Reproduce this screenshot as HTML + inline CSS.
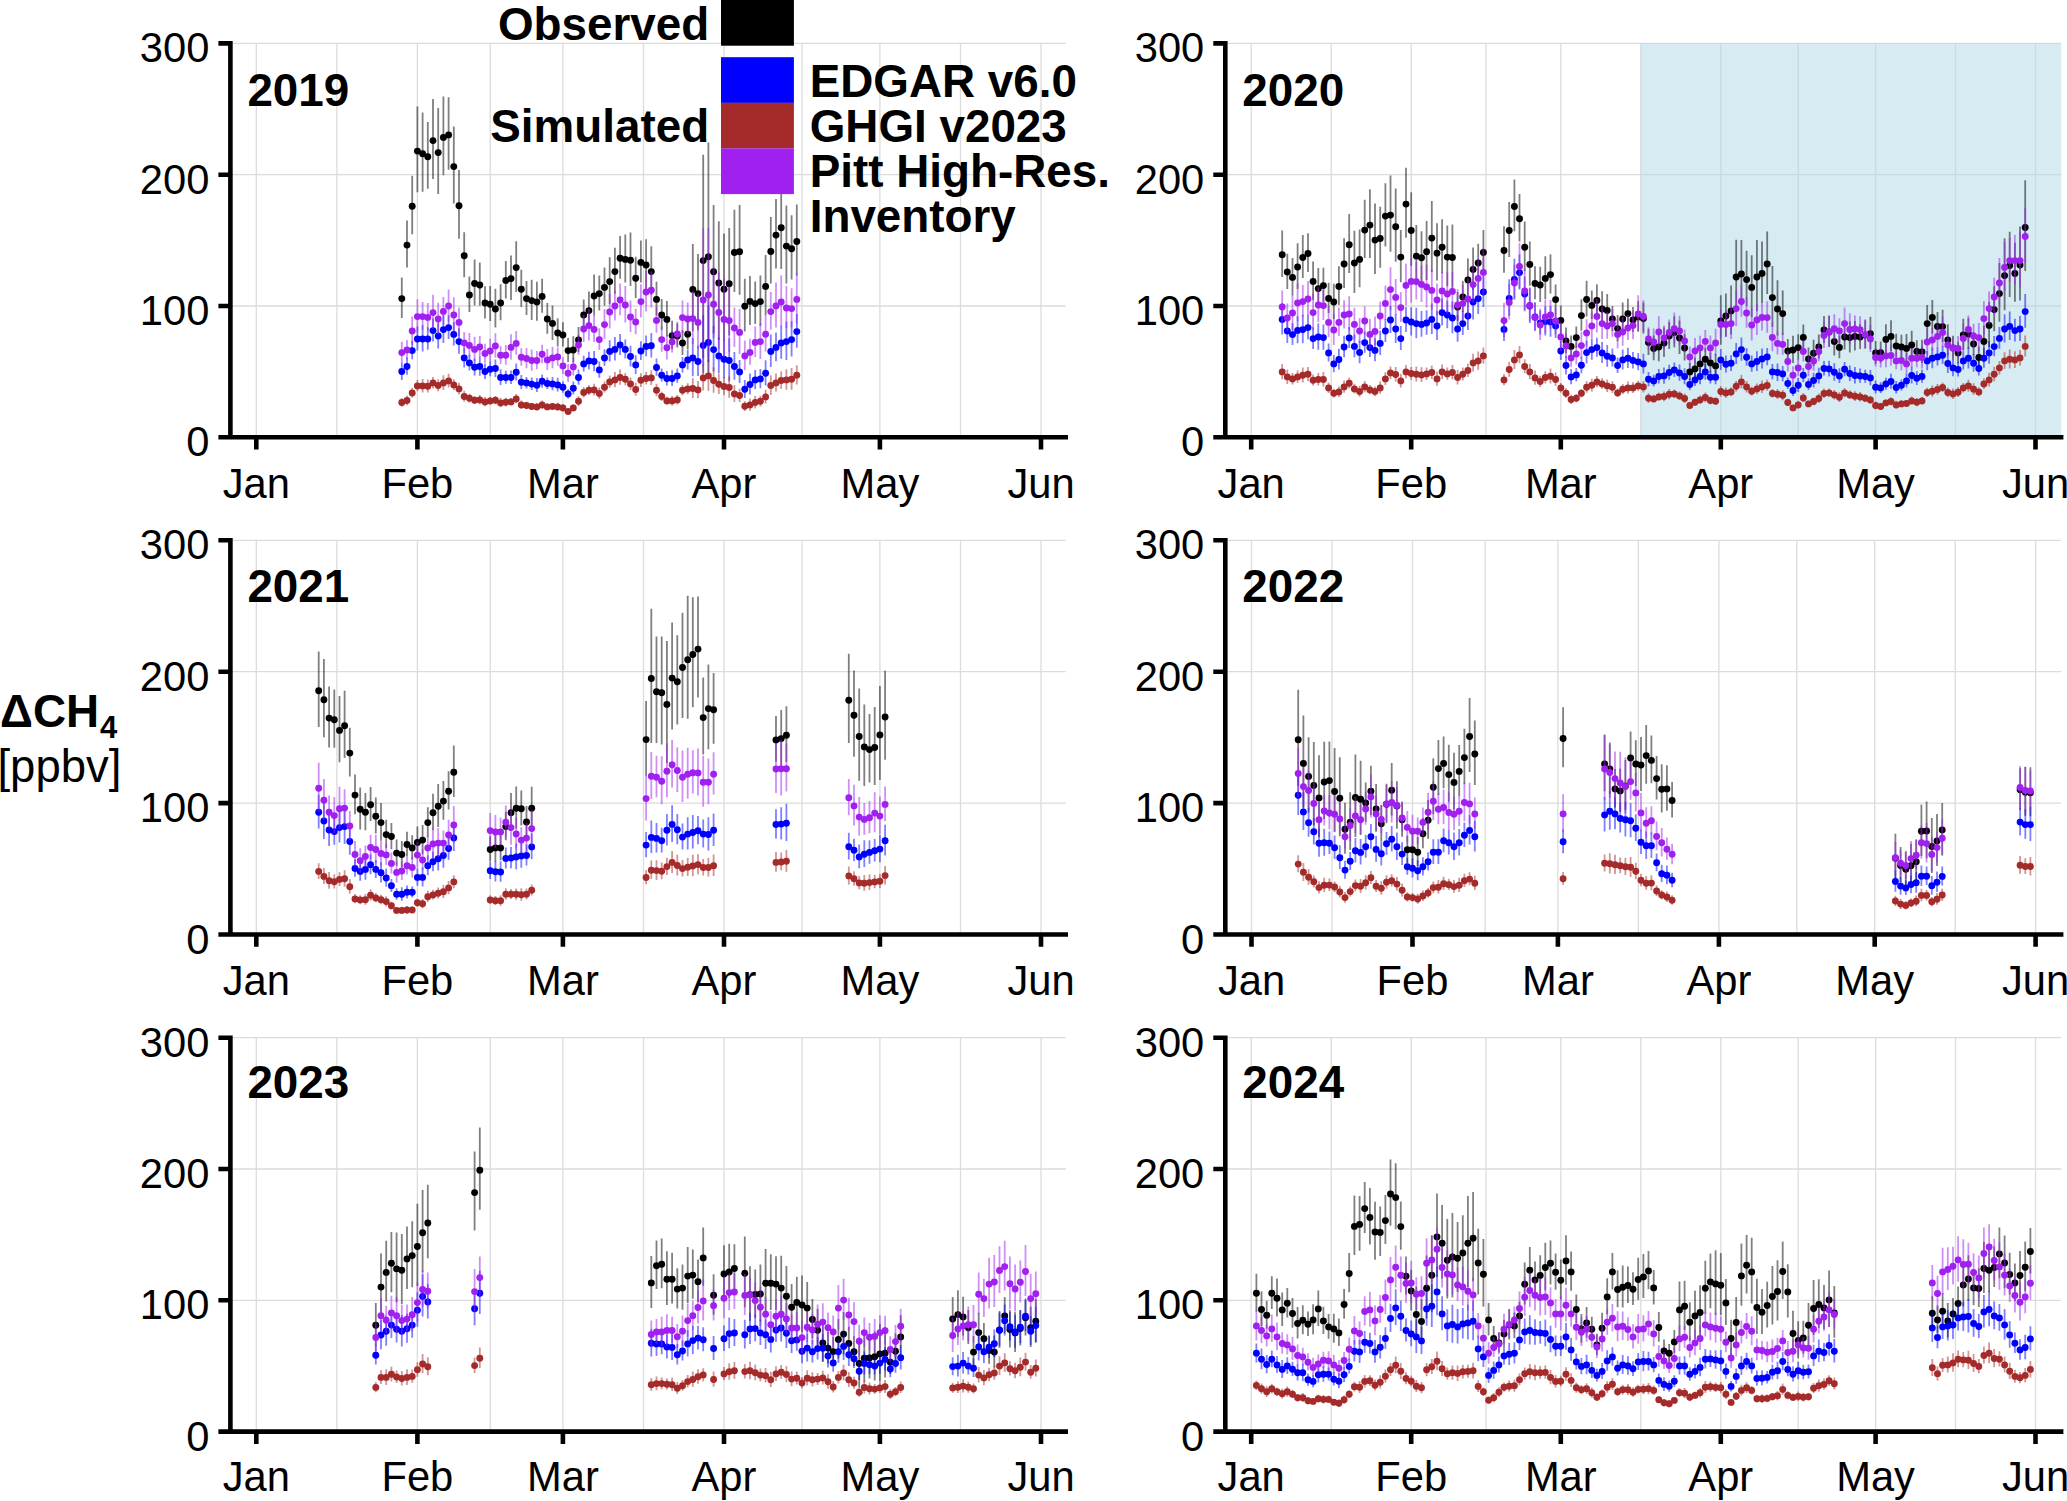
<!DOCTYPE html>
<html lang="en"><head><meta charset="utf-8"><title>Methane enhancement time series 2019-2024</title>
<style>
html,body{margin:0;padding:0;background:#fff}
body{width:2067px;height:1501px;overflow:hidden}
svg text{font-family:"Liberation Sans",Arial,Helvetica,sans-serif}
</style></head><body>
<svg width="2067" height="1501" viewBox="0 0 2067 1501" style="display:block">
<rect width="2067" height="1501" fill="#fff"/>
<g>
<path d="M256.3 43.4V437.3M417.4 43.4V437.3M562.9 43.4V437.3M724 43.4V437.3M879.9 43.4V437.3M1041 43.4V437.3M336.9 43.4V437.3M490.2 43.4V437.3M643.5 43.4V437.3M802 43.4V437.3M960.5 43.4V437.3M230.4 306H1065.8M230.4 174.7H1065.8M230.4 43.4H1065.8" stroke="#dcdcdc" stroke-width="1.3" fill="none"/>
<path d="M401.8 277.4V318.1M407 220.6V267.6M412.2 175.8V234.3M417.4 106.5V192.2M422.6 112.5V191.7M427.8 122V188.8M433 99.1V178.9M438.2 107.9V193.9M443.4 96.4V175.2M448.6 97.2V169.7M453.8 126.4V203.6M459 170.1V238.8M464.2 232.2V277.3M469.4 276.6V312M474.6 259.6V305.4M479.8 262.6V305.8M485 286.3V318.4M490.2 285.9V321.1M495.4 288.8V327.6M500.6 284.3V320.2M505.8 261V298.4M511 255.5V300M516.2 241.3V292M521.3 269.8V307.1M526.5 280.9V315M531.7 279.7V319.9M536.9 281.7V320.7M542.1 278.8V312.7M547.3 303V333.7M552.5 305.5V339.9M557.7 318.2V346.6M562.9 322.3V346.6M568.1 338.1V362M573.3 336.3V362.6M578.5 327V351.9M583.7 299.5V329.2M588.9 291.4V328.3M594.1 274.6V315.8M599.3 275.4V310.4M604.5 267.5V305.8M609.7 257.3V304.1M614.9 247.8V293.7M620.1 236.1V278.7M625.3 234.4V282.6M630.5 232.4V285.9M635.7 256.7V298.1M640.9 240.6V282.6M646.1 239.3V288.8M651.3 246.2V295.1M656.5 281.7V315.7M661.7 299V329.7M666.9 301.1V336.3M672.1 320.7V349.3M677.3 323.4V347.6M682.5 329.9V355M687.7 318V349.1M692.8 244.1V331.3M698 254V330.2M703.2 154.8V358.3M708.4 142.6V361.9M713.6 204.9V333.6M718.8 221.3V340M724 233.5V340.6M729.2 228V335.4M734.4 209.7V291.9M739.6 204.9V294.8M744.8 278.7V331.5M750 276V324.9M755.2 281.6V324M760.4 275.4V325.8M765.6 255V315.4M770.8 216.9V283.4M776 199V268.4M781.2 182.8V269.1M786.4 205.5V283.5M791.6 215.2V279.5M796.8 204.6V275.5" stroke="#000000" stroke-opacity="0.5" stroke-width="1.8" fill="none"/>
<g fill="#000000"><circle cx="401.8" cy="298.6" r="3.45"/><circle cx="407" cy="245.1" r="3.45"/><circle cx="412.2" cy="206.2" r="3.45"/><circle cx="417.4" cy="151.1" r="3.45"/><circle cx="422.6" cy="153.7" r="3.45"/><circle cx="427.8" cy="156.7" r="3.45"/><circle cx="433" cy="140.6" r="3.45"/><circle cx="438.2" cy="152.6" r="3.45"/><circle cx="443.4" cy="137.4" r="3.45"/><circle cx="448.6" cy="134.9" r="3.45"/><circle cx="453.8" cy="166.6" r="3.45"/><circle cx="459" cy="205.8" r="3.45"/><circle cx="464.2" cy="255.7" r="3.45"/><circle cx="469.4" cy="295" r="3.45"/><circle cx="474.6" cy="283.4" r="3.45"/><circle cx="479.8" cy="285" r="3.45"/><circle cx="485" cy="303" r="3.45"/><circle cx="490.2" cy="304.2" r="3.45"/><circle cx="495.4" cy="309" r="3.45"/><circle cx="500.6" cy="303" r="3.45"/><circle cx="505.8" cy="280.4" r="3.45"/><circle cx="511" cy="278.6" r="3.45"/><circle cx="516.2" cy="267.6" r="3.45"/><circle cx="521.3" cy="289.2" r="3.45"/><circle cx="526.5" cy="298.6" r="3.45"/><circle cx="531.7" cy="300.6" r="3.45"/><circle cx="536.9" cy="302" r="3.45"/><circle cx="542.1" cy="296.4" r="3.45"/><circle cx="547.3" cy="319" r="3.45"/><circle cx="552.5" cy="323.4" r="3.45"/><circle cx="557.7" cy="333" r="3.45"/><circle cx="562.9" cy="335" r="3.45"/><circle cx="568.1" cy="350.6" r="3.45"/><circle cx="573.3" cy="350" r="3.45"/><circle cx="578.5" cy="340" r="3.45"/><circle cx="583.7" cy="315" r="3.45"/><circle cx="588.9" cy="310.6" r="3.45"/><circle cx="594.1" cy="296" r="3.45"/><circle cx="599.3" cy="293.6" r="3.45"/><circle cx="604.5" cy="287.4" r="3.45"/><circle cx="609.7" cy="281.6" r="3.45"/><circle cx="614.9" cy="271.6" r="3.45"/><circle cx="620.1" cy="258.3" r="3.45"/><circle cx="625.3" cy="259.4" r="3.45"/><circle cx="630.5" cy="260.2" r="3.45"/><circle cx="635.7" cy="278.2" r="3.45"/><circle cx="640.9" cy="262.4" r="3.45"/><circle cx="646.1" cy="265" r="3.45"/><circle cx="651.3" cy="271.6" r="3.45"/><circle cx="656.5" cy="299.4" r="3.45"/><circle cx="661.7" cy="315" r="3.45"/><circle cx="666.9" cy="319.4" r="3.45"/><circle cx="672.1" cy="335.6" r="3.45"/><circle cx="677.3" cy="336" r="3.45"/><circle cx="682.5" cy="343" r="3.45"/><circle cx="687.7" cy="334.2" r="3.45"/><circle cx="692.8" cy="289.4" r="3.45"/><circle cx="698" cy="293.6" r="3.45"/><circle cx="703.2" cy="260.6" r="3.45"/><circle cx="708.4" cy="256.7" r="3.45"/><circle cx="713.6" cy="271.8" r="3.45"/><circle cx="718.8" cy="283" r="3.45"/><circle cx="724" cy="289.2" r="3.45"/><circle cx="729.2" cy="283.8" r="3.45"/><circle cx="734.4" cy="252.5" r="3.45"/><circle cx="739.6" cy="251.7" r="3.45"/><circle cx="744.8" cy="306.2" r="3.45"/><circle cx="750" cy="301.4" r="3.45"/><circle cx="755.2" cy="303.6" r="3.45"/><circle cx="760.4" cy="301.6" r="3.45"/><circle cx="765.6" cy="286.4" r="3.45"/><circle cx="770.8" cy="251.5" r="3.45"/><circle cx="776" cy="235.1" r="3.45"/><circle cx="781.2" cy="227.7" r="3.45"/><circle cx="786.4" cy="246.1" r="3.45"/><circle cx="791.6" cy="248.7" r="3.45"/><circle cx="796.8" cy="241.5" r="3.45"/></g>
<path d="M401.8 362.4V380M407 357.6V374.8M412.2 341V359.3M417.4 326.5V350.5M422.6 325.3V351.6M427.8 327.3V349.8M433 318.6V341.6M438.2 322.4V348.5M443.4 315V343M448.6 315.2V339M453.8 322.3V345.5M459 328.3V353.8M464.2 347.7V367.4M469.4 354.8V370.5M474.6 358.6V375.4M479.8 356.7V375.7M485 363.6V378.9M490.2 361.8V376.3M495.4 359.4V376.9M500.6 369.3V385.1M505.8 370.7V383.8M511 370.6V383.9M516.2 363.4V380.6M521.3 375.1V389M526.5 376.9V388.5M531.7 377.6V390.1M536.9 378V392M542.1 374.4V387.7M547.3 377.6V389M552.5 377V390.3M557.7 377.7V391.6M562.9 381.5V392.7M568.1 389V398.5M573.3 381.6V394.5M578.5 369.6V384.8M583.7 355.8V371.5M588.9 351.7V369.4M594.1 351V371.3M599.3 361.5V377.7M604.5 349.2V366M609.7 340.3V361.5M614.9 337.1V360.6M620.1 334.1V355M625.3 339.5V358.5M630.5 345.7V366.6M635.7 355.2V373.9M640.9 341.3V359.9M646.1 335.6V356.3M651.3 333V357.5M656.5 358.6V375.8M661.7 368.5V381.6M666.9 371.1V385.4M672.1 370.3V386.1M677.3 368.6V382.7M682.5 356.9V372.4M687.7 349.6V369.4M692.8 338.1V376.2M698 345.8V376.1M703.2 315V373.3M708.4 305.2V376.7M713.6 325.8V371.5M718.8 337.3V373.2M724 339.3V377.9M729.2 338.2V381.2M734.4 352.1V379.8M739.6 359.9V383M744.8 379.9V398M750 373.6V394.6M755.2 370V389.1M760.4 368.9V388.2M765.6 360.2V385.5M770.8 334.4V367M776 332.4V361.2M781.2 325.8V358.8M786.4 321.5V360.1M791.6 321.3V356.4M796.8 314.1V347.7" stroke="#0000FF" stroke-opacity="0.5" stroke-width="1.8" fill="none"/>
<g fill="#0000FF"><circle cx="401.8" cy="371.5" r="3.45"/><circle cx="407" cy="366.5" r="3.45"/><circle cx="412.2" cy="350.6" r="3.45"/><circle cx="417.4" cy="339" r="3.45"/><circle cx="422.6" cy="339" r="3.45"/><circle cx="427.8" cy="339" r="3.45"/><circle cx="433" cy="330.6" r="3.45"/><circle cx="438.2" cy="336" r="3.45"/><circle cx="443.4" cy="329.6" r="3.45"/><circle cx="448.6" cy="327.6" r="3.45"/><circle cx="453.8" cy="334.4" r="3.45"/><circle cx="459" cy="341.6" r="3.45"/><circle cx="464.2" cy="357.9" r="3.45"/><circle cx="469.4" cy="362.9" r="3.45"/><circle cx="474.6" cy="367.3" r="3.45"/><circle cx="479.8" cy="366.5" r="3.45"/><circle cx="485" cy="371.5" r="3.45"/><circle cx="490.2" cy="369.3" r="3.45"/><circle cx="495.4" cy="368.5" r="3.45"/><circle cx="500.6" cy="377.5" r="3.45"/><circle cx="505.8" cy="377.5" r="3.45"/><circle cx="511" cy="377.5" r="3.45"/><circle cx="516.2" cy="372.3" r="3.45"/><circle cx="521.3" cy="382.3" r="3.45"/><circle cx="526.5" cy="382.9" r="3.45"/><circle cx="531.7" cy="384.1" r="3.45"/><circle cx="536.9" cy="385.3" r="3.45"/><circle cx="542.1" cy="381.3" r="3.45"/><circle cx="547.3" cy="383.5" r="3.45"/><circle cx="552.5" cy="383.9" r="3.45"/><circle cx="557.7" cy="384.9" r="3.45"/><circle cx="562.9" cy="387.3" r="3.45"/><circle cx="568.1" cy="393.9" r="3.45"/><circle cx="573.3" cy="388.3" r="3.45"/><circle cx="578.5" cy="377.5" r="3.45"/><circle cx="583.7" cy="363.9" r="3.45"/><circle cx="588.9" cy="360.9" r="3.45"/><circle cx="594.1" cy="361.5" r="3.45"/><circle cx="599.3" cy="369.9" r="3.45"/><circle cx="604.5" cy="357.9" r="3.45"/><circle cx="609.7" cy="351.4" r="3.45"/><circle cx="614.9" cy="349.4" r="3.45"/><circle cx="620.1" cy="345" r="3.45"/><circle cx="625.3" cy="349.4" r="3.45"/><circle cx="630.5" cy="356.5" r="3.45"/><circle cx="635.7" cy="364.9" r="3.45"/><circle cx="640.9" cy="351" r="3.45"/><circle cx="646.1" cy="346.4" r="3.45"/><circle cx="651.3" cy="345.8" r="3.45"/><circle cx="656.5" cy="367.5" r="3.45"/><circle cx="661.7" cy="375.3" r="3.45"/><circle cx="666.9" cy="378.5" r="3.45"/><circle cx="672.1" cy="378.5" r="3.45"/><circle cx="677.3" cy="375.9" r="3.45"/><circle cx="682.5" cy="364.9" r="3.45"/><circle cx="687.7" cy="359.9" r="3.45"/><circle cx="692.8" cy="357.9" r="3.45"/><circle cx="698" cy="361.5" r="3.45"/><circle cx="703.2" cy="345.4" r="3.45"/><circle cx="708.4" cy="342.4" r="3.45"/><circle cx="713.6" cy="349.6" r="3.45"/><circle cx="718.8" cy="355.9" r="3.45"/><circle cx="724" cy="359.3" r="3.45"/><circle cx="729.2" cy="360.5" r="3.45"/><circle cx="734.4" cy="366.5" r="3.45"/><circle cx="739.6" cy="371.9" r="3.45"/><circle cx="744.8" cy="389.3" r="3.45"/><circle cx="750" cy="384.5" r="3.45"/><circle cx="755.2" cy="379.9" r="3.45"/><circle cx="760.4" cy="378.9" r="3.45"/><circle cx="765.6" cy="373.3" r="3.45"/><circle cx="770.8" cy="351.4" r="3.45"/><circle cx="776" cy="347.4" r="3.45"/><circle cx="781.2" cy="343" r="3.45"/><circle cx="786.4" cy="341.6" r="3.45"/><circle cx="791.6" cy="339.6" r="3.45"/><circle cx="796.8" cy="331.6" r="3.45"/></g>
<path d="M401.8 398V406.7M407 395.4V405.2M412.2 387.7V397.7M417.4 380.1V391.3M422.6 378.9V392.4M427.8 379.5V392.6M433 376.9V388.5M438.2 379.3V391.2M443.4 375.3V389.9M448.6 373.8V387.5M453.8 379.2V390.2M459 382.7V394.6M464.2 390.8V401.7M469.4 393.7V402.6M474.6 396.1V404.1M479.8 394.9V404.5M485 397.1V406.3M490.2 396.8V404.7M495.4 395.9V404.3M500.6 398.1V407.3M505.8 397.8V406.4M511 398V405.5M516.2 394.1V403.3M521.3 400.4V409.1M526.5 401.7V409M531.7 403.1V409.7M536.9 402.9V410.6M542.1 400.5V409M547.3 403.4V410.1M552.5 402.9V409.8M557.7 402.7V410.8M562.9 404.1V411.4M568.1 408.6V414.1M573.3 404.3V411.2M578.5 396.3V405.9M583.7 387V397.6M588.9 385.1V395.1M594.1 383.7V395.6M599.3 387.5V399.1M604.5 381.5V392.6M609.7 375.6V387.8M614.9 372.1V387.2M620.1 369.6V384.8M625.3 372.9V385.3M630.5 377.5V389.9M635.7 382.8V395.7M640.9 373.2V386.9M646.1 372.1V384.5M651.3 370.3V385M656.5 383.8V396.3M661.7 391.7V400.9M666.9 396.8V404.7M672.1 396V405.4M677.3 394.9V404.5M682.5 385V395.2M687.7 383.2V394.2M692.8 378.3V397.9M698 380.9V398.3M703.2 364.3V390.5M708.4 359.8V390.8M713.6 367.3V392.7M718.8 373.8V394.1M724 377.1V395.2M729.2 376.4V397.7M734.4 385.1V402.1M739.6 388.4V402.1M744.8 401.2V411M750 398.5V410.8M755.2 396.1V408.4M760.4 395.7V406.5M765.6 389.8V403.5M770.8 375.3V395M776 373.5V391.6M781.2 371.6V388.7M786.4 369.2V389.8M791.6 368.1V389.7M796.8 365.2V384.6" stroke="#A52A2A" stroke-opacity="0.5" stroke-width="1.8" fill="none"/>
<g fill="#A52A2A"><circle cx="401.8" cy="402.5" r="3.45"/><circle cx="407" cy="400.5" r="3.45"/><circle cx="412.2" cy="392.9" r="3.45"/><circle cx="417.4" cy="385.9" r="3.45"/><circle cx="422.6" cy="385.9" r="3.45"/><circle cx="427.8" cy="386.3" r="3.45"/><circle cx="433" cy="382.9" r="3.45"/><circle cx="438.2" cy="385.5" r="3.45"/><circle cx="443.4" cy="382.9" r="3.45"/><circle cx="448.6" cy="380.9" r="3.45"/><circle cx="453.8" cy="384.9" r="3.45"/><circle cx="459" cy="388.9" r="3.45"/><circle cx="464.2" cy="396.5" r="3.45"/><circle cx="469.4" cy="398.3" r="3.45"/><circle cx="474.6" cy="400.3" r="3.45"/><circle cx="479.8" cy="399.9" r="3.45"/><circle cx="485" cy="401.9" r="3.45"/><circle cx="490.2" cy="400.9" r="3.45"/><circle cx="495.4" cy="400.3" r="3.45"/><circle cx="500.6" cy="402.9" r="3.45"/><circle cx="505.8" cy="402.3" r="3.45"/><circle cx="511" cy="401.9" r="3.45"/><circle cx="516.2" cy="398.9" r="3.45"/><circle cx="521.3" cy="404.9" r="3.45"/><circle cx="526.5" cy="405.5" r="3.45"/><circle cx="531.7" cy="406.5" r="3.45"/><circle cx="536.9" cy="406.9" r="3.45"/><circle cx="542.1" cy="404.9" r="3.45"/><circle cx="547.3" cy="406.9" r="3.45"/><circle cx="552.5" cy="406.5" r="3.45"/><circle cx="557.7" cy="406.9" r="3.45"/><circle cx="562.9" cy="407.9" r="3.45"/><circle cx="568.1" cy="411.5" r="3.45"/><circle cx="573.3" cy="407.9" r="3.45"/><circle cx="578.5" cy="401.3" r="3.45"/><circle cx="583.7" cy="392.5" r="3.45"/><circle cx="588.9" cy="390.3" r="3.45"/><circle cx="594.1" cy="389.9" r="3.45"/><circle cx="599.3" cy="393.5" r="3.45"/><circle cx="604.5" cy="387.3" r="3.45"/><circle cx="609.7" cy="381.9" r="3.45"/><circle cx="614.9" cy="379.9" r="3.45"/><circle cx="620.1" cy="377.5" r="3.45"/><circle cx="625.3" cy="379.3" r="3.45"/><circle cx="630.5" cy="383.9" r="3.45"/><circle cx="635.7" cy="389.5" r="3.45"/><circle cx="640.9" cy="380.3" r="3.45"/><circle cx="646.1" cy="378.5" r="3.45"/><circle cx="651.3" cy="377.9" r="3.45"/><circle cx="656.5" cy="390.3" r="3.45"/><circle cx="661.7" cy="396.5" r="3.45"/><circle cx="666.9" cy="400.9" r="3.45"/><circle cx="672.1" cy="400.9" r="3.45"/><circle cx="677.3" cy="399.9" r="3.45"/><circle cx="682.5" cy="390.3" r="3.45"/><circle cx="687.7" cy="388.9" r="3.45"/><circle cx="692.8" cy="388.5" r="3.45"/><circle cx="698" cy="389.9" r="3.45"/><circle cx="703.2" cy="377.9" r="3.45"/><circle cx="708.4" cy="375.9" r="3.45"/><circle cx="713.6" cy="380.5" r="3.45"/><circle cx="718.8" cy="384.3" r="3.45"/><circle cx="724" cy="386.5" r="3.45"/><circle cx="729.2" cy="387.5" r="3.45"/><circle cx="734.4" cy="393.9" r="3.45"/><circle cx="739.6" cy="395.5" r="3.45"/><circle cx="744.8" cy="406.3" r="3.45"/><circle cx="750" cy="404.9" r="3.45"/><circle cx="755.2" cy="402.5" r="3.45"/><circle cx="760.4" cy="401.3" r="3.45"/><circle cx="765.6" cy="396.9" r="3.45"/><circle cx="770.8" cy="385.5" r="3.45"/><circle cx="776" cy="382.9" r="3.45"/><circle cx="781.2" cy="380.5" r="3.45"/><circle cx="786.4" cy="379.9" r="3.45"/><circle cx="791.6" cy="379.3" r="3.45"/><circle cx="796.8" cy="375.3" r="3.45"/></g>
<path d="M401.8 341.8V362.5M407 339.9V359.2M412.2 316.4V344.4M417.4 299.3V332.5M422.6 302.1V329.9M427.8 303V330.6M433 294.8V329M438.2 302.8V334M443.4 296.9V324.8M448.6 289.4V321.4M453.8 297.2V331.4M459 307.5V336.1M464.2 332.1V352.9M469.4 333V356.8M474.6 336.7V361.1M479.8 336V357.1M485 343.7V362.7M490.2 338.7V362.2M495.4 333.3V357.7M500.6 345.8V364.1M505.8 345.1V364.8M511 334.3V359.4M516.2 331V354.8M521.3 348.2V365.8M526.5 348.1V368.2M531.7 349.4V370.8M536.9 351V369.3M542.1 344.7V363.3M547.3 349.1V369.9M552.5 346.8V368.3M557.7 347.5V365.7M562.9 357.2V374M568.1 364.1V381.9M573.3 357.5V375.6M578.5 334.4V354.7M583.7 314.9V342M588.9 309.3V340.6M594.1 315.8V341.9M599.3 328.3V350M604.5 309.1V338.9M609.7 294.1V328.5M614.9 290.4V320.4M620.1 283.5V315.3M625.3 286V322.5M630.5 300.6V332.1M635.7 308.7V334.2M640.9 284.3V317.6M646.1 270.9V311.5M651.3 271.4V307.6M656.5 307V332.8M661.7 326.3V351.8M666.9 334.9V359.6M672.1 330.4V352.6M677.3 321.7V345.3M682.5 300.6V333.3M687.7 302.6V334.1M692.8 291.1V344M698 293.6V349M703.2 228.2V366.3M708.4 228.1V356.8M713.6 267.6V338M718.8 272.4V349.3M724 278.4V357.2M729.2 286.2V352.3M734.4 307.5V346.9M739.6 308.8V354.1M744.8 340.4V370.3M750 338.8V364.8M755.2 326.4V357.1M760.4 322.7V359M765.6 315.5V351.4M770.8 292V329.7M776 282.6V327.6M781.2 275.3V326.7M786.4 286V328.3M791.6 288.3V327.3M796.8 273.4V323.4" stroke="#A020F0" stroke-opacity="0.5" stroke-width="1.8" fill="none"/>
<g fill="#A020F0"><circle cx="401.8" cy="352.6" r="3.45"/><circle cx="407" cy="350" r="3.45"/><circle cx="412.2" cy="331" r="3.45"/><circle cx="417.4" cy="316.6" r="3.45"/><circle cx="422.6" cy="316.6" r="3.45"/><circle cx="427.8" cy="317.4" r="3.45"/><circle cx="433" cy="312.6" r="3.45"/><circle cx="438.2" cy="319" r="3.45"/><circle cx="443.4" cy="311.4" r="3.45"/><circle cx="448.6" cy="306" r="3.45"/><circle cx="453.8" cy="315" r="3.45"/><circle cx="459" cy="322.4" r="3.45"/><circle cx="464.2" cy="343" r="3.45"/><circle cx="469.4" cy="345.4" r="3.45"/><circle cx="474.6" cy="349.4" r="3.45"/><circle cx="479.8" cy="347" r="3.45"/><circle cx="485" cy="353.5" r="3.45"/><circle cx="490.2" cy="351" r="3.45"/><circle cx="495.4" cy="346" r="3.45"/><circle cx="500.6" cy="355.3" r="3.45"/><circle cx="505.8" cy="355.3" r="3.45"/><circle cx="511" cy="347.4" r="3.45"/><circle cx="516.2" cy="343.4" r="3.45"/><circle cx="521.3" cy="357.3" r="3.45"/><circle cx="526.5" cy="358.5" r="3.45"/><circle cx="531.7" cy="360.5" r="3.45"/><circle cx="536.9" cy="360.5" r="3.45"/><circle cx="542.1" cy="354.3" r="3.45"/><circle cx="547.3" cy="359.9" r="3.45"/><circle cx="552.5" cy="357.9" r="3.45"/><circle cx="557.7" cy="356.9" r="3.45"/><circle cx="562.9" cy="365.9" r="3.45"/><circle cx="568.1" cy="373.3" r="3.45"/><circle cx="573.3" cy="366.9" r="3.45"/><circle cx="578.5" cy="345" r="3.45"/><circle cx="583.7" cy="329" r="3.45"/><circle cx="588.9" cy="325.6" r="3.45"/><circle cx="594.1" cy="329.4" r="3.45"/><circle cx="599.3" cy="339.6" r="3.45"/><circle cx="604.5" cy="324.6" r="3.45"/><circle cx="609.7" cy="312" r="3.45"/><circle cx="614.9" cy="306" r="3.45"/><circle cx="620.1" cy="300" r="3.45"/><circle cx="625.3" cy="305" r="3.45"/><circle cx="630.5" cy="317" r="3.45"/><circle cx="635.7" cy="322" r="3.45"/><circle cx="640.9" cy="301.6" r="3.45"/><circle cx="646.1" cy="292" r="3.45"/><circle cx="651.3" cy="290.2" r="3.45"/><circle cx="656.5" cy="320.4" r="3.45"/><circle cx="661.7" cy="339.6" r="3.45"/><circle cx="666.9" cy="347.8" r="3.45"/><circle cx="672.1" cy="342" r="3.45"/><circle cx="677.3" cy="334" r="3.45"/><circle cx="682.5" cy="317.6" r="3.45"/><circle cx="687.7" cy="319" r="3.45"/><circle cx="692.8" cy="318.6" r="3.45"/><circle cx="698" cy="322.4" r="3.45"/><circle cx="703.2" cy="300" r="3.45"/><circle cx="708.4" cy="295" r="3.45"/><circle cx="713.6" cy="304.2" r="3.45"/><circle cx="718.8" cy="312.4" r="3.45"/><circle cx="724" cy="319.4" r="3.45"/><circle cx="729.2" cy="320.6" r="3.45"/><circle cx="734.4" cy="328" r="3.45"/><circle cx="739.6" cy="332.4" r="3.45"/><circle cx="744.8" cy="355.9" r="3.45"/><circle cx="750" cy="352.4" r="3.45"/><circle cx="755.2" cy="342.4" r="3.45"/><circle cx="760.4" cy="341.6" r="3.45"/><circle cx="765.6" cy="334.2" r="3.45"/><circle cx="770.8" cy="311.6" r="3.45"/><circle cx="776" cy="306" r="3.45"/><circle cx="781.2" cy="302" r="3.45"/><circle cx="786.4" cy="308" r="3.45"/><circle cx="791.6" cy="308.6" r="3.45"/><circle cx="796.8" cy="299.4" r="3.45"/></g>
<path d="M230.4 41.1V437.3M228.1 437.3H1068M218.4 437.3H230.4M218.4 306H230.4M218.4 174.7H230.4M218.4 43.4H230.4M256.3 437.3V449.6M417.4 437.3V449.6M562.9 437.3V449.6M724 437.3V449.6M879.9 437.3V449.6M1041 437.3V449.6" stroke="#000" stroke-width="4.6" fill="none"/>
<g font-size="41.7" fill="#000"><text x="209.4" y="456.3" text-anchor="end">0</text><text x="209.4" y="325" text-anchor="end">100</text><text x="209.4" y="193.7" text-anchor="end">200</text><text x="209.4" y="62.4" text-anchor="end">300</text><text x="256.3" y="497.6" text-anchor="middle">Jan</text><text x="417.4" y="497.6" text-anchor="middle">Feb</text><text x="562.9" y="497.6" text-anchor="middle">Mar</text><text x="724" y="497.6" text-anchor="middle">Apr</text><text x="879.9" y="497.6" text-anchor="middle">May</text><text x="1041" y="497.6" text-anchor="middle">Jun</text></g>
<text x="247.4" y="105.5" font-size="45.8" font-weight="bold">2019</text>
</g>
<g>
<path d="M1251.2 43.4V437.3M1411.2 43.4V437.3M1560.8 43.4V437.3M1720.8 43.4V437.3M1875.6 43.4V437.3M2035.5 43.4V437.3M1331.2 43.4V437.3M1486 43.4V437.3M1640.8 43.4V437.3M1798.2 43.4V437.3M1955.5 43.4V437.3M1225.3 306H2061.2M1225.3 174.7H2061.2M1225.3 43.4H2061.2" stroke="#dcdcdc" stroke-width="1.3" fill="none"/>
<rect x="1640.8" y="43.4" width="420.4" height="393.9" fill="#ADD8E6" fill-opacity="0.5"/>
<path d="M1282.2 230.5V276.9M1287.3 253.7V289M1292.5 258.1V295.3M1297.6 243.3V289M1302.8 235V278.1M1308 233.2V272.1M1313.1 261.4V300M1318.3 268V307.6M1323.4 267.8V302M1328.6 282.7V312.9M1333.8 283.7V318.9M1338.9 266.2V305.1M1344.1 238.2V287.9M1349.2 214.1V272.9M1354.4 230.7V292.9M1359.6 229.4V287.2M1364.7 199.7V258.1M1369.9 189.3V258.1M1375 203.4V273.9M1380.2 206.8V267.7M1385.4 183.2V246.5M1390.5 175.5V251.7M1395.7 188.6V261.8M1400.8 229.9V282.2M1406 167.7V237.7M1411.2 192.3V265.7M1416.3 224.9V284.8M1421.5 231.3V282M1426.6 220.9V280.1M1431.8 201V272.3M1437 223.2V280.6M1442.1 219.2V273.2M1447.3 225.4V286.3M1452.4 224.6V287.8M1457.6 292.1V320.8M1462.8 280.9V311.9M1467.9 258.4V300M1473.1 247.4V289.8M1478.2 243.8V280.8M1483.4 229.9V273.3M1504 226.2V272.8M1509.2 201.9V256.9M1514.4 179.6V231.3M1519.5 193.9V241.6M1524.7 221.4V271.1M1529.8 241.4V285.7M1535 266.3V299.2M1540.2 266.8V301.9M1545.3 256.3V298.9M1550.5 254.2V293.5M1555.6 284.5V313.6M1560.8 305.5V334.2M1566 327.6V353.3M1571.1 335.6V356.3M1576.3 326.4V347.9M1581.4 299.2V330.7M1586.6 280.8V316.6M1591.8 290.6V319.1M1596.9 284.3V315.3M1602.1 291.2V325.4M1607.2 294.1V325.4M1612.4 306V331M1617.6 314.9V341.2M1622.7 302.5V334.2M1627.9 298.7V327.3M1633 306.9V332M1638.2 301V331.7M1643.4 302.4V333.5M1648.5 329.1V355M1653.7 335.5V360.3M1658.8 331.4V361.3M1664 327.6V357.1M1669.2 322V348.9M1674.3 316.2V347.3M1679.5 320.6V354M1684.6 334.3V360.6M1689.8 362.9V380.3M1695 357.8V379.2M1700.1 351.3V375.6M1705.3 348.1V369.7M1710.4 352.3V372.7M1715.6 353.7V377.2M1720.8 295.3V344.7M1725.9 293.6V336.7M1731.1 285.5V334.5M1736.2 239.7V311.5M1741.4 240.1V305.4M1746.6 250.7V306.3M1751.7 255.3V317.1M1756.9 240V311.2M1762 241.4V303M1767.2 231.5V294.1M1772.4 266.1V326.7M1777.5 280.3V335.5M1782.7 290.5V334.9M1787.8 339V362M1793 335.8V363M1798.2 334.2V359.8M1803.3 324.6V349.2M1808.5 347.4V369.6M1813.6 339.7V365.9M1818.8 334.4V358.6M1824 316V342.9M1829.1 315.6V347.1M1834.3 326.4V355.6M1839.4 335.5V358.3M1844.6 323.3V349.6M1849.8 321.5V352.4M1854.9 321.1V350.4M1860.1 324.1V348.9M1865.2 320.2V348.6M1870.4 316.7V349.2M1875.6 341V364M1880.7 341.6V362.7M1885.9 324.3V353.2M1891 320.2V351.3M1896.2 333.7V357.3M1901.4 334.8V358.1M1906.5 334.1V361.5M1911.7 330.8V358M1916.8 340.3V361.6M1922 339.8V363.2M1927.2 305V340.7M1932.3 300.1V333.4M1937.5 312.1V339.5M1942.6 309.8V342M1947.8 324.3V354.5M1953 335.8V359.2M1958.1 341.8V363.3M1963.3 318.7V350M1968.4 317.9V348.8M1973.6 331.8V355.2M1978.8 346.4V367.8M1983.9 325.8V355.8M1989.1 301.9V347.1M1994.2 286.2V331.2M1999.4 263.1V321.8M2004.6 238.2V310.2M2009.7 231.7V296.9M2014.9 242.8V301.7M2020 226.5V300.6M2025.2 180.3V271.1" stroke="#000000" stroke-opacity="0.5" stroke-width="1.8" fill="none"/>
<g fill="#000000"><circle cx="1282.2" cy="254.7" r="3.45"/><circle cx="1287.3" cy="272" r="3.45"/><circle cx="1292.5" cy="277.4" r="3.45"/><circle cx="1297.6" cy="267" r="3.45"/><circle cx="1302.8" cy="257.5" r="3.45"/><circle cx="1308" cy="253.5" r="3.45"/><circle cx="1313.1" cy="281.4" r="3.45"/><circle cx="1318.3" cy="288.6" r="3.45"/><circle cx="1323.4" cy="285.6" r="3.45"/><circle cx="1328.6" cy="298.4" r="3.45"/><circle cx="1333.8" cy="302" r="3.45"/><circle cx="1338.9" cy="286.4" r="3.45"/><circle cx="1344.1" cy="264" r="3.45"/><circle cx="1349.2" cy="244.7" r="3.45"/><circle cx="1354.4" cy="263" r="3.45"/><circle cx="1359.6" cy="259.4" r="3.45"/><circle cx="1364.7" cy="230.1" r="3.45"/><circle cx="1369.9" cy="225.1" r="3.45"/><circle cx="1375" cy="240.1" r="3.45"/><circle cx="1380.2" cy="238.5" r="3.45"/><circle cx="1385.4" cy="216.1" r="3.45"/><circle cx="1390.5" cy="215.1" r="3.45"/><circle cx="1395.7" cy="226.7" r="3.45"/><circle cx="1400.8" cy="257.1" r="3.45"/><circle cx="1406" cy="204.1" r="3.45"/><circle cx="1411.2" cy="230.5" r="3.45"/><circle cx="1416.3" cy="256.1" r="3.45"/><circle cx="1421.5" cy="257.7" r="3.45"/><circle cx="1426.6" cy="251.7" r="3.45"/><circle cx="1431.8" cy="238.1" r="3.45"/><circle cx="1437" cy="253.1" r="3.45"/><circle cx="1442.1" cy="247.3" r="3.45"/><circle cx="1447.3" cy="257.1" r="3.45"/><circle cx="1452.4" cy="257.5" r="3.45"/><circle cx="1457.6" cy="307" r="3.45"/><circle cx="1462.8" cy="297" r="3.45"/><circle cx="1467.9" cy="280" r="3.45"/><circle cx="1473.1" cy="269.4" r="3.45"/><circle cx="1478.2" cy="263" r="3.45"/><circle cx="1483.4" cy="252.5" r="3.45"/><circle cx="1504" cy="250.5" r="3.45"/><circle cx="1509.2" cy="230.5" r="3.45"/><circle cx="1514.4" cy="206.5" r="3.45"/><circle cx="1519.5" cy="218.7" r="3.45"/><circle cx="1524.7" cy="247.3" r="3.45"/><circle cx="1529.8" cy="264.4" r="3.45"/><circle cx="1535" cy="283.4" r="3.45"/><circle cx="1540.2" cy="285" r="3.45"/><circle cx="1545.3" cy="278.4" r="3.45"/><circle cx="1550.5" cy="274.6" r="3.45"/><circle cx="1555.6" cy="299.6" r="3.45"/><circle cx="1560.8" cy="320.4" r="3.45"/><circle cx="1566" cy="341" r="3.45"/><circle cx="1571.1" cy="346.4" r="3.45"/><circle cx="1576.3" cy="337.6" r="3.45"/><circle cx="1581.4" cy="315.6" r="3.45"/><circle cx="1586.6" cy="299.4" r="3.45"/><circle cx="1591.8" cy="305.4" r="3.45"/><circle cx="1596.9" cy="300.4" r="3.45"/><circle cx="1602.1" cy="309" r="3.45"/><circle cx="1607.2" cy="310.4" r="3.45"/><circle cx="1612.4" cy="319" r="3.45"/><circle cx="1617.6" cy="328.6" r="3.45"/><circle cx="1622.7" cy="319" r="3.45"/><circle cx="1627.9" cy="313.6" r="3.45"/><circle cx="1633" cy="320" r="3.45"/><circle cx="1638.2" cy="317" r="3.45"/><circle cx="1643.4" cy="318.6" r="3.45"/><circle cx="1648.5" cy="342.6" r="3.45"/><circle cx="1653.7" cy="348.4" r="3.45"/><circle cx="1658.8" cy="347" r="3.45"/><circle cx="1664" cy="343" r="3.45"/><circle cx="1669.2" cy="336" r="3.45"/><circle cx="1674.3" cy="332.4" r="3.45"/><circle cx="1679.5" cy="338" r="3.45"/><circle cx="1684.6" cy="348" r="3.45"/><circle cx="1689.8" cy="371.9" r="3.45"/><circle cx="1695" cy="368.9" r="3.45"/><circle cx="1700.1" cy="363.9" r="3.45"/><circle cx="1705.3" cy="359.3" r="3.45"/><circle cx="1710.4" cy="362.9" r="3.45"/><circle cx="1715.6" cy="365.9" r="3.45"/><circle cx="1720.8" cy="321" r="3.45"/><circle cx="1725.9" cy="316" r="3.45"/><circle cx="1731.1" cy="311" r="3.45"/><circle cx="1736.2" cy="277" r="3.45"/><circle cx="1741.4" cy="274" r="3.45"/><circle cx="1746.6" cy="279.6" r="3.45"/><circle cx="1751.7" cy="287.4" r="3.45"/><circle cx="1756.9" cy="277" r="3.45"/><circle cx="1762" cy="273.4" r="3.45"/><circle cx="1767.2" cy="264" r="3.45"/><circle cx="1772.4" cy="297.6" r="3.45"/><circle cx="1777.5" cy="309" r="3.45"/><circle cx="1782.7" cy="313.6" r="3.45"/><circle cx="1787.8" cy="351" r="3.45"/><circle cx="1793" cy="350" r="3.45"/><circle cx="1798.2" cy="347.6" r="3.45"/><circle cx="1803.3" cy="337.4" r="3.45"/><circle cx="1808.5" cy="358.9" r="3.45"/><circle cx="1813.6" cy="353.3" r="3.45"/><circle cx="1818.8" cy="347" r="3.45"/><circle cx="1824" cy="330" r="3.45"/><circle cx="1829.1" cy="332" r="3.45"/><circle cx="1834.3" cy="341.6" r="3.45"/><circle cx="1839.4" cy="347.4" r="3.45"/><circle cx="1844.6" cy="337" r="3.45"/><circle cx="1849.8" cy="337.6" r="3.45"/><circle cx="1854.9" cy="336.4" r="3.45"/><circle cx="1860.1" cy="337" r="3.45"/><circle cx="1865.2" cy="335" r="3.45"/><circle cx="1870.4" cy="333.6" r="3.45"/><circle cx="1875.6" cy="352.9" r="3.45"/><circle cx="1880.7" cy="352.6" r="3.45"/><circle cx="1885.9" cy="339.4" r="3.45"/><circle cx="1891" cy="336.4" r="3.45"/><circle cx="1896.2" cy="346" r="3.45"/><circle cx="1901.4" cy="347" r="3.45"/><circle cx="1906.5" cy="348.4" r="3.45"/><circle cx="1911.7" cy="345" r="3.45"/><circle cx="1916.8" cy="351.4" r="3.45"/><circle cx="1922" cy="352" r="3.45"/><circle cx="1927.2" cy="323.6" r="3.45"/><circle cx="1932.3" cy="317.4" r="3.45"/><circle cx="1937.5" cy="326.4" r="3.45"/><circle cx="1942.6" cy="326.6" r="3.45"/><circle cx="1947.8" cy="340" r="3.45"/><circle cx="1953" cy="348" r="3.45"/><circle cx="1958.1" cy="352.9" r="3.45"/><circle cx="1963.3" cy="335" r="3.45"/><circle cx="1968.4" cy="334" r="3.45"/><circle cx="1973.6" cy="344" r="3.45"/><circle cx="1978.8" cy="357.5" r="3.45"/><circle cx="1983.9" cy="341.4" r="3.45"/><circle cx="1989.1" cy="325.4" r="3.45"/><circle cx="1994.2" cy="309.6" r="3.45"/><circle cx="1999.4" cy="293.6" r="3.45"/><circle cx="2004.6" cy="275.6" r="3.45"/><circle cx="2009.7" cy="265.6" r="3.45"/><circle cx="2014.9" cy="273.4" r="3.45"/><circle cx="2020" cy="265" r="3.45"/><circle cx="2025.2" cy="227.5" r="3.45"/></g>
<path d="M1282.2 302.9V334.6M1287.3 318V342.9M1292.5 323.2V345.1M1297.6 316.3V343.3M1302.8 314.8V343.2M1308 315V339.2M1313.1 327.2V349M1318.3 323.2V349.7M1323.4 324.4V349.7M1328.6 343.6V361.6M1333.8 355V372.2M1338.9 348.7V369.6M1344.1 335.7V357.3M1349.2 327V348.1M1354.4 334.6V357.2M1359.6 340.6V363.2M1364.7 331.5V352.8M1369.9 337.4V356.9M1375 338.6V361.2M1380.2 330.8V354.9M1385.4 319.1V341.9M1390.5 306V332.9M1395.7 313.9V342.9M1400.8 326.1V350.1M1406 307.1V331.9M1411.2 307.3V335.5M1416.3 307.8V338.2M1421.5 311V336.8M1426.6 310.2V334.8M1431.8 303.6V334M1437 310.9V339.9M1442.1 298.5V325.6M1447.3 300.6V328.2M1452.4 301.4V333.3M1457.6 315V341.8M1462.8 311.1V335.1M1467.9 300.8V330M1473.1 283.1V319.4M1478.2 281.8V314.1M1483.4 275.9V306.9M1504 316.9V340.9M1509.2 279.3V316.1M1514.4 258.8V298.5M1519.5 254.5V289.4M1524.7 276.4V310.2M1529.8 287.6V322.9M1535 302.2V330.7M1540.2 310.4V334.6M1545.3 306.5V335.5M1550.5 306.1V336.7M1555.6 313.1V337.9M1560.8 341.1V360M1566 355.7V374.6M1571.1 368.9V384.3M1576.3 368V381.3M1581.4 356.7V373.3M1586.6 340.7V363.5M1591.8 338.6V359.7M1596.9 337.7V356.7M1602.1 342.1V362.9M1607.2 345.1V366.7M1612.4 348.6V366.6M1617.6 357.5V373M1622.7 349.5V369.6M1627.9 347.7V368.1M1633 351.9V368.5M1638.2 353V370.2M1643.4 353.7V373.4M1648.5 371.9V386.2M1653.7 374.7V386.6M1658.8 368.9V383.6M1664 367.4V383.8M1669.2 364.8V379.7M1674.3 362.4V376.9M1679.5 364.4V380.8M1684.6 368.3V384.2M1689.8 378.5V390.1M1695 373.2V386.1M1700.1 368.1V384.3M1705.3 363.4V379.8M1710.4 370.7V383.4M1715.6 369.9V384.2M1720.8 349.1V369.9M1725.9 355.4V372.6M1731.1 355.2V370.9M1736.2 343V364M1741.4 337.5V360.7M1746.6 348.1V365.8M1751.7 355.5V371.7M1756.9 351.2V371.1M1762 348.6V368.5M1767.2 348V365.2M1772.4 364V379.3M1777.5 363.5V380.9M1782.7 366V381.2M1787.8 377.6V389M1793 384.5V396.1M1798.2 378.1V392M1803.3 368.1V382M1808.5 378.5V390M1813.6 372.8V387.6M1818.8 367.7V383.5M1824 360.9V375.6M1829.1 360.8V376.5M1834.3 363.3V380.7M1839.4 368.2V383.1M1844.6 361.9V376.2M1849.8 365.4V381M1854.9 366.9V383.5M1860.1 368.6V382.7M1865.2 369.7V382.8M1870.4 370V385.3M1875.6 380.5V393.6M1880.7 382.3V393.1M1885.9 377.7V389.7M1891 373.8V388.7M1896.2 381.1V393.4M1901.4 379.6V390.6M1906.5 373.9V387.4M1911.7 366.9V383.5M1916.8 371.2V384.9M1922 369.8V382.7M1927.2 350.9V370.2M1932.3 347.5V368.3M1937.5 347.7V365.4M1942.6 345.9V364.1M1947.8 353.4V372.9M1953 358.9V376.3M1958.1 362V376.4M1963.3 351.6V369.6M1968.4 347.3V368.5M1973.6 354.2V371.8M1978.8 361V375.5M1983.9 348.1V367.8M1989.1 341.3V363.7M1994.2 336V356.3M1999.4 327.1V348.8M2004.6 314.2V342.6M2009.7 311.6V340M2014.9 318.7V341.5M2020 316V341M2025.2 294.1V327.8" stroke="#0000FF" stroke-opacity="0.5" stroke-width="1.8" fill="none"/>
<g fill="#0000FF"><circle cx="1282.2" cy="319.4" r="3.45"/><circle cx="1287.3" cy="331" r="3.45"/><circle cx="1292.5" cy="334.6" r="3.45"/><circle cx="1297.6" cy="330.4" r="3.45"/><circle cx="1302.8" cy="329.6" r="3.45"/><circle cx="1308" cy="327.6" r="3.45"/><circle cx="1313.1" cy="338.6" r="3.45"/><circle cx="1318.3" cy="337" r="3.45"/><circle cx="1323.4" cy="337.6" r="3.45"/><circle cx="1328.6" cy="352.9" r="3.45"/><circle cx="1333.8" cy="363.9" r="3.45"/><circle cx="1338.9" cy="359.5" r="3.45"/><circle cx="1344.1" cy="347" r="3.45"/><circle cx="1349.2" cy="338" r="3.45"/><circle cx="1354.4" cy="346.4" r="3.45"/><circle cx="1359.6" cy="352.4" r="3.45"/><circle cx="1364.7" cy="342.6" r="3.45"/><circle cx="1369.9" cy="347.6" r="3.45"/><circle cx="1375" cy="350.4" r="3.45"/><circle cx="1380.2" cy="343.4" r="3.45"/><circle cx="1385.4" cy="331" r="3.45"/><circle cx="1390.5" cy="320" r="3.45"/><circle cx="1395.7" cy="329" r="3.45"/><circle cx="1400.8" cy="338.6" r="3.45"/><circle cx="1406" cy="320" r="3.45"/><circle cx="1411.2" cy="322" r="3.45"/><circle cx="1416.3" cy="323.6" r="3.45"/><circle cx="1421.5" cy="324.4" r="3.45"/><circle cx="1426.6" cy="323" r="3.45"/><circle cx="1431.8" cy="319.4" r="3.45"/><circle cx="1437" cy="326" r="3.45"/><circle cx="1442.1" cy="312.6" r="3.45"/><circle cx="1447.3" cy="315" r="3.45"/><circle cx="1452.4" cy="318" r="3.45"/><circle cx="1457.6" cy="329" r="3.45"/><circle cx="1462.8" cy="323.6" r="3.45"/><circle cx="1467.9" cy="316" r="3.45"/><circle cx="1473.1" cy="302" r="3.45"/><circle cx="1478.2" cy="298.6" r="3.45"/><circle cx="1483.4" cy="292" r="3.45"/><circle cx="1504" cy="329.4" r="3.45"/><circle cx="1509.2" cy="298.4" r="3.45"/><circle cx="1514.4" cy="279.4" r="3.45"/><circle cx="1519.5" cy="272.6" r="3.45"/><circle cx="1524.7" cy="294" r="3.45"/><circle cx="1529.8" cy="306" r="3.45"/><circle cx="1535" cy="317" r="3.45"/><circle cx="1540.2" cy="323" r="3.45"/><circle cx="1545.3" cy="321.6" r="3.45"/><circle cx="1550.5" cy="322" r="3.45"/><circle cx="1555.6" cy="326" r="3.45"/><circle cx="1560.8" cy="351" r="3.45"/><circle cx="1566" cy="365.5" r="3.45"/><circle cx="1571.1" cy="376.9" r="3.45"/><circle cx="1576.3" cy="374.9" r="3.45"/><circle cx="1581.4" cy="365.3" r="3.45"/><circle cx="1586.6" cy="352.6" r="3.45"/><circle cx="1591.8" cy="349.6" r="3.45"/><circle cx="1596.9" cy="347.6" r="3.45"/><circle cx="1602.1" cy="352.9" r="3.45"/><circle cx="1607.2" cy="356.3" r="3.45"/><circle cx="1612.4" cy="357.9" r="3.45"/><circle cx="1617.6" cy="365.5" r="3.45"/><circle cx="1622.7" cy="359.9" r="3.45"/><circle cx="1627.9" cy="358.3" r="3.45"/><circle cx="1633" cy="360.5" r="3.45"/><circle cx="1638.2" cy="361.9" r="3.45"/><circle cx="1643.4" cy="363.9" r="3.45"/><circle cx="1648.5" cy="379.3" r="3.45"/><circle cx="1653.7" cy="380.9" r="3.45"/><circle cx="1658.8" cy="376.5" r="3.45"/><circle cx="1664" cy="375.9" r="3.45"/><circle cx="1669.2" cy="372.5" r="3.45"/><circle cx="1674.3" cy="369.9" r="3.45"/><circle cx="1679.5" cy="372.9" r="3.45"/><circle cx="1684.6" cy="376.5" r="3.45"/><circle cx="1689.8" cy="384.5" r="3.45"/><circle cx="1695" cy="379.9" r="3.45"/><circle cx="1700.1" cy="376.5" r="3.45"/><circle cx="1705.3" cy="371.9" r="3.45"/><circle cx="1710.4" cy="377.3" r="3.45"/><circle cx="1715.6" cy="377.3" r="3.45"/><circle cx="1720.8" cy="359.9" r="3.45"/><circle cx="1725.9" cy="364.3" r="3.45"/><circle cx="1731.1" cy="363.3" r="3.45"/><circle cx="1736.2" cy="353.9" r="3.45"/><circle cx="1741.4" cy="349.6" r="3.45"/><circle cx="1746.6" cy="357.3" r="3.45"/><circle cx="1751.7" cy="363.9" r="3.45"/><circle cx="1756.9" cy="361.5" r="3.45"/><circle cx="1762" cy="358.9" r="3.45"/><circle cx="1767.2" cy="356.9" r="3.45"/><circle cx="1772.4" cy="371.9" r="3.45"/><circle cx="1777.5" cy="372.5" r="3.45"/><circle cx="1782.7" cy="373.9" r="3.45"/><circle cx="1787.8" cy="383.5" r="3.45"/><circle cx="1793" cy="390.5" r="3.45"/><circle cx="1798.2" cy="385.3" r="3.45"/><circle cx="1803.3" cy="375.3" r="3.45"/><circle cx="1808.5" cy="384.5" r="3.45"/><circle cx="1813.6" cy="380.5" r="3.45"/><circle cx="1818.8" cy="375.9" r="3.45"/><circle cx="1824" cy="368.5" r="3.45"/><circle cx="1829.1" cy="368.9" r="3.45"/><circle cx="1834.3" cy="372.3" r="3.45"/><circle cx="1839.4" cy="375.9" r="3.45"/><circle cx="1844.6" cy="369.3" r="3.45"/><circle cx="1849.8" cy="373.5" r="3.45"/><circle cx="1854.9" cy="375.5" r="3.45"/><circle cx="1860.1" cy="375.9" r="3.45"/><circle cx="1865.2" cy="376.5" r="3.45"/><circle cx="1870.4" cy="377.9" r="3.45"/><circle cx="1875.6" cy="387.3" r="3.45"/><circle cx="1880.7" cy="387.9" r="3.45"/><circle cx="1885.9" cy="383.9" r="3.45"/><circle cx="1891" cy="381.5" r="3.45"/><circle cx="1896.2" cy="387.5" r="3.45"/><circle cx="1901.4" cy="385.3" r="3.45"/><circle cx="1906.5" cy="380.9" r="3.45"/><circle cx="1911.7" cy="375.5" r="3.45"/><circle cx="1916.8" cy="378.3" r="3.45"/><circle cx="1922" cy="376.5" r="3.45"/><circle cx="1927.2" cy="360.9" r="3.45"/><circle cx="1932.3" cy="358.3" r="3.45"/><circle cx="1937.5" cy="356.9" r="3.45"/><circle cx="1942.6" cy="355.3" r="3.45"/><circle cx="1947.8" cy="363.5" r="3.45"/><circle cx="1953" cy="367.9" r="3.45"/><circle cx="1958.1" cy="369.5" r="3.45"/><circle cx="1963.3" cy="360.9" r="3.45"/><circle cx="1968.4" cy="358.3" r="3.45"/><circle cx="1973.6" cy="363.3" r="3.45"/><circle cx="1978.8" cy="368.5" r="3.45"/><circle cx="1983.9" cy="358.3" r="3.45"/><circle cx="1989.1" cy="352.9" r="3.45"/><circle cx="1994.2" cy="346.6" r="3.45"/><circle cx="1999.4" cy="338.4" r="3.45"/><circle cx="2004.6" cy="329" r="3.45"/><circle cx="2009.7" cy="326.4" r="3.45"/><circle cx="2014.9" cy="330.6" r="3.45"/><circle cx="2020" cy="329" r="3.45"/><circle cx="2025.2" cy="311.6" r="3.45"/></g>
<path d="M1282.2 363.9V379.3M1287.3 369.4V383.9M1292.5 372.9V384.5M1297.6 370.5V382.9M1302.8 367.5V382.6M1308 366.9V381.2M1313.1 374.6V385.6M1318.3 372.9V385.6M1323.4 372.1V386.4M1328.6 382.4V393M1333.8 388.8V397.4M1338.9 386.4V397M1344.1 380.6V392.8M1349.2 377.6V388.6M1354.4 383.8V393.6M1359.6 385.7V396.8M1364.7 380.9V392.5M1369.9 385.1V394.3M1375 386.4V396.2M1380.2 381.6V393.8M1385.4 372.3V385M1390.5 366.4V378.9M1395.7 367.1V381.4M1400.8 373.8V387.5M1406 365V378.4M1411.2 366.9V379.7M1416.3 366.5V381.6M1421.5 367.3V382M1426.6 367.5V379.9M1431.8 365.4V379.1M1437 371.5V385.8M1442.1 364.4V378.9M1447.3 367.5V379.8M1452.4 365V379.5M1457.6 369.9V384.6M1462.8 367.5V380.6M1467.9 363.7V376.9M1473.1 353.8V371.4M1478.2 351.5V369.7M1483.4 347.6V363.7M1504 374.1V385.3M1509.2 361.7V376.7M1514.4 350V369.1M1519.5 345.9V363.3M1524.7 359.3V373.2M1529.8 364V379.3M1535 370.5V384.8M1540.2 375.7V386.9M1545.3 371.2V383.4M1550.5 368.6V383.4M1555.6 372.6V385.9M1560.8 382.9V392.5M1566 388.3V397.9M1571.1 394.7V404M1576.3 393.9V402.3M1581.4 388.9V397.4M1586.6 381.3V392.8M1591.8 378.8V391.4M1596.9 376.1V387.3M1602.1 378.3V389.1M1607.2 379.5V391.9M1612.4 381.3V392.9M1617.6 388.4V397.1M1622.7 384V394.2M1627.9 381.6V393.7M1633 382.3V393.1M1638.2 380.7V390.7M1643.4 381V392.4M1648.5 393.3V402.9M1653.7 394.8V402.7M1658.8 392.7V400.8M1664 391.4V401.2M1669.2 389V399.2M1674.3 389.5V398M1679.5 391.4V400.1M1684.6 393.6V403.1M1689.8 401.8V408.9M1695 398.8V405.6M1700.1 395.6V403.9M1705.3 392.4V402.2M1710.4 396.5V404.2M1715.6 397.6V404.7M1720.8 385.9V396.7M1725.9 387.4V398M1731.1 387.2V396.3M1736.2 380.9V391.4M1741.4 374.9V388.4M1746.6 380.9V392.4M1751.7 386.7V395.6M1756.9 383.4V394M1762 380.5V392.9M1767.2 379.7V390.8M1772.4 389.1V397.6M1777.5 389.1V399.1M1782.7 390V400.2M1787.8 398.8V405.9M1793 404.8V410.8M1798.2 400.8V408.7M1803.3 393.2V402.3M1808.5 400.5V407M1813.6 397.5V405.2M1818.8 393.5V403.1M1824 388.5V398.1M1829.1 388.4V397M1834.3 389.9V399.6M1839.4 392.2V402M1844.6 388.2V397.3M1849.8 390.5V399M1854.9 391.2V401M1860.1 392V401.5M1865.2 394.3V402M1870.4 395.8V403.7M1875.6 401.4V409.2M1880.7 402.9V409.8M1885.9 399.4V406.1M1891 397.3V405.4M1896.2 400.8V408.7M1901.4 400.3V407.2M1906.5 400V406.7M1911.7 396.4V405M1916.8 398V406.3M1922 397.1V404.4M1927.2 387.7V397M1932.3 385.5V396.7M1937.5 383.9V394.7M1942.6 382.5V392.1M1947.8 387.4V397.3M1953 388.4V399M1958.1 387.3V396.9M1963.3 382.9V392.6M1968.4 379.7V391.7M1973.6 383.3V394.9M1978.8 387.2V396.3M1983.9 378.3V389.1M1989.1 372.7V386.6M1994.2 366.8V381.3M1999.4 360.9V374.4M2004.6 352.3V368.9M2009.7 349.4V368.6M2014.9 351.2V368M2020 349.9V365.4M2025.2 335.5V356.4" stroke="#A52A2A" stroke-opacity="0.5" stroke-width="1.8" fill="none"/>
<g fill="#A52A2A"><circle cx="1282.2" cy="371.9" r="3.45"/><circle cx="1287.3" cy="376.9" r="3.45"/><circle cx="1292.5" cy="378.9" r="3.45"/><circle cx="1297.6" cy="376.9" r="3.45"/><circle cx="1302.8" cy="375.3" r="3.45"/><circle cx="1308" cy="374.3" r="3.45"/><circle cx="1313.1" cy="380.3" r="3.45"/><circle cx="1318.3" cy="379.5" r="3.45"/><circle cx="1323.4" cy="379.5" r="3.45"/><circle cx="1328.6" cy="387.9" r="3.45"/><circle cx="1333.8" cy="393.3" r="3.45"/><circle cx="1338.9" cy="391.9" r="3.45"/><circle cx="1344.1" cy="386.9" r="3.45"/><circle cx="1349.2" cy="383.3" r="3.45"/><circle cx="1354.4" cy="388.9" r="3.45"/><circle cx="1359.6" cy="391.5" r="3.45"/><circle cx="1364.7" cy="386.9" r="3.45"/><circle cx="1369.9" cy="389.9" r="3.45"/><circle cx="1375" cy="391.5" r="3.45"/><circle cx="1380.2" cy="387.9" r="3.45"/><circle cx="1385.4" cy="378.9" r="3.45"/><circle cx="1390.5" cy="372.9" r="3.45"/><circle cx="1395.7" cy="374.5" r="3.45"/><circle cx="1400.8" cy="380.9" r="3.45"/><circle cx="1406" cy="371.9" r="3.45"/><circle cx="1411.2" cy="373.5" r="3.45"/><circle cx="1416.3" cy="374.3" r="3.45"/><circle cx="1421.5" cy="374.9" r="3.45"/><circle cx="1426.6" cy="373.9" r="3.45"/><circle cx="1431.8" cy="372.5" r="3.45"/><circle cx="1437" cy="378.9" r="3.45"/><circle cx="1442.1" cy="371.9" r="3.45"/><circle cx="1447.3" cy="373.9" r="3.45"/><circle cx="1452.4" cy="372.5" r="3.45"/><circle cx="1457.6" cy="377.5" r="3.45"/><circle cx="1462.8" cy="374.3" r="3.45"/><circle cx="1467.9" cy="370.5" r="3.45"/><circle cx="1473.1" cy="362.9" r="3.45"/><circle cx="1478.2" cy="360.9" r="3.45"/><circle cx="1483.4" cy="355.9" r="3.45"/><circle cx="1504" cy="379.9" r="3.45"/><circle cx="1509.2" cy="369.5" r="3.45"/><circle cx="1514.4" cy="359.9" r="3.45"/><circle cx="1519.5" cy="354.9" r="3.45"/><circle cx="1524.7" cy="366.5" r="3.45"/><circle cx="1529.8" cy="371.9" r="3.45"/><circle cx="1535" cy="377.9" r="3.45"/><circle cx="1540.2" cy="381.5" r="3.45"/><circle cx="1545.3" cy="377.5" r="3.45"/><circle cx="1550.5" cy="376.3" r="3.45"/><circle cx="1555.6" cy="379.5" r="3.45"/><circle cx="1560.8" cy="387.9" r="3.45"/><circle cx="1566" cy="393.3" r="3.45"/><circle cx="1571.1" cy="399.5" r="3.45"/><circle cx="1576.3" cy="398.3" r="3.45"/><circle cx="1581.4" cy="393.3" r="3.45"/><circle cx="1586.6" cy="387.3" r="3.45"/><circle cx="1591.8" cy="385.3" r="3.45"/><circle cx="1596.9" cy="381.9" r="3.45"/><circle cx="1602.1" cy="383.9" r="3.45"/><circle cx="1607.2" cy="385.9" r="3.45"/><circle cx="1612.4" cy="387.3" r="3.45"/><circle cx="1617.6" cy="392.9" r="3.45"/><circle cx="1622.7" cy="389.3" r="3.45"/><circle cx="1627.9" cy="387.9" r="3.45"/><circle cx="1633" cy="387.9" r="3.45"/><circle cx="1638.2" cy="385.9" r="3.45"/><circle cx="1643.4" cy="386.9" r="3.45"/><circle cx="1648.5" cy="398.3" r="3.45"/><circle cx="1653.7" cy="398.9" r="3.45"/><circle cx="1658.8" cy="396.9" r="3.45"/><circle cx="1664" cy="396.5" r="3.45"/><circle cx="1669.2" cy="394.3" r="3.45"/><circle cx="1674.3" cy="393.9" r="3.45"/><circle cx="1679.5" cy="395.9" r="3.45"/><circle cx="1684.6" cy="398.5" r="3.45"/><circle cx="1689.8" cy="405.5" r="3.45"/><circle cx="1695" cy="402.3" r="3.45"/><circle cx="1700.1" cy="399.9" r="3.45"/><circle cx="1705.3" cy="397.5" r="3.45"/><circle cx="1710.4" cy="400.5" r="3.45"/><circle cx="1715.6" cy="401.3" r="3.45"/><circle cx="1720.8" cy="391.5" r="3.45"/><circle cx="1725.9" cy="392.9" r="3.45"/><circle cx="1731.1" cy="391.9" r="3.45"/><circle cx="1736.2" cy="386.3" r="3.45"/><circle cx="1741.4" cy="381.9" r="3.45"/><circle cx="1746.6" cy="386.9" r="3.45"/><circle cx="1751.7" cy="391.3" r="3.45"/><circle cx="1756.9" cy="388.9" r="3.45"/><circle cx="1762" cy="386.9" r="3.45"/><circle cx="1767.2" cy="385.5" r="3.45"/><circle cx="1772.4" cy="393.5" r="3.45"/><circle cx="1777.5" cy="394.3" r="3.45"/><circle cx="1782.7" cy="395.3" r="3.45"/><circle cx="1787.8" cy="402.5" r="3.45"/><circle cx="1793" cy="407.9" r="3.45"/><circle cx="1798.2" cy="404.9" r="3.45"/><circle cx="1803.3" cy="397.9" r="3.45"/><circle cx="1808.5" cy="403.9" r="3.45"/><circle cx="1813.6" cy="401.5" r="3.45"/><circle cx="1818.8" cy="398.5" r="3.45"/><circle cx="1824" cy="393.5" r="3.45"/><circle cx="1829.1" cy="392.9" r="3.45"/><circle cx="1834.3" cy="394.9" r="3.45"/><circle cx="1839.4" cy="397.3" r="3.45"/><circle cx="1844.6" cy="392.9" r="3.45"/><circle cx="1849.8" cy="394.9" r="3.45"/><circle cx="1854.9" cy="396.3" r="3.45"/><circle cx="1860.1" cy="396.9" r="3.45"/><circle cx="1865.2" cy="398.3" r="3.45"/><circle cx="1870.4" cy="399.9" r="3.45"/><circle cx="1875.6" cy="405.5" r="3.45"/><circle cx="1880.7" cy="406.5" r="3.45"/><circle cx="1885.9" cy="402.9" r="3.45"/><circle cx="1891" cy="401.5" r="3.45"/><circle cx="1896.2" cy="404.9" r="3.45"/><circle cx="1901.4" cy="403.9" r="3.45"/><circle cx="1906.5" cy="403.5" r="3.45"/><circle cx="1911.7" cy="400.9" r="3.45"/><circle cx="1916.8" cy="402.3" r="3.45"/><circle cx="1922" cy="400.9" r="3.45"/><circle cx="1927.2" cy="392.5" r="3.45"/><circle cx="1932.3" cy="391.3" r="3.45"/><circle cx="1937.5" cy="389.5" r="3.45"/><circle cx="1942.6" cy="387.5" r="3.45"/><circle cx="1947.8" cy="392.5" r="3.45"/><circle cx="1953" cy="393.9" r="3.45"/><circle cx="1958.1" cy="392.3" r="3.45"/><circle cx="1963.3" cy="387.9" r="3.45"/><circle cx="1968.4" cy="385.9" r="3.45"/><circle cx="1973.6" cy="389.3" r="3.45"/><circle cx="1978.8" cy="391.9" r="3.45"/><circle cx="1983.9" cy="383.9" r="3.45"/><circle cx="1989.1" cy="379.9" r="3.45"/><circle cx="1994.2" cy="374.3" r="3.45"/><circle cx="1999.4" cy="367.9" r="3.45"/><circle cx="2004.6" cy="360.9" r="3.45"/><circle cx="2009.7" cy="359.3" r="3.45"/><circle cx="2014.9" cy="359.9" r="3.45"/><circle cx="2020" cy="357.9" r="3.45"/><circle cx="2025.2" cy="346.4" r="3.45"/></g>
<path d="M1282.2 290.4V322.3M1287.3 303.4V331.4M1292.5 294.8V329.8M1297.6 283.5V321M1302.8 285.1V316.8M1308 281.3V315.4M1313.1 293.8V329.9M1318.3 286.7V321.9M1323.4 289.9V320.1M1328.6 306.7V336.9M1333.8 313.8V344.9M1338.9 307.5V336.1M1344.1 300.2V328.6M1349.2 296.2V330.4M1354.4 307.7V339.7M1359.6 317.9V343M1364.7 306.3V334.5M1369.9 319V348.6M1375 316.5V345.1M1380.2 301.5V329.3M1385.4 285.4V320M1390.5 267.3V310.3M1395.7 278.9V314.5M1400.8 292.1V321.9M1406 263.8V305.4M1411.2 258.2V302.8M1416.3 262.2V299.5M1421.5 265.4V302M1426.6 264.7V307.6M1431.8 269.5V309.8M1437 283.5V315.2M1442.1 271.7V308.8M1447.3 272.3V314M1452.4 271.8V309.5M1457.6 289.2V319.6M1462.8 284.9V320.9M1467.9 278.3V318.1M1473.1 265.3V302.5M1478.2 258.9V296.4M1483.4 248.2V294.8M1504 303V336.9M1509.2 283.9V319.5M1514.4 264.7V300M1519.5 242.9V288.2M1524.7 269V311.4M1529.8 288.4V321.1M1535 302.8V330.8M1540.2 308.7V340M1545.3 299.4V333.3M1550.5 300V328.8M1555.6 306.2V334.6M1560.8 321.9V350.9M1566 333.2V357.7M1571.1 348.5V366.7M1576.3 342.7V364.4M1581.4 331.7V358.4M1586.6 319.3V345.6M1591.8 312.6V338.3M1596.9 299.1V332.4M1602.1 306.7V339.1M1607.2 312.2V338.7M1612.4 309.3V336.7M1617.6 319V348.5M1622.7 317.1V345.7M1627.9 314.9V340M1633 310.7V339.3M1638.2 295.3V331.2M1643.4 300.3V331.3M1648.5 327.2V349.8M1653.7 328.5V354.4M1658.8 316.2V346.5M1664 325.5V349.5M1669.2 319.4V344.3M1674.3 312.5V343.4M1679.5 315.7V345.1M1684.6 329.4V351.7M1689.8 346.5V366.6M1695 337.9V363M1700.1 335.8V359.2M1705.3 329.9V351.9M1710.4 335.6V359.4M1715.6 328.8V356.1M1720.8 310V337.7M1725.9 310.6V337.1M1731.1 307V338.9M1736.2 289.8V325.9M1741.4 284.9V316.7M1746.6 297.1V327.7M1751.7 308.1V340.6M1756.9 303.8V335M1762 303.1V330.6M1767.2 301.3V332.7M1772.4 322.3V351.3M1777.5 331.2V354.6M1782.7 333.1V354.7M1787.8 350.6V371.6M1793 366.2V383.8M1798.2 359.4V375.8M1803.3 340.5V361.4M1808.5 355.9V376.3M1813.6 350.2V370.8M1818.8 341.3V361M1824 321.7V348M1829.1 316V346.7M1834.3 314.2V341.9M1839.4 318.2V342.7M1844.6 307.4V338.5M1849.8 313.3V344.2M1854.9 315.5V341.5M1860.1 316.2V341.9M1865.2 319.3V348.6M1870.4 324.9V351.9M1875.6 348V366.4M1880.7 347.5V367.6M1885.9 343.6V367.3M1891 344.5V365.7M1896.2 351.8V369.3M1901.4 349.8V370.4M1906.5 352.9V374.1M1911.7 348.3V367.6M1916.8 348.7V367.3M1922 345.8V368.4M1927.2 328.2V354.7M1932.3 328.2V350.8M1937.5 323.3V348.4M1942.6 316.5V347M1947.8 332.3V356.6M1953 337.3V357.8M1958.1 336.1V359.6M1963.3 323.4V352.1M1968.4 315.5V342.2M1973.6 323.7V347.3M1978.8 323.1V350.9M1983.9 301.2V334.7M1989.1 291.6V324.3M1994.2 277.8V314.7M1999.4 258.1V306.1M2004.6 241.9V291M2009.7 238V281.6M2014.9 235V284.4M2020 231.9V287.2M2025.2 208.1V262.7" stroke="#A020F0" stroke-opacity="0.5" stroke-width="1.8" fill="none"/>
<g fill="#A020F0"><circle cx="1282.2" cy="307" r="3.45"/><circle cx="1287.3" cy="318" r="3.45"/><circle cx="1292.5" cy="313" r="3.45"/><circle cx="1297.6" cy="303" r="3.45"/><circle cx="1302.8" cy="301.6" r="3.45"/><circle cx="1308" cy="299" r="3.45"/><circle cx="1313.1" cy="312.6" r="3.45"/><circle cx="1318.3" cy="305" r="3.45"/><circle cx="1323.4" cy="305.6" r="3.45"/><circle cx="1328.6" cy="322.4" r="3.45"/><circle cx="1333.8" cy="330" r="3.45"/><circle cx="1338.9" cy="322.4" r="3.45"/><circle cx="1344.1" cy="315" r="3.45"/><circle cx="1349.2" cy="314" r="3.45"/><circle cx="1354.4" cy="324.4" r="3.45"/><circle cx="1359.6" cy="331" r="3.45"/><circle cx="1364.7" cy="321" r="3.45"/><circle cx="1369.9" cy="334.4" r="3.45"/><circle cx="1375" cy="331.4" r="3.45"/><circle cx="1380.2" cy="316" r="3.45"/><circle cx="1385.4" cy="303.4" r="3.45"/><circle cx="1390.5" cy="289.6" r="3.45"/><circle cx="1395.7" cy="297.4" r="3.45"/><circle cx="1400.8" cy="307.6" r="3.45"/><circle cx="1406" cy="285.4" r="3.45"/><circle cx="1411.2" cy="281.4" r="3.45"/><circle cx="1416.3" cy="281.6" r="3.45"/><circle cx="1421.5" cy="284.4" r="3.45"/><circle cx="1426.6" cy="287" r="3.45"/><circle cx="1431.8" cy="290.4" r="3.45"/><circle cx="1437" cy="300" r="3.45"/><circle cx="1442.1" cy="291" r="3.45"/><circle cx="1447.3" cy="294" r="3.45"/><circle cx="1452.4" cy="291.4" r="3.45"/><circle cx="1457.6" cy="305" r="3.45"/><circle cx="1462.8" cy="303.6" r="3.45"/><circle cx="1467.9" cy="299" r="3.45"/><circle cx="1473.1" cy="284.6" r="3.45"/><circle cx="1478.2" cy="278.4" r="3.45"/><circle cx="1483.4" cy="272.4" r="3.45"/><circle cx="1504" cy="320.6" r="3.45"/><circle cx="1509.2" cy="302.4" r="3.45"/><circle cx="1514.4" cy="283" r="3.45"/><circle cx="1519.5" cy="266.4" r="3.45"/><circle cx="1524.7" cy="291" r="3.45"/><circle cx="1529.8" cy="305.4" r="3.45"/><circle cx="1535" cy="317.4" r="3.45"/><circle cx="1540.2" cy="325" r="3.45"/><circle cx="1545.3" cy="317" r="3.45"/><circle cx="1550.5" cy="315" r="3.45"/><circle cx="1555.6" cy="321" r="3.45"/><circle cx="1560.8" cy="337" r="3.45"/><circle cx="1566" cy="346" r="3.45"/><circle cx="1571.1" cy="357.9" r="3.45"/><circle cx="1576.3" cy="353.9" r="3.45"/><circle cx="1581.4" cy="345.6" r="3.45"/><circle cx="1586.6" cy="333" r="3.45"/><circle cx="1591.8" cy="326" r="3.45"/><circle cx="1596.9" cy="316.4" r="3.45"/><circle cx="1602.1" cy="323.6" r="3.45"/><circle cx="1607.2" cy="326" r="3.45"/><circle cx="1612.4" cy="323.6" r="3.45"/><circle cx="1617.6" cy="334.4" r="3.45"/><circle cx="1622.7" cy="332" r="3.45"/><circle cx="1627.9" cy="328" r="3.45"/><circle cx="1633" cy="325.6" r="3.45"/><circle cx="1638.2" cy="314" r="3.45"/><circle cx="1643.4" cy="316.4" r="3.45"/><circle cx="1648.5" cy="339" r="3.45"/><circle cx="1653.7" cy="342" r="3.45"/><circle cx="1658.8" cy="332" r="3.45"/><circle cx="1664" cy="338" r="3.45"/><circle cx="1669.2" cy="332.4" r="3.45"/><circle cx="1674.3" cy="328.6" r="3.45"/><circle cx="1679.5" cy="331" r="3.45"/><circle cx="1684.6" cy="341" r="3.45"/><circle cx="1689.8" cy="356.9" r="3.45"/><circle cx="1695" cy="351" r="3.45"/><circle cx="1700.1" cy="348" r="3.45"/><circle cx="1705.3" cy="341.4" r="3.45"/><circle cx="1710.4" cy="348" r="3.45"/><circle cx="1715.6" cy="343" r="3.45"/><circle cx="1720.8" cy="324.4" r="3.45"/><circle cx="1725.9" cy="324.4" r="3.45"/><circle cx="1731.1" cy="323.6" r="3.45"/><circle cx="1736.2" cy="308.6" r="3.45"/><circle cx="1741.4" cy="301.4" r="3.45"/><circle cx="1746.6" cy="313" r="3.45"/><circle cx="1751.7" cy="325" r="3.45"/><circle cx="1756.9" cy="320" r="3.45"/><circle cx="1762" cy="317.4" r="3.45"/><circle cx="1767.2" cy="317.6" r="3.45"/><circle cx="1772.4" cy="337.4" r="3.45"/><circle cx="1777.5" cy="343.4" r="3.45"/><circle cx="1782.7" cy="344.4" r="3.45"/><circle cx="1787.8" cy="361.5" r="3.45"/><circle cx="1793" cy="375.3" r="3.45"/><circle cx="1798.2" cy="367.9" r="3.45"/><circle cx="1803.3" cy="351.4" r="3.45"/><circle cx="1808.5" cy="366.5" r="3.45"/><circle cx="1813.6" cy="360.9" r="3.45"/><circle cx="1818.8" cy="351.6" r="3.45"/><circle cx="1824" cy="335.4" r="3.45"/><circle cx="1829.1" cy="332" r="3.45"/><circle cx="1834.3" cy="328.6" r="3.45"/><circle cx="1839.4" cy="331" r="3.45"/><circle cx="1844.6" cy="323.6" r="3.45"/><circle cx="1849.8" cy="329.4" r="3.45"/><circle cx="1854.9" cy="329" r="3.45"/><circle cx="1860.1" cy="329.6" r="3.45"/><circle cx="1865.2" cy="334.6" r="3.45"/><circle cx="1870.4" cy="339" r="3.45"/><circle cx="1875.6" cy="357.5" r="3.45"/><circle cx="1880.7" cy="357.9" r="3.45"/><circle cx="1885.9" cy="355.9" r="3.45"/><circle cx="1891" cy="355.5" r="3.45"/><circle cx="1896.2" cy="360.9" r="3.45"/><circle cx="1901.4" cy="360.5" r="3.45"/><circle cx="1906.5" cy="363.9" r="3.45"/><circle cx="1911.7" cy="358.3" r="3.45"/><circle cx="1916.8" cy="358.3" r="3.45"/><circle cx="1922" cy="357.5" r="3.45"/><circle cx="1927.2" cy="342" r="3.45"/><circle cx="1932.3" cy="340" r="3.45"/><circle cx="1937.5" cy="336.4" r="3.45"/><circle cx="1942.6" cy="332.4" r="3.45"/><circle cx="1947.8" cy="345" r="3.45"/><circle cx="1953" cy="348" r="3.45"/><circle cx="1958.1" cy="348.4" r="3.45"/><circle cx="1963.3" cy="338.4" r="3.45"/><circle cx="1968.4" cy="329.4" r="3.45"/><circle cx="1973.6" cy="336" r="3.45"/><circle cx="1978.8" cy="337.6" r="3.45"/><circle cx="1983.9" cy="318.6" r="3.45"/><circle cx="1989.1" cy="308.6" r="3.45"/><circle cx="1994.2" cy="297" r="3.45"/><circle cx="1999.4" cy="283" r="3.45"/><circle cx="2004.6" cy="267.4" r="3.45"/><circle cx="2009.7" cy="260.6" r="3.45"/><circle cx="2014.9" cy="260.6" r="3.45"/><circle cx="2020" cy="260.6" r="3.45"/><circle cx="2025.2" cy="236.5" r="3.45"/></g>
<path d="M1225.3 41.1V437.3M1223 437.3H2063.4M1213.3 437.3H1225.3M1213.3 306H1225.3M1213.3 174.7H1225.3M1213.3 43.4H1225.3M1251.2 437.3V449.6M1411.2 437.3V449.6M1560.8 437.3V449.6M1720.8 437.3V449.6M1875.6 437.3V449.6M2035.5 437.3V449.6" stroke="#000" stroke-width="4.6" fill="none"/>
<g font-size="41.7" fill="#000"><text x="1204.3" y="456.3" text-anchor="end">0</text><text x="1204.3" y="325" text-anchor="end">100</text><text x="1204.3" y="193.7" text-anchor="end">200</text><text x="1204.3" y="62.4" text-anchor="end">300</text><text x="1251.2" y="497.6" text-anchor="middle">Jan</text><text x="1411.2" y="497.6" text-anchor="middle">Feb</text><text x="1560.8" y="497.6" text-anchor="middle">Mar</text><text x="1720.8" y="497.6" text-anchor="middle">Apr</text><text x="1875.6" y="497.6" text-anchor="middle">May</text><text x="2035.5" y="497.6" text-anchor="middle">Jun</text></g>
<text x="1242.3" y="105.5" font-size="45.8" font-weight="bold">2020</text>
</g>
<g>
<path d="M256.3 540.3V934.5M417.4 540.3V934.5M562.9 540.3V934.5M724 540.3V934.5M879.9 540.3V934.5M1041 540.3V934.5M336.9 540.3V934.5M490.2 540.3V934.5M643.5 540.3V934.5M802 540.3V934.5M960.5 540.3V934.5M230.4 803.1H1065.8M230.4 671.7H1065.8M230.4 540.3H1065.8" stroke="#dcdcdc" stroke-width="1.3" fill="none"/>
<path d="M318.7 651.6V727M323.9 659.1V737.3M329.1 686.4V747.4M334.3 689.4V747.7M339.5 695.9V762.3M344.6 690.7V757.9M349.8 727.8V776.5M355 774.4V814.3M360.2 787.5V829.4M365.4 792.9V830.2M370.6 786.9V821.1M375.8 797.5V833.5M381 803.1V840.6M386.2 819.7V848.3M391.4 822.9V849.2M396.6 839.5V865.6M401.8 840.9V867M407 831.8V856.3M412.2 835.2V859.6M417.4 826.6V857.2M422.6 824.9V854.2M427.8 807.2V836.8M433 793.7V830.1M438.2 783.9V827M443.4 780.9V819.8M448.6 771.3V809.5M453.8 745.5V796.9M490.2 836.5V861.5M495.4 832.8V861.9M500.6 834.5V860.3M505.8 811.7V840.3M511 792.9V830.9M516.2 786.5V828.4M521.3 790.4V825.6M526.5 806V836.8M531.7 786.8V828.1M646.1 700.9V775.4M651.3 608.7V743M656.5 636.5V742.9M661.7 636.6V744.5M666.9 640.9V763M672.1 622.5V729.5M677.3 635.2V724.6M682.5 612.7V718.1M687.7 595.7V718.8M692.8 597.3V707.3M698 596.6V697.6M703.2 677.4V754.6M708.4 664.6V749.3M713.6 672.9V743.7M776 716.1V761.8M781.2 709.9V765.1M786.4 706.2V761.9M848.8 653.8V743.1M854 670.5V756.7M859.2 688.5V780.7M864.3 704.4V786M869.5 714V782.5M874.7 706.9V785M879.9 686.1V780M885.1 670.7V759.8" stroke="#000000" stroke-opacity="0.5" stroke-width="1.8" fill="none"/>
<g fill="#000000"><circle cx="318.7" cy="690.8" r="3.45"/><circle cx="323.9" cy="699.8" r="3.45"/><circle cx="329.1" cy="718.1" r="3.45"/><circle cx="334.3" cy="719.7" r="3.45"/><circle cx="339.5" cy="730.4" r="3.45"/><circle cx="344.6" cy="725.7" r="3.45"/><circle cx="349.8" cy="753.1" r="3.45"/><circle cx="355" cy="795.1" r="3.45"/><circle cx="360.2" cy="809.3" r="3.45"/><circle cx="365.4" cy="812.3" r="3.45"/><circle cx="370.6" cy="804.7" r="3.45"/><circle cx="375.8" cy="816.2" r="3.45"/><circle cx="381" cy="822.6" r="3.45"/><circle cx="386.2" cy="834.6" r="3.45"/><circle cx="391.4" cy="836.5" r="3.45"/><circle cx="396.6" cy="853.1" r="3.45"/><circle cx="401.8" cy="854.5" r="3.45"/><circle cx="407" cy="844.5" r="3.45"/><circle cx="412.2" cy="847.9" r="3.45"/><circle cx="417.4" cy="842.5" r="3.45"/><circle cx="422.6" cy="840.1" r="3.45"/><circle cx="427.8" cy="822.6" r="3.45"/><circle cx="433" cy="812.7" r="3.45"/><circle cx="438.2" cy="806.3" r="3.45"/><circle cx="443.4" cy="801.1" r="3.45"/><circle cx="448.6" cy="791.2" r="3.45"/><circle cx="453.8" cy="772.2" r="3.45"/><circle cx="490.2" cy="849.5" r="3.45"/><circle cx="495.4" cy="847.9" r="3.45"/><circle cx="500.6" cy="847.9" r="3.45"/><circle cx="505.8" cy="826.6" r="3.45"/><circle cx="511" cy="812.7" r="3.45"/><circle cx="516.2" cy="808.3" r="3.45"/><circle cx="521.3" cy="808.7" r="3.45"/><circle cx="526.5" cy="822" r="3.45"/><circle cx="531.7" cy="808.3" r="3.45"/><circle cx="646.1" cy="739.6" r="3.45"/><circle cx="651.3" cy="678.5" r="3.45"/><circle cx="656.5" cy="691.8" r="3.45"/><circle cx="661.7" cy="692.7" r="3.45"/><circle cx="666.9" cy="704.4" r="3.45"/><circle cx="672.1" cy="678.1" r="3.45"/><circle cx="677.3" cy="681.7" r="3.45"/><circle cx="682.5" cy="667.5" r="3.45"/><circle cx="687.7" cy="659.7" r="3.45"/><circle cx="692.8" cy="654.5" r="3.45"/><circle cx="698" cy="649.1" r="3.45"/><circle cx="703.2" cy="717.6" r="3.45"/><circle cx="708.4" cy="708.6" r="3.45"/><circle cx="713.6" cy="709.7" r="3.45"/><circle cx="776" cy="739.9" r="3.45"/><circle cx="781.2" cy="738.6" r="3.45"/><circle cx="786.4" cy="735.2" r="3.45"/><circle cx="848.8" cy="700.2" r="3.45"/><circle cx="854" cy="715.3" r="3.45"/><circle cx="859.2" cy="736.5" r="3.45"/><circle cx="864.3" cy="746.9" r="3.45"/><circle cx="869.5" cy="749.6" r="3.45"/><circle cx="874.7" cy="747.5" r="3.45"/><circle cx="879.9" cy="734.9" r="3.45"/><circle cx="885.1" cy="717" r="3.45"/></g>
<path d="M318.7 794.7V828.4M323.9 801.6V839M329.1 812.8V845.9M334.3 817.3V844.7M339.5 811.3V842.6M344.6 807.7V844M349.8 827.1V854.8M355 859.3V876.8M360.2 861.2V880.8M365.4 858.1V879.8M370.6 854.6V874.2M375.8 860.2V877.9M381 862.3V882.4M386.2 868.5V886.7M391.4 878.9V892M396.6 888.3V899.8M401.8 887.3V900.8M407 885.6V898.4M412.2 886.5V897.6M417.4 868.3V885.7M422.6 867.4V886.5M427.8 855.6V875.2M433 851.7V871.2M438.2 846.2V870.5M443.4 842.1V867.8M448.6 836.4V859.7M453.8 823.8V851M490.2 862V878.9M495.4 861.4V881.4M500.6 861.3V881.8M505.8 847.6V868.5M511 847V868.2M516.2 843.5V869.2M521.3 843V867.7M526.5 844.6V865.5M531.7 833.5V859.3M646.1 831.9V857.3M651.3 820.5V853M656.5 823.1V852.6M661.7 827.8V852.6M666.9 814V845.5M672.1 805.2V842.1M677.3 814V844.2M682.5 823.6V849.6M687.7 817.3V849.5M692.8 815.1V848.5M698 816V844.3M703.2 819.4V847.5M708.4 817.2V850.4M713.6 813.4V845.9M776 809.3V838.6M781.2 807.3V839.6M786.4 803.7V841.1M848.8 832.8V859.5M854 838.7V860.9M859.2 844.6V868.3M864.3 840.3V867.1M869.5 840.2V863.7M874.7 838.9V861.5M879.9 834.8V862.3M885.1 824.8V855.4" stroke="#0000FF" stroke-opacity="0.5" stroke-width="1.8" fill="none"/>
<g fill="#0000FF"><circle cx="318.7" cy="812.3" r="3.45"/><circle cx="323.9" cy="821" r="3.45"/><circle cx="329.1" cy="830" r="3.45"/><circle cx="334.3" cy="831.6" r="3.45"/><circle cx="339.5" cy="827.6" r="3.45"/><circle cx="344.6" cy="826.6" r="3.45"/><circle cx="349.8" cy="841.5" r="3.45"/><circle cx="355" cy="868.4" r="3.45"/><circle cx="360.2" cy="871.4" r="3.45"/><circle cx="365.4" cy="869.4" r="3.45"/><circle cx="370.6" cy="864.8" r="3.45"/><circle cx="375.8" cy="869.4" r="3.45"/><circle cx="381" cy="872.8" r="3.45"/><circle cx="386.2" cy="878" r="3.45"/><circle cx="391.4" cy="885.7" r="3.45"/><circle cx="396.6" cy="894.3" r="3.45"/><circle cx="401.8" cy="894.3" r="3.45"/><circle cx="407" cy="892.3" r="3.45"/><circle cx="412.2" cy="892.3" r="3.45"/><circle cx="417.4" cy="877.4" r="3.45"/><circle cx="422.6" cy="877.4" r="3.45"/><circle cx="427.8" cy="865.8" r="3.45"/><circle cx="433" cy="861.8" r="3.45"/><circle cx="438.2" cy="858.8" r="3.45"/><circle cx="443.4" cy="855.5" r="3.45"/><circle cx="448.6" cy="848.5" r="3.45"/><circle cx="453.8" cy="837.9" r="3.45"/><circle cx="490.2" cy="870.8" r="3.45"/><circle cx="495.4" cy="871.8" r="3.45"/><circle cx="500.6" cy="872" r="3.45"/><circle cx="505.8" cy="858.4" r="3.45"/><circle cx="511" cy="858" r="3.45"/><circle cx="516.2" cy="856.9" r="3.45"/><circle cx="521.3" cy="855.9" r="3.45"/><circle cx="526.5" cy="855.5" r="3.45"/><circle cx="531.7" cy="846.9" r="3.45"/><circle cx="646.1" cy="845.1" r="3.45"/><circle cx="651.3" cy="837.4" r="3.45"/><circle cx="656.5" cy="838.4" r="3.45"/><circle cx="661.7" cy="840.7" r="3.45"/><circle cx="666.9" cy="830.3" r="3.45"/><circle cx="672.1" cy="824.4" r="3.45"/><circle cx="677.3" cy="829.7" r="3.45"/><circle cx="682.5" cy="837.1" r="3.45"/><circle cx="687.7" cy="834.1" r="3.45"/><circle cx="692.8" cy="832.5" r="3.45"/><circle cx="698" cy="830.7" r="3.45"/><circle cx="703.2" cy="834.1" r="3.45"/><circle cx="708.4" cy="834.5" r="3.45"/><circle cx="713.6" cy="830.3" r="3.45"/><circle cx="776" cy="824.5" r="3.45"/><circle cx="781.2" cy="824.1" r="3.45"/><circle cx="786.4" cy="823.2" r="3.45"/><circle cx="848.8" cy="846.7" r="3.45"/><circle cx="854" cy="850.3" r="3.45"/><circle cx="859.2" cy="856.9" r="3.45"/><circle cx="864.3" cy="854.3" r="3.45"/><circle cx="869.5" cy="852.4" r="3.45"/><circle cx="874.7" cy="850.7" r="3.45"/><circle cx="879.9" cy="849.1" r="3.45"/><circle cx="885.1" cy="840.7" r="3.45"/></g>
<path d="M318.7 863.3V878.9M323.9 867.9V884.1M329.1 872V888.8M334.3 874.3V888.6M339.5 872.2V885.9M344.6 870.2V886.7M349.8 879.1V893.8M355 894.1V903.3M360.2 895.2V904.2M365.4 894.1V904.8M370.6 889.3V900.8M375.8 893.1V902.2M381 894.7V904.2M386.2 896.3V906.6M391.4 901.7V909.6M396.6 907.3V913.3M401.8 906.8V913.8M407 906.1V913.7M412.2 906.7V913.1M417.4 898.7V906.7M422.6 899V908.3M427.8 890.8V902.1M433 889.7V899.6M438.2 887.5V898.6M443.4 884.7V898.1M448.6 881.1V894.2M453.8 875.2V888.2M490.2 895.3V904.1M495.4 896V905M500.6 895.2V905.7M505.8 888.3V899.8M511 889.1V899M516.2 888.4V899.7M521.3 888.2V900.7M526.5 888.6V899.5M531.7 884.6V895.6M646.1 870.2V884.3M651.3 860.6V879.1M656.5 860.3V880.1M661.7 862.6V879.3M666.9 857.7V874.9M672.1 851V872.9M677.3 854.8V875.5M682.5 860V876.5M687.7 858V875.9M692.8 854.8V876.2M698 854.3V874.2M703.2 859V875.5M708.4 857.7V876.6M713.6 854.5V876M776 852.1V871.8M781.2 852.6V870.6M786.4 850.1V871.7M848.8 866.5V884.6M854 871.3V885.8M859.2 876.1V889.2M864.3 875.1V890.7M869.5 874.5V890M874.7 875V888.2M879.9 873.8V888.1M885.1 866.1V884.5" stroke="#A52A2A" stroke-opacity="0.5" stroke-width="1.8" fill="none"/>
<g fill="#A52A2A"><circle cx="318.7" cy="871.4" r="3.45"/><circle cx="323.9" cy="876.4" r="3.45"/><circle cx="329.1" cy="880.7" r="3.45"/><circle cx="334.3" cy="881.7" r="3.45"/><circle cx="339.5" cy="879.4" r="3.45"/><circle cx="344.6" cy="878.8" r="3.45"/><circle cx="349.8" cy="886.7" r="3.45"/><circle cx="355" cy="898.9" r="3.45"/><circle cx="360.2" cy="899.9" r="3.45"/><circle cx="365.4" cy="899.7" r="3.45"/><circle cx="370.6" cy="895.3" r="3.45"/><circle cx="375.8" cy="897.9" r="3.45"/><circle cx="381" cy="899.7" r="3.45"/><circle cx="386.2" cy="901.6" r="3.45"/><circle cx="391.4" cy="905.8" r="3.45"/><circle cx="396.6" cy="910.4" r="3.45"/><circle cx="401.8" cy="910.4" r="3.45"/><circle cx="407" cy="910" r="3.45"/><circle cx="412.2" cy="910" r="3.45"/><circle cx="417.4" cy="902.8" r="3.45"/><circle cx="422.6" cy="903.8" r="3.45"/><circle cx="427.8" cy="896.7" r="3.45"/><circle cx="433" cy="894.9" r="3.45"/><circle cx="438.2" cy="893.3" r="3.45"/><circle cx="443.4" cy="891.7" r="3.45"/><circle cx="448.6" cy="887.9" r="3.45"/><circle cx="453.8" cy="881.9" r="3.45"/><circle cx="490.2" cy="899.9" r="3.45"/><circle cx="495.4" cy="900.7" r="3.45"/><circle cx="500.6" cy="900.7" r="3.45"/><circle cx="505.8" cy="894.3" r="3.45"/><circle cx="511" cy="894.3" r="3.45"/><circle cx="516.2" cy="894.3" r="3.45"/><circle cx="521.3" cy="894.7" r="3.45"/><circle cx="526.5" cy="894.3" r="3.45"/><circle cx="531.7" cy="890.3" r="3.45"/><circle cx="646.1" cy="877.5" r="3.45"/><circle cx="651.3" cy="870.2" r="3.45"/><circle cx="656.5" cy="870.6" r="3.45"/><circle cx="661.7" cy="871.3" r="3.45"/><circle cx="666.9" cy="866.6" r="3.45"/><circle cx="672.1" cy="862.4" r="3.45"/><circle cx="677.3" cy="865.5" r="3.45"/><circle cx="682.5" cy="868.6" r="3.45"/><circle cx="687.7" cy="867.3" r="3.45"/><circle cx="692.8" cy="865.9" r="3.45"/><circle cx="698" cy="864.6" r="3.45"/><circle cx="703.2" cy="867.5" r="3.45"/><circle cx="708.4" cy="867.5" r="3.45"/><circle cx="713.6" cy="865.7" r="3.45"/><circle cx="776" cy="862.4" r="3.45"/><circle cx="781.2" cy="862" r="3.45"/><circle cx="786.4" cy="861.3" r="3.45"/><circle cx="848.8" cy="875.9" r="3.45"/><circle cx="854" cy="878.8" r="3.45"/><circle cx="859.2" cy="882.9" r="3.45"/><circle cx="864.3" cy="883.2" r="3.45"/><circle cx="869.5" cy="882.6" r="3.45"/><circle cx="874.7" cy="881.9" r="3.45"/><circle cx="879.9" cy="881.2" r="3.45"/><circle cx="885.1" cy="875.6" r="3.45"/></g>
<path d="M318.7 762.7V811.7M323.9 778.9V820M329.1 795.5V827.8M334.3 796.9V832.9M339.5 786.7V828.9M344.6 789.2V825.5M349.8 810.9V839.9M355 841.1V866.8M360.2 848.3V872.4M365.4 845.4V866.7M370.6 834.8V859.2M375.8 834.8V863.1M381 840.3V865.6M386.2 843.9V865M391.4 852.4V873.6M396.6 861.5V882.4M401.8 861.3V879.9M407 856.3V874.6M412.2 856.4V877.6M417.4 841.4V867.6M422.6 849.3V869.9M427.8 835.5V859.4M433 828.4V858.2M438.2 828.1V857M443.4 830.5V854.8M448.6 819.8V848.9M453.8 805.9V842.7M490.2 812.9V846.9M495.4 814.9V847.8M500.6 817.7V845.2M505.8 805.4V837.7M511 809V844.8M516.2 818.1V848.6M521.3 827.2V852.1M526.5 822.8V852.3M531.7 810.2V845.6M646.1 774.8V820.5M651.3 751.9V798.7M656.5 755.7V797.3M661.7 756.2V804.2M666.9 743.2V797.3M672.1 740.1V787.4M677.3 747.2V792.1M682.5 750.5V802.1M687.7 747.7V798.8M692.8 750.2V793.4M698 748.6V795.4M703.2 755.7V806.8M708.4 758.4V804.3M713.6 752.3V794.6M776 742.9V793M781.2 739.8V795.4M786.4 743.8V791.6M848.8 778.9V815.2M854 784.8V825.4M859.2 796.9V835.7M864.3 802.9V834.7M869.5 801.1V833.3M874.7 792.3V832.3M879.9 796.6V834.1M885.1 786.4V821.1" stroke="#A020F0" stroke-opacity="0.5" stroke-width="1.8" fill="none"/>
<g fill="#A020F0"><circle cx="318.7" cy="788.2" r="3.45"/><circle cx="323.9" cy="800.3" r="3.45"/><circle cx="329.1" cy="812.3" r="3.45"/><circle cx="334.3" cy="815.6" r="3.45"/><circle cx="339.5" cy="808.7" r="3.45"/><circle cx="344.6" cy="808.1" r="3.45"/><circle cx="349.8" cy="826" r="3.45"/><circle cx="355" cy="854.5" r="3.45"/><circle cx="360.2" cy="860.8" r="3.45"/><circle cx="365.4" cy="856.5" r="3.45"/><circle cx="370.6" cy="847.5" r="3.45"/><circle cx="375.8" cy="849.5" r="3.45"/><circle cx="381" cy="853.5" r="3.45"/><circle cx="386.2" cy="854.9" r="3.45"/><circle cx="391.4" cy="863.4" r="3.45"/><circle cx="396.6" cy="872.4" r="3.45"/><circle cx="401.8" cy="871" r="3.45"/><circle cx="407" cy="865.8" r="3.45"/><circle cx="412.2" cy="867.4" r="3.45"/><circle cx="417.4" cy="855.1" r="3.45"/><circle cx="422.6" cy="860" r="3.45"/><circle cx="427.8" cy="847.9" r="3.45"/><circle cx="433" cy="843.9" r="3.45"/><circle cx="438.2" cy="843.1" r="3.45"/><circle cx="443.4" cy="843.1" r="3.45"/><circle cx="448.6" cy="835" r="3.45"/><circle cx="453.8" cy="825" r="3.45"/><circle cx="490.2" cy="830.6" r="3.45"/><circle cx="495.4" cy="832" r="3.45"/><circle cx="500.6" cy="832" r="3.45"/><circle cx="505.8" cy="822.2" r="3.45"/><circle cx="511" cy="827.6" r="3.45"/><circle cx="516.2" cy="834" r="3.45"/><circle cx="521.3" cy="840.1" r="3.45"/><circle cx="526.5" cy="838.1" r="3.45"/><circle cx="531.7" cy="828.6" r="3.45"/><circle cx="646.1" cy="798.6" r="3.45"/><circle cx="651.3" cy="776.3" r="3.45"/><circle cx="656.5" cy="777.3" r="3.45"/><circle cx="661.7" cy="781.2" r="3.45"/><circle cx="666.9" cy="771.3" r="3.45"/><circle cx="672.1" cy="764.7" r="3.45"/><circle cx="677.3" cy="770.5" r="3.45"/><circle cx="682.5" cy="777.3" r="3.45"/><circle cx="687.7" cy="774.3" r="3.45"/><circle cx="692.8" cy="772.7" r="3.45"/><circle cx="698" cy="772.9" r="3.45"/><circle cx="703.2" cy="782.2" r="3.45"/><circle cx="708.4" cy="782.2" r="3.45"/><circle cx="713.6" cy="774.3" r="3.45"/><circle cx="776" cy="769" r="3.45"/><circle cx="781.2" cy="768.7" r="3.45"/><circle cx="786.4" cy="768.7" r="3.45"/><circle cx="848.8" cy="797.8" r="3.45"/><circle cx="854" cy="805.9" r="3.45"/><circle cx="859.2" cy="817.1" r="3.45"/><circle cx="864.3" cy="819.4" r="3.45"/><circle cx="869.5" cy="817.8" r="3.45"/><circle cx="874.7" cy="813.1" r="3.45"/><circle cx="879.9" cy="816.1" r="3.45"/><circle cx="885.1" cy="804.4" r="3.45"/></g>
<path d="M230.4 538V934.5M228.1 934.5H1068M218.4 934.5H230.4M218.4 803.1H230.4M218.4 671.7H230.4M218.4 540.3H230.4M256.3 934.5V946.8M417.4 934.5V946.8M562.9 934.5V946.8M724 934.5V946.8M879.9 934.5V946.8M1041 934.5V946.8" stroke="#000" stroke-width="4.6" fill="none"/>
<g font-size="41.7" fill="#000"><text x="209.4" y="953.5" text-anchor="end">0</text><text x="209.4" y="822.1" text-anchor="end">100</text><text x="209.4" y="690.7" text-anchor="end">200</text><text x="209.4" y="559.3" text-anchor="end">300</text><text x="256.3" y="994.5" text-anchor="middle">Jan</text><text x="417.4" y="994.5" text-anchor="middle">Feb</text><text x="562.9" y="994.5" text-anchor="middle">Mar</text><text x="724" y="994.5" text-anchor="middle">Apr</text><text x="879.9" y="994.5" text-anchor="middle">May</text><text x="1041" y="994.5" text-anchor="middle">Jun</text></g>
<text x="247.4" y="601.5" font-size="45.8" font-weight="bold">2021</text>
</g>
<g>
<path d="M1251.5 540.3V934.5M1412.5 540.3V934.5M1557.9 540.3V934.5M1718.9 540.3V934.5M1874.7 540.3V934.5M2035.6 540.3V934.5M1332 540.3V934.5M1485.2 540.3V934.5M1638.4 540.3V934.5M1796.8 540.3V934.5M1955.2 540.3V934.5M1225.3 803.1H2061.2M1225.3 671.7H2061.2M1225.3 540.3H2061.2" stroke="#dcdcdc" stroke-width="1.3" fill="none"/>
<path d="M1298.2 689.8V785.7M1303.4 715.4V807.7M1308.6 737.3V812.5M1313.8 742.1V825.2M1319 755.3V837.2M1324.2 741.7V819.1M1329.4 741.5V816.7M1334.6 748V831.7M1339.8 757.3V836.2M1345 802.7V853.7M1350.2 792.2V850M1355.4 754.6V837.1M1360.6 760.7V834.9M1365.7 782.4V821.8M1370.9 765.7V815M1376.1 784.1V831.8M1381.3 805.1V841.1M1386.5 783.7V823.3M1391.7 763V815.5M1396.9 781.2V828.7M1402.1 801.5V836.8M1407.3 835.7V862.7M1412.5 833.1V865.1M1417.7 837.1V866.1M1422.9 818.1V848.3M1428.1 800.1V838.8M1433.3 758.2V814.2M1438.4 740.1V794.9M1443.6 736.6V788.2M1448.8 744.7V802.1M1454 752.8V809.6M1459.2 744.9V795.9M1464.4 728.8V784.3M1469.6 698V772.1M1474.8 720.5V785M1563.1 707.2V767.3M1604.6 734.4V791.3M1609.8 742.5V793.5M1615 768.9V807.4M1620.2 768.4V811.7M1625.4 760V809.9M1630.6 731.5V782.6M1635.8 740.3V785.9M1641 736.9V791M1646.2 725.1V783.8M1651.4 735.6V783.3M1656.6 756V799.4M1661.7 764.3V812.4M1666.9 765.2V810.8M1672.1 782V817.6M1895.4 833.8V880.8M1900.6 847.1V882.6M1905.8 851.8V885.4M1911 843.8V886.1M1916.2 839.6V882.4M1921.4 804.6V855.9M1926.6 801.6V858.2M1931.8 817.9V873M1937 813.9V865.9M1942.2 803.1V854.7M2020.1 768.2V809.8M2025.3 766.7V815.7M2030.4 767.2V816.3" stroke="#000000" stroke-opacity="0.5" stroke-width="1.8" fill="none"/>
<g fill="#000000"><circle cx="1298.2" cy="739.7" r="3.45"/><circle cx="1303.4" cy="763.4" r="3.45"/><circle cx="1308.6" cy="776.4" r="3.45"/><circle cx="1313.8" cy="785.4" r="3.45"/><circle cx="1319" cy="797.9" r="3.45"/><circle cx="1324.2" cy="782" r="3.45"/><circle cx="1329.4" cy="780.6" r="3.45"/><circle cx="1334.6" cy="791.5" r="3.45"/><circle cx="1339.8" cy="798.3" r="3.45"/><circle cx="1345" cy="829.2" r="3.45"/><circle cx="1350.2" cy="822.2" r="3.45"/><circle cx="1355.4" cy="797.5" r="3.45"/><circle cx="1360.6" cy="799.3" r="3.45"/><circle cx="1365.7" cy="802.9" r="3.45"/><circle cx="1370.9" cy="791.3" r="3.45"/><circle cx="1376.1" cy="808.9" r="3.45"/><circle cx="1381.3" cy="823.8" r="3.45"/><circle cx="1386.5" cy="804.3" r="3.45"/><circle cx="1391.7" cy="790.3" r="3.45"/><circle cx="1396.9" cy="805.9" r="3.45"/><circle cx="1402.1" cy="819.8" r="3.45"/><circle cx="1407.3" cy="849.8" r="3.45"/><circle cx="1412.5" cy="849.8" r="3.45"/><circle cx="1417.7" cy="852.2" r="3.45"/><circle cx="1422.9" cy="833.8" r="3.45"/><circle cx="1428.1" cy="820.2" r="3.45"/><circle cx="1433.3" cy="787.3" r="3.45"/><circle cx="1438.4" cy="768.6" r="3.45"/><circle cx="1443.6" cy="763.4" r="3.45"/><circle cx="1448.8" cy="774.6" r="3.45"/><circle cx="1454" cy="782.4" r="3.45"/><circle cx="1459.2" cy="771.4" r="3.45"/><circle cx="1464.4" cy="757.6" r="3.45"/><circle cx="1469.6" cy="736.5" r="3.45"/><circle cx="1474.8" cy="754" r="3.45"/><circle cx="1563.1" cy="738.5" r="3.45"/><circle cx="1604.6" cy="764" r="3.45"/><circle cx="1609.8" cy="769" r="3.45"/><circle cx="1615" cy="788.9" r="3.45"/><circle cx="1620.2" cy="790.9" r="3.45"/><circle cx="1625.4" cy="786" r="3.45"/><circle cx="1630.6" cy="758" r="3.45"/><circle cx="1635.8" cy="764" r="3.45"/><circle cx="1641" cy="765" r="3.45"/><circle cx="1646.2" cy="755.6" r="3.45"/><circle cx="1651.4" cy="760.4" r="3.45"/><circle cx="1656.6" cy="778.6" r="3.45"/><circle cx="1661.7" cy="789.3" r="3.45"/><circle cx="1666.9" cy="788.9" r="3.45"/><circle cx="1672.1" cy="800.5" r="3.45"/><circle cx="1895.4" cy="858.2" r="3.45"/><circle cx="1900.6" cy="865.5" r="3.45"/><circle cx="1905.8" cy="869.3" r="3.45"/><circle cx="1911" cy="865.8" r="3.45"/><circle cx="1916.2" cy="861.8" r="3.45"/><circle cx="1921.4" cy="831.3" r="3.45"/><circle cx="1926.6" cy="831" r="3.45"/><circle cx="1931.8" cy="846.5" r="3.45"/><circle cx="1937" cy="841" r="3.45"/><circle cx="1942.2" cy="829.9" r="3.45"/><circle cx="2020.1" cy="789.8" r="3.45"/><circle cx="2025.3" cy="792.2" r="3.45"/><circle cx="2030.4" cy="792.7" r="3.45"/></g>
<path d="M1298.2 774V815M1303.4 792.2V830M1308.6 807.9V836.7M1313.8 818.1V844.5M1319 828.6V856.7M1324.2 828.7V855.8M1329.4 831.4V854.1M1334.6 835.5V859.1M1339.8 845.2V869.3M1345 860.8V878.7M1350.2 851.9V870M1355.4 838.1V862.4M1360.6 839.1V864.6M1365.7 834.8V857.8M1370.9 823.9V848.7M1376.1 835.9V861.8M1381.3 841.2V865.4M1386.5 832V854.7M1391.7 825.9V851.5M1396.9 832.5V859.9M1402.1 842.3V865.1M1407.3 858V874.7M1412.5 858.5V877.4M1417.7 860.3V880.3M1422.9 857.3V875.4M1428.1 852.2V870.5M1433.3 839.3V864M1438.4 839.2V864.1M1443.6 828.4V852.2M1448.8 830.2V854.4M1454 832.6V859.9M1459.2 829V855.5M1464.4 822.5V847M1469.6 815.3V844.4M1474.8 820.9V851.5M1563.1 829.5V853.2M1604.6 797V831.4M1609.8 791.3V829.7M1615 797.3V829.2M1620.2 803.2V832.5M1625.4 801.8V836.5M1630.6 803V837.3M1635.8 814.3V841.1M1641 829.4V853.9M1646.2 831.4V859.1M1651.4 832.6V858M1656.6 853.5V871.2M1661.7 864.8V881.9M1666.9 865.6V884.2M1672.1 872.7V887.3M1895.4 870.5V891.7M1900.6 876.8V894.8M1905.8 880.2V895M1911 875.2V893.2M1916.2 872V892.8M1921.4 865.6V886M1926.6 866.5V885.1M1931.8 876.1V894.7M1937 871.4V892.1M1942.2 866.5V885.6M2020.1 807.5V835.6M2025.3 809.2V838.8M2030.4 806.7V841.1" stroke="#0000FF" stroke-opacity="0.5" stroke-width="1.8" fill="none"/>
<g fill="#0000FF"><circle cx="1298.2" cy="795.3" r="3.45"/><circle cx="1303.4" cy="811.9" r="3.45"/><circle cx="1308.6" cy="822.8" r="3.45"/><circle cx="1313.8" cy="831.8" r="3.45"/><circle cx="1319" cy="843.2" r="3.45"/><circle cx="1324.2" cy="842.8" r="3.45"/><circle cx="1329.4" cy="843.2" r="3.45"/><circle cx="1334.6" cy="847.8" r="3.45"/><circle cx="1339.8" cy="857.7" r="3.45"/><circle cx="1345" cy="870.1" r="3.45"/><circle cx="1350.2" cy="861.3" r="3.45"/><circle cx="1355.4" cy="850.8" r="3.45"/><circle cx="1360.6" cy="852.4" r="3.45"/><circle cx="1365.7" cy="846.8" r="3.45"/><circle cx="1370.9" cy="836.8" r="3.45"/><circle cx="1376.1" cy="849.4" r="3.45"/><circle cx="1381.3" cy="853.7" r="3.45"/><circle cx="1386.5" cy="843.8" r="3.45"/><circle cx="1391.7" cy="839.2" r="3.45"/><circle cx="1396.9" cy="846.8" r="3.45"/><circle cx="1402.1" cy="854.1" r="3.45"/><circle cx="1407.3" cy="866.7" r="3.45"/><circle cx="1412.5" cy="868.3" r="3.45"/><circle cx="1417.7" cy="870.7" r="3.45"/><circle cx="1422.9" cy="866.7" r="3.45"/><circle cx="1428.1" cy="861.7" r="3.45"/><circle cx="1433.3" cy="852.2" r="3.45"/><circle cx="1438.4" cy="852.2" r="3.45"/><circle cx="1443.6" cy="840.8" r="3.45"/><circle cx="1448.8" cy="842.8" r="3.45"/><circle cx="1454" cy="846.8" r="3.45"/><circle cx="1459.2" cy="842.8" r="3.45"/><circle cx="1464.4" cy="835.2" r="3.45"/><circle cx="1469.6" cy="830.4" r="3.45"/><circle cx="1474.8" cy="836.8" r="3.45"/><circle cx="1563.1" cy="841.8" r="3.45"/><circle cx="1604.6" cy="814.9" r="3.45"/><circle cx="1609.8" cy="811.3" r="3.45"/><circle cx="1615" cy="813.9" r="3.45"/><circle cx="1620.2" cy="818.5" r="3.45"/><circle cx="1625.4" cy="819.8" r="3.45"/><circle cx="1630.6" cy="820.8" r="3.45"/><circle cx="1635.8" cy="828.2" r="3.45"/><circle cx="1641" cy="842.2" r="3.45"/><circle cx="1646.2" cy="845.8" r="3.45"/><circle cx="1651.4" cy="845.8" r="3.45"/><circle cx="1656.6" cy="862.7" r="3.45"/><circle cx="1661.7" cy="873.7" r="3.45"/><circle cx="1666.9" cy="875.3" r="3.45"/><circle cx="1672.1" cy="880.3" r="3.45"/><circle cx="1895.4" cy="881.5" r="3.45"/><circle cx="1900.6" cy="886.1" r="3.45"/><circle cx="1905.8" cy="887.9" r="3.45"/><circle cx="1911" cy="884.5" r="3.45"/><circle cx="1916.2" cy="882.8" r="3.45"/><circle cx="1921.4" cy="876.2" r="3.45"/><circle cx="1926.6" cy="876.2" r="3.45"/><circle cx="1931.8" cy="885.7" r="3.45"/><circle cx="1937" cy="882.2" r="3.45"/><circle cx="1942.2" cy="876.4" r="3.45"/><circle cx="2020.1" cy="822.1" r="3.45"/><circle cx="2025.3" cy="824.6" r="3.45"/><circle cx="2030.4" cy="824.6" r="3.45"/></g>
<path d="M1298.2 855.2V872.3M1303.4 863V880.9M1308.6 869.3V884.7M1313.8 875.4V887.5M1319 881.3V893.5M1324.2 877.8V892.1M1329.4 878.5V891.1M1334.6 881.4V892.3M1339.8 886V897.6M1345 892.1V902.7M1350.2 886.3V896.5M1355.4 879.6V891.3M1360.6 879.1V892.9M1365.7 875.3V889.5M1370.9 870.9V884M1376.1 879.9V892.1M1381.3 881.2V894.7M1386.5 875.3V888.7M1391.7 874.2V886.6M1396.9 877V890.6M1402.1 883.6V896.4M1407.3 892.3V901.4M1412.5 893.1V901.8M1417.7 893.8V903.8M1422.9 890.5V901.1M1428.1 888V897.6M1433.3 881.6V893.3M1438.4 880.1V893.8M1443.6 876.7V890.1M1448.8 878.7V890.1M1454 880V892.7M1459.2 877.8V892.1M1464.4 873.8V887M1469.6 872.3V885.3M1474.8 875.8V890.1M1563.1 872V884.8M1604.6 854.5V871.5M1609.8 853.2V873.4M1615 854.7V873.9M1620.2 857.4V873.3M1625.4 857.8V874.9M1630.6 857.1V876.7M1635.8 862.7V879.2M1641 873.8V886.2M1646.2 876.1V889.8M1651.4 875.3V890.2M1656.6 885.5V896.1M1661.7 890.2V899.5M1666.9 891.5V902.1M1672.1 895.2V904.8M1895.4 895.7V905.9M1900.6 898.8V909M1905.8 901.1V909.4M1911 898.6V907.1M1916.2 895.6V906.3M1921.4 888.8V901.5M1926.6 889.9V900.5M1931.8 897V906.3M1937 893V904.8M1942.2 888.7V900.9M2020.1 856.1V873.8M2025.3 858.3V874M2030.4 856.9V875.4" stroke="#A52A2A" stroke-opacity="0.5" stroke-width="1.8" fill="none"/>
<g fill="#A52A2A"><circle cx="1298.2" cy="864.1" r="3.45"/><circle cx="1303.4" cy="872.3" r="3.45"/><circle cx="1308.6" cy="877.3" r="3.45"/><circle cx="1313.8" cy="881.7" r="3.45"/><circle cx="1319" cy="887.6" r="3.45"/><circle cx="1324.2" cy="885.2" r="3.45"/><circle cx="1329.4" cy="885.1" r="3.45"/><circle cx="1334.6" cy="887" r="3.45"/><circle cx="1339.8" cy="892" r="3.45"/><circle cx="1345" cy="897.6" r="3.45"/><circle cx="1350.2" cy="891.6" r="3.45"/><circle cx="1355.4" cy="885.6" r="3.45"/><circle cx="1360.6" cy="886.2" r="3.45"/><circle cx="1365.7" cy="882.7" r="3.45"/><circle cx="1370.9" cy="877.7" r="3.45"/><circle cx="1376.1" cy="886.2" r="3.45"/><circle cx="1381.3" cy="888.2" r="3.45"/><circle cx="1386.5" cy="882.3" r="3.45"/><circle cx="1391.7" cy="880.7" r="3.45"/><circle cx="1396.9" cy="884.1" r="3.45"/><circle cx="1402.1" cy="890.2" r="3.45"/><circle cx="1407.3" cy="897" r="3.45"/><circle cx="1412.5" cy="897.6" r="3.45"/><circle cx="1417.7" cy="899" r="3.45"/><circle cx="1422.9" cy="896" r="3.45"/><circle cx="1428.1" cy="893" r="3.45"/><circle cx="1433.3" cy="887.6" r="3.45"/><circle cx="1438.4" cy="887.2" r="3.45"/><circle cx="1443.6" cy="883.7" r="3.45"/><circle cx="1448.8" cy="884.7" r="3.45"/><circle cx="1454" cy="886.6" r="3.45"/><circle cx="1459.2" cy="885.2" r="3.45"/><circle cx="1464.4" cy="880.7" r="3.45"/><circle cx="1469.6" cy="879.1" r="3.45"/><circle cx="1474.8" cy="883.3" r="3.45"/><circle cx="1563.1" cy="878.7" r="3.45"/><circle cx="1604.6" cy="863.3" r="3.45"/><circle cx="1609.8" cy="863.7" r="3.45"/><circle cx="1615" cy="864.7" r="3.45"/><circle cx="1620.2" cy="865.7" r="3.45"/><circle cx="1625.4" cy="866.7" r="3.45"/><circle cx="1630.6" cy="867.3" r="3.45"/><circle cx="1635.8" cy="871.3" r="3.45"/><circle cx="1641" cy="880.3" r="3.45"/><circle cx="1646.2" cy="883.3" r="3.45"/><circle cx="1651.4" cy="883.1" r="3.45"/><circle cx="1656.6" cy="891" r="3.45"/><circle cx="1661.7" cy="895" r="3.45"/><circle cx="1666.9" cy="897" r="3.45"/><circle cx="1672.1" cy="900.2" r="3.45"/><circle cx="1895.4" cy="901" r="3.45"/><circle cx="1900.6" cy="904.1" r="3.45"/><circle cx="1905.8" cy="905.4" r="3.45"/><circle cx="1911" cy="903" r="3.45"/><circle cx="1916.2" cy="901.2" r="3.45"/><circle cx="1921.4" cy="895.4" r="3.45"/><circle cx="1926.6" cy="895.4" r="3.45"/><circle cx="1931.8" cy="901.8" r="3.45"/><circle cx="1937" cy="899.2" r="3.45"/><circle cx="1942.2" cy="895" r="3.45"/><circle cx="2020.1" cy="865.3" r="3.45"/><circle cx="2025.3" cy="866.5" r="3.45"/><circle cx="2030.4" cy="866.5" r="3.45"/></g>
<path d="M1298.2 748.1V796.7M1303.4 767.2V804.4M1308.6 770.6V808.9M1313.8 782.2V823.1M1319 802.8V835.6M1324.2 795V825.5M1329.4 795V829.4M1334.6 794.7V832.3M1339.8 802.7V833.8M1345 824.1V848.5M1350.2 808.5V841.1M1355.4 797V833.2M1360.6 804.7V833.9M1365.7 791.8V824.7M1370.9 774.7V817.4M1376.1 795.6V830.7M1381.3 804.7V833.1M1386.5 785V821.3M1391.7 781V822.4M1396.9 787.1V822.4M1402.1 802.8V831.7M1407.3 811V842.6M1412.5 814.7V846.5M1417.7 817.4V844M1422.9 807.4V836.3M1428.1 792.7V830.3M1433.3 780.9V820.2M1438.4 793.1V824.2M1443.6 789.5V824.1M1448.8 792.6V830.8M1454 796.9V830.3M1459.2 795.5V825.9M1464.4 782.6V820.9M1469.6 782.8V823.4M1474.8 797.4V829M1563.1 794.3V831.9M1604.6 735.1V800.3M1609.8 744.6V798M1615 751.5V803.5M1620.2 751.7V811.9M1625.4 757.3V813.2M1630.6 761.9V799.7M1635.8 772.7V811.6M1641 793V831.2M1646.2 807.3V838M1651.4 806.2V834.3M1656.6 821.5V850.2M1661.7 828V856.4M1666.9 837.6V859.8M1672.1 843.7V864.2M1895.4 842V872.5M1900.6 850.1V875.2M1905.8 850.7V879.2M1911 841.1V874.8M1916.2 839.7V869.5M1921.4 825.4V858.7M1926.6 823.1V862.6M1931.8 836.7V871M1937 831.4V862.5M1942.2 819.2V856M2020.1 766V807.2M2025.3 767V812.1M2030.4 770.6V809.6" stroke="#A020F0" stroke-opacity="0.5" stroke-width="1.8" fill="none"/>
<g fill="#A020F0"><circle cx="1298.2" cy="773.4" r="3.45"/><circle cx="1303.4" cy="786.6" r="3.45"/><circle cx="1308.6" cy="790.5" r="3.45"/><circle cx="1313.8" cy="803.5" r="3.45"/><circle cx="1319" cy="819.8" r="3.45"/><circle cx="1324.2" cy="810.9" r="3.45"/><circle cx="1329.4" cy="812.9" r="3.45"/><circle cx="1334.6" cy="814.3" r="3.45"/><circle cx="1339.8" cy="818.9" r="3.45"/><circle cx="1345" cy="836.8" r="3.45"/><circle cx="1350.2" cy="825.4" r="3.45"/><circle cx="1355.4" cy="815.9" r="3.45"/><circle cx="1360.6" cy="819.8" r="3.45"/><circle cx="1365.7" cy="808.9" r="3.45"/><circle cx="1370.9" cy="796.9" r="3.45"/><circle cx="1376.1" cy="813.9" r="3.45"/><circle cx="1381.3" cy="819.5" r="3.45"/><circle cx="1386.5" cy="803.9" r="3.45"/><circle cx="1391.7" cy="802.5" r="3.45"/><circle cx="1396.9" cy="805.5" r="3.45"/><circle cx="1402.1" cy="817.9" r="3.45"/><circle cx="1407.3" cy="827.4" r="3.45"/><circle cx="1412.5" cy="831.2" r="3.45"/><circle cx="1417.7" cy="831.2" r="3.45"/><circle cx="1422.9" cy="822.4" r="3.45"/><circle cx="1428.1" cy="812.3" r="3.45"/><circle cx="1433.3" cy="801.3" r="3.45"/><circle cx="1438.4" cy="809.3" r="3.45"/><circle cx="1443.6" cy="807.5" r="3.45"/><circle cx="1448.8" cy="812.5" r="3.45"/><circle cx="1454" cy="814.3" r="3.45"/><circle cx="1459.2" cy="811.3" r="3.45"/><circle cx="1464.4" cy="802.5" r="3.45"/><circle cx="1469.6" cy="803.9" r="3.45"/><circle cx="1474.8" cy="813.9" r="3.45"/><circle cx="1563.1" cy="813.9" r="3.45"/><circle cx="1604.6" cy="769" r="3.45"/><circle cx="1609.8" cy="772.4" r="3.45"/><circle cx="1615" cy="778.6" r="3.45"/><circle cx="1620.2" cy="783" r="3.45"/><circle cx="1625.4" cy="786.4" r="3.45"/><circle cx="1630.6" cy="781.6" r="3.45"/><circle cx="1635.8" cy="792.9" r="3.45"/><circle cx="1641" cy="812.9" r="3.45"/><circle cx="1646.2" cy="823.2" r="3.45"/><circle cx="1651.4" cy="820.8" r="3.45"/><circle cx="1656.6" cy="836.4" r="3.45"/><circle cx="1661.7" cy="842.8" r="3.45"/><circle cx="1666.9" cy="849.2" r="3.45"/><circle cx="1672.1" cy="854.3" r="3.45"/><circle cx="1895.4" cy="857.8" r="3.45"/><circle cx="1900.6" cy="863.2" r="3.45"/><circle cx="1905.8" cy="865.5" r="3.45"/><circle cx="1911" cy="858.6" r="3.45"/><circle cx="1916.2" cy="855.2" r="3.45"/><circle cx="1921.4" cy="842.7" r="3.45"/><circle cx="1926.6" cy="843.6" r="3.45"/><circle cx="1931.8" cy="854.5" r="3.45"/><circle cx="1937" cy="847.6" r="3.45"/><circle cx="1942.2" cy="838.3" r="3.45"/><circle cx="2020.1" cy="787.4" r="3.45"/><circle cx="2025.3" cy="790.5" r="3.45"/><circle cx="2030.4" cy="790.9" r="3.45"/></g>
<path d="M1225.3 538V934.5M1223 934.5H2063.4M1213.3 934.5H1225.3M1213.3 803.1H1225.3M1213.3 671.7H1225.3M1213.3 540.3H1225.3M1251.5 934.5V946.8M1412.5 934.5V946.8M1557.9 934.5V946.8M1718.9 934.5V946.8M1874.7 934.5V946.8M2035.6 934.5V946.8" stroke="#000" stroke-width="4.6" fill="none"/>
<g font-size="41.7" fill="#000"><text x="1204.3" y="953.5" text-anchor="end">0</text><text x="1204.3" y="822.1" text-anchor="end">100</text><text x="1204.3" y="690.7" text-anchor="end">200</text><text x="1204.3" y="559.3" text-anchor="end">300</text><text x="1251.5" y="994.5" text-anchor="middle">Jan</text><text x="1412.5" y="994.5" text-anchor="middle">Feb</text><text x="1557.9" y="994.5" text-anchor="middle">Mar</text><text x="1718.9" y="994.5" text-anchor="middle">Apr</text><text x="1874.7" y="994.5" text-anchor="middle">May</text><text x="2035.6" y="994.5" text-anchor="middle">Jun</text></g>
<text x="1242.3" y="601.5" font-size="45.8" font-weight="bold">2022</text>
</g>
<g>
<path d="M256.3 1037.7V1431.6M417.4 1037.7V1431.6M562.9 1037.7V1431.6M724 1037.7V1431.6M879.9 1037.7V1431.6M1041 1037.7V1431.6M336.9 1037.7V1431.6M490.2 1037.7V1431.6M643.5 1037.7V1431.6M802 1037.7V1431.6M960.5 1037.7V1431.6M230.4 1300.3H1065.8M230.4 1169H1065.8M230.4 1037.7H1065.8" stroke="#dcdcdc" stroke-width="1.3" fill="none"/>
<path d="M375.8 1302.9V1346M381 1253.5V1318M386.2 1240.7V1301.6M391.4 1232V1292.2M396.6 1232.6V1302.3M401.8 1233.9V1304M407 1226.4V1289M412.2 1221.3V1287.3M417.4 1203.8V1286M422.6 1189.9V1272.2M427.8 1184.7V1258.3M474.6 1151.5V1230.5M479.8 1127.4V1209.8M651.3 1255.9V1307.9M656.5 1240.6V1289M661.7 1238.5V1288.2M666.9 1251.2V1305.1M672.1 1252.7V1303.6M677.3 1268.2V1308.5M682.5 1264.5V1309.8M687.7 1247.1V1302.9M692.8 1249.5V1298.7M698 1259.6V1302.1M703.2 1227.6V1285.8M713.6 1274.3V1314.7M724 1245.3V1300.6M729.2 1243.8V1298M734.4 1244.3V1290.7M744.8 1236.4V1307.3M750 1266.2V1321M755.2 1269.4V1317.7M760.4 1264.5V1321.2M765.6 1248.9V1314.9M770.8 1254.2V1310M776 1256.3V1309.7M781.2 1255.7V1317.9M786.4 1266V1324.2M791.6 1284.1V1328.7M796.8 1276.8V1326M802 1275.6V1332.1M807.2 1282V1332.3M812.4 1299V1338.4M817.6 1309V1350M822.8 1322.5V1362M828 1331.5V1363.4M833.2 1336.7V1365.3M838.4 1319.1V1358.5M843.6 1312.1V1354.5M848.8 1326.7V1358.8M854 1336.2V1366.1M859.2 1337.5V1387.4M864.3 1332.1V1382.3M869.5 1335.5V1378.5M874.7 1331.3V1380.4M879.9 1324V1381.4M885.1 1327.1V1377.5M890.3 1349.4V1374M895.5 1333.6V1367.5M900.7 1315.3V1356.9M952.7 1297.1V1339.2M957.9 1290.3V1337M963.1 1296.8V1335.4M968.3 1310V1344M973.5 1335.9V1367.1M978.7 1312.8V1350.8M983.9 1323.1V1353M989.1 1335.8V1363.8M994.3 1335.5V1367.5M999.5 1311.1V1348M1004.7 1297V1333.6M1009.9 1309.9V1347.4M1015.1 1312.3V1351.9M1020.3 1310.2V1345.5M1025.5 1298.6V1335.4M1030.7 1306.7V1347M1035.8 1298.9V1341.9" stroke="#000000" stroke-opacity="0.5" stroke-width="1.8" fill="none"/>
<g fill="#000000"><circle cx="375.8" cy="1325.3" r="3.45"/><circle cx="381" cy="1287.1" r="3.45"/><circle cx="386.2" cy="1272.4" r="3.45"/><circle cx="391.4" cy="1263.3" r="3.45"/><circle cx="396.6" cy="1268.9" r="3.45"/><circle cx="401.8" cy="1270.3" r="3.45"/><circle cx="407" cy="1258.9" r="3.45"/><circle cx="412.2" cy="1255.6" r="3.45"/><circle cx="417.4" cy="1246.5" r="3.45"/><circle cx="422.6" cy="1232.7" r="3.45"/><circle cx="427.8" cy="1223" r="3.45"/><circle cx="474.6" cy="1192.6" r="3.45"/><circle cx="479.8" cy="1170.2" r="3.45"/><circle cx="651.3" cy="1282.9" r="3.45"/><circle cx="656.5" cy="1265.8" r="3.45"/><circle cx="661.7" cy="1264.3" r="3.45"/><circle cx="666.9" cy="1279.2" r="3.45"/><circle cx="672.1" cy="1279.2" r="3.45"/><circle cx="677.3" cy="1289.1" r="3.45"/><circle cx="682.5" cy="1288.1" r="3.45"/><circle cx="687.7" cy="1276.1" r="3.45"/><circle cx="692.8" cy="1275.1" r="3.45"/><circle cx="698" cy="1281.7" r="3.45"/><circle cx="703.2" cy="1257.9" r="3.45"/><circle cx="713.6" cy="1295.3" r="3.45"/><circle cx="724" cy="1274" r="3.45"/><circle cx="729.2" cy="1272" r="3.45"/><circle cx="734.4" cy="1268.5" r="3.45"/><circle cx="744.8" cy="1273.3" r="3.45"/><circle cx="750" cy="1294.7" r="3.45"/><circle cx="755.2" cy="1294.5" r="3.45"/><circle cx="760.4" cy="1294" r="3.45"/><circle cx="765.6" cy="1283.2" r="3.45"/><circle cx="770.8" cy="1283.2" r="3.45"/><circle cx="776" cy="1284.1" r="3.45"/><circle cx="781.2" cy="1288.1" r="3.45"/><circle cx="786.4" cy="1296.3" r="3.45"/><circle cx="791.6" cy="1307.3" r="3.45"/><circle cx="796.8" cy="1302.4" r="3.45"/><circle cx="802" cy="1305" r="3.45"/><circle cx="807.2" cy="1308.1" r="3.45"/><circle cx="812.4" cy="1319.5" r="3.45"/><circle cx="817.6" cy="1330.3" r="3.45"/><circle cx="822.8" cy="1343" r="3.45"/><circle cx="828" cy="1348.1" r="3.45"/><circle cx="833.2" cy="1351.6" r="3.45"/><circle cx="838.4" cy="1339.5" r="3.45"/><circle cx="843.6" cy="1334.1" r="3.45"/><circle cx="848.8" cy="1343.4" r="3.45"/><circle cx="854" cy="1351.8" r="3.45"/><circle cx="859.2" cy="1363.4" r="3.45"/><circle cx="864.3" cy="1358.2" r="3.45"/><circle cx="869.5" cy="1357.9" r="3.45"/><circle cx="874.7" cy="1356.8" r="3.45"/><circle cx="879.9" cy="1353.9" r="3.45"/><circle cx="885.1" cy="1353.3" r="3.45"/><circle cx="890.3" cy="1362.2" r="3.45"/><circle cx="895.5" cy="1351.2" r="3.45"/><circle cx="900.7" cy="1336.9" r="3.45"/><circle cx="952.7" cy="1319" r="3.45"/><circle cx="957.9" cy="1314.6" r="3.45"/><circle cx="963.1" cy="1316.9" r="3.45"/><circle cx="968.3" cy="1327.7" r="3.45"/><circle cx="973.5" cy="1352.1" r="3.45"/><circle cx="978.7" cy="1332.6" r="3.45"/><circle cx="983.9" cy="1338.7" r="3.45"/><circle cx="989.1" cy="1350.4" r="3.45"/><circle cx="994.3" cy="1352.1" r="3.45"/><circle cx="999.5" cy="1330.3" r="3.45"/><circle cx="1004.7" cy="1316" r="3.45"/><circle cx="1009.9" cy="1329.4" r="3.45"/><circle cx="1015.1" cy="1332.9" r="3.45"/><circle cx="1020.3" cy="1328.6" r="3.45"/><circle cx="1025.5" cy="1317.7" r="3.45"/><circle cx="1030.7" cy="1327.7" r="3.45"/><circle cx="1035.8" cy="1321.2" r="3.45"/></g>
<path d="M375.8 1345.2V1364.6M381 1319.7V1349.2M386.2 1315.7V1345.7M391.4 1311.2V1337.9M396.6 1315V1342.4M401.8 1315V1346.4M407 1313.7V1342.8M412.2 1311.5V1337.7M417.4 1292.2V1326.8M422.6 1274.4V1316.6M427.8 1284V1318.5M474.6 1290.9V1325.3M479.8 1270.7V1314.1M651.3 1329V1356.5M656.5 1330.9V1356M661.7 1332.7V1354.3M666.9 1334.6V1358.5M672.1 1333.7V1360.1M677.3 1343.9V1364.6M682.5 1340.5V1360.6M687.7 1330.3V1356.5M692.8 1326.2V1354M698 1325.8V1349.6M703.2 1327.3V1351.3M713.6 1335.9V1360.1M724 1325.4V1351.1M729.2 1317.6V1348.3M734.4 1318.9V1345.9M744.8 1319.8V1348.4M750 1312.4V1344.1M755.2 1314.7V1341.3M760.4 1319.7V1345.1M765.6 1319.2V1349M770.8 1325.2V1352.5M776 1316.8V1342.1M781.2 1313.4V1341.6M786.4 1317.2V1348.1M791.6 1327.6V1352.9M796.8 1328.1V1350.8M802 1338.3V1363.2M807.2 1333.6V1361.4M812.4 1340.1V1362.5M817.6 1336.9V1359.4M822.8 1334.1V1361.3M828 1343.3V1367.6M833.2 1353.3V1371.8M838.4 1339.9V1362.7M843.6 1331.5V1360.1M848.8 1342.6V1366M854 1348.7V1368M859.2 1361.7V1380.1M864.3 1351.6V1374.4M869.5 1354.7V1373.9M874.7 1356.9V1374.5M879.9 1351.6V1373.7M885.1 1347.2V1370.7M890.3 1360.2V1377.2M895.5 1353.5V1372.7M900.7 1344.9V1369.5M952.7 1357.2V1375.2M957.9 1354.8V1376.5M963.1 1351.9V1373.4M968.3 1357V1374.4M973.5 1358.4V1377.1M978.7 1332.1V1360.5M983.9 1339.4V1363.1M989.1 1335.6V1358M994.3 1329.5V1356.9M999.5 1312.4V1346.1M1004.7 1304.6V1335.6M1009.9 1311.9V1340.6M1015.1 1315.1V1347.7M1020.3 1310V1343.3M1025.5 1300.3V1331.1M1030.7 1316.1V1345.1M1035.8 1307.1V1342.7" stroke="#0000FF" stroke-opacity="0.5" stroke-width="1.8" fill="none"/>
<g fill="#0000FF"><circle cx="375.8" cy="1355.3" r="3.45"/><circle cx="381" cy="1335" r="3.45"/><circle cx="386.2" cy="1331.3" r="3.45"/><circle cx="391.4" cy="1325.1" r="3.45"/><circle cx="396.6" cy="1329.2" r="3.45"/><circle cx="401.8" cy="1331.3" r="3.45"/><circle cx="407" cy="1328.8" r="3.45"/><circle cx="412.2" cy="1325.1" r="3.45"/><circle cx="417.4" cy="1310.2" r="3.45"/><circle cx="422.6" cy="1296.4" r="3.45"/><circle cx="427.8" cy="1302" r="3.45"/><circle cx="474.6" cy="1308.8" r="3.45"/><circle cx="479.8" cy="1293.3" r="3.45"/><circle cx="651.3" cy="1343.3" r="3.45"/><circle cx="656.5" cy="1343.9" r="3.45"/><circle cx="661.7" cy="1343.9" r="3.45"/><circle cx="666.9" cy="1347" r="3.45"/><circle cx="672.1" cy="1347.4" r="3.45"/><circle cx="677.3" cy="1354.7" r="3.45"/><circle cx="682.5" cy="1351" r="3.45"/><circle cx="687.7" cy="1343.9" r="3.45"/><circle cx="692.8" cy="1340.6" r="3.45"/><circle cx="698" cy="1338.1" r="3.45"/><circle cx="703.2" cy="1339.8" r="3.45"/><circle cx="713.6" cy="1348.5" r="3.45"/><circle cx="724" cy="1338.8" r="3.45"/><circle cx="729.2" cy="1333.6" r="3.45"/><circle cx="734.4" cy="1333" r="3.45"/><circle cx="744.8" cy="1334.7" r="3.45"/><circle cx="750" cy="1328.9" r="3.45"/><circle cx="755.2" cy="1328.6" r="3.45"/><circle cx="760.4" cy="1332.9" r="3.45"/><circle cx="765.6" cy="1334.7" r="3.45"/><circle cx="770.8" cy="1339.4" r="3.45"/><circle cx="776" cy="1330" r="3.45"/><circle cx="781.2" cy="1328" r="3.45"/><circle cx="786.4" cy="1333.3" r="3.45"/><circle cx="791.6" cy="1340.8" r="3.45"/><circle cx="796.8" cy="1339.9" r="3.45"/><circle cx="802" cy="1351.2" r="3.45"/><circle cx="807.2" cy="1348.1" r="3.45"/><circle cx="812.4" cy="1351.8" r="3.45"/><circle cx="817.6" cy="1348.6" r="3.45"/><circle cx="822.8" cy="1348.3" r="3.45"/><circle cx="828" cy="1355.9" r="3.45"/><circle cx="833.2" cy="1362.9" r="3.45"/><circle cx="838.4" cy="1351.8" r="3.45"/><circle cx="843.6" cy="1346.4" r="3.45"/><circle cx="848.8" cy="1354.7" r="3.45"/><circle cx="854" cy="1358.7" r="3.45"/><circle cx="859.2" cy="1371.3" r="3.45"/><circle cx="864.3" cy="1363.4" r="3.45"/><circle cx="869.5" cy="1364.7" r="3.45"/><circle cx="874.7" cy="1366.1" r="3.45"/><circle cx="879.9" cy="1363.1" r="3.45"/><circle cx="885.1" cy="1359.4" r="3.45"/><circle cx="890.3" cy="1369" r="3.45"/><circle cx="895.5" cy="1363.4" r="3.45"/><circle cx="900.7" cy="1357.7" r="3.45"/><circle cx="952.7" cy="1366.6" r="3.45"/><circle cx="957.9" cy="1366.1" r="3.45"/><circle cx="963.1" cy="1363.1" r="3.45"/><circle cx="968.3" cy="1366.1" r="3.45"/><circle cx="973.5" cy="1368.2" r="3.45"/><circle cx="978.7" cy="1346.9" r="3.45"/><circle cx="983.9" cy="1351.8" r="3.45"/><circle cx="989.1" cy="1347.2" r="3.45"/><circle cx="994.3" cy="1343.7" r="3.45"/><circle cx="999.5" cy="1330" r="3.45"/><circle cx="1004.7" cy="1320.7" r="3.45"/><circle cx="1009.9" cy="1326.8" r="3.45"/><circle cx="1015.1" cy="1332" r="3.45"/><circle cx="1020.3" cy="1327.3" r="3.45"/><circle cx="1025.5" cy="1316.3" r="3.45"/><circle cx="1030.7" cy="1331.2" r="3.45"/><circle cx="1035.8" cy="1325.6" r="3.45"/></g>
<path d="M375.8 1382.1V1392.2M381 1370.3V1384M386.2 1369.2V1385M391.4 1366.7V1381.4M396.6 1370.5V1383M401.8 1371V1385.4M407 1369.3V1384.9M412.2 1369.4V1382.8M417.4 1362.2V1376.8M422.6 1354V1373.2M427.8 1357.3V1375.3M474.6 1357.6V1373M479.8 1347.5V1368.1M651.3 1378.1V1390.7M656.5 1376.4V1390.3M661.7 1377.5V1389.3M666.9 1378.5V1389.6M672.1 1377.8V1391M677.3 1381.9V1394M682.5 1380.1V1390.8M687.7 1375.1V1387.5M692.8 1371.6V1386.7M698 1369.3V1383.8M703.2 1368.2V1381.2M713.6 1371.6V1386.8M724 1366.9V1380.3M729.2 1363.2V1379.8M734.4 1361.9V1379.1M744.8 1364.1V1378.6M750 1361.7V1379.2M755.2 1364.4V1380.3M760.4 1368.4V1381.3M765.6 1368.1V1382.6M770.8 1371.8V1386.9M776 1366.3V1380.9M781.2 1365V1378.7M786.4 1366.3V1382M791.6 1371.4V1386.3M796.8 1371.6V1384.4M802 1376.9V1388.6M807.2 1370.3V1385.6M812.4 1372.3V1386.5M817.6 1372.9V1384.9M822.8 1370.8V1384.5M828 1374.2V1388.7M833.2 1381V1392.5M838.4 1370.9V1383.4M843.6 1364.8V1380.6M848.8 1371.9V1386.9M854 1376.8V1388.7M859.2 1387.4V1396.7M864.3 1381V1393.5M869.5 1382.6V1394.5M874.7 1384V1393.8M879.9 1382.2V1393.1M885.1 1379.9V1392.9M890.3 1389.2V1399M895.5 1387V1396.1M900.7 1381.4V1393.1M952.7 1382.7V1392.7M957.9 1381.3V1392.9M963.1 1379.2V1392.5M968.3 1381.6V1392.7M973.5 1383.6V1393.5M978.7 1367V1382.6M983.9 1370V1385.3M989.1 1367.8V1381.3M994.3 1365.7V1379.8M999.5 1356.3V1375.1M1004.7 1353.2V1371.9M1009.9 1361.2V1375.6M1015.1 1362.7V1378.2M1020.3 1357.5V1376.3M1025.5 1352.8V1370.6M1030.7 1365.1V1378.7M1035.8 1359.4V1376.6" stroke="#A52A2A" stroke-opacity="0.5" stroke-width="1.8" fill="none"/>
<g fill="#A52A2A"><circle cx="375.8" cy="1387.4" r="3.45"/><circle cx="381" cy="1377.4" r="3.45"/><circle cx="386.2" cy="1377.4" r="3.45"/><circle cx="391.4" cy="1374.3" r="3.45"/><circle cx="396.6" cy="1377" r="3.45"/><circle cx="401.8" cy="1378.5" r="3.45"/><circle cx="407" cy="1377.4" r="3.45"/><circle cx="412.2" cy="1376.4" r="3.45"/><circle cx="417.4" cy="1369.8" r="3.45"/><circle cx="422.6" cy="1364" r="3.45"/><circle cx="427.8" cy="1366.7" r="3.45"/><circle cx="474.6" cy="1365.6" r="3.45"/><circle cx="479.8" cy="1358.2" r="3.45"/><circle cx="651.3" cy="1384.7" r="3.45"/><circle cx="656.5" cy="1383.6" r="3.45"/><circle cx="661.7" cy="1383.6" r="3.45"/><circle cx="666.9" cy="1384.2" r="3.45"/><circle cx="672.1" cy="1384.7" r="3.45"/><circle cx="677.3" cy="1388.2" r="3.45"/><circle cx="682.5" cy="1385.7" r="3.45"/><circle cx="687.7" cy="1381.6" r="3.45"/><circle cx="692.8" cy="1379.5" r="3.45"/><circle cx="698" cy="1376.8" r="3.45"/><circle cx="703.2" cy="1374.9" r="3.45"/><circle cx="713.6" cy="1379.5" r="3.45"/><circle cx="724" cy="1373.9" r="3.45"/><circle cx="729.2" cy="1371.8" r="3.45"/><circle cx="734.4" cy="1370.8" r="3.45"/><circle cx="744.8" cy="1371.6" r="3.45"/><circle cx="750" cy="1370.8" r="3.45"/><circle cx="755.2" cy="1372.7" r="3.45"/><circle cx="760.4" cy="1375.1" r="3.45"/><circle cx="765.6" cy="1375.7" r="3.45"/><circle cx="770.8" cy="1379.7" r="3.45"/><circle cx="776" cy="1373.9" r="3.45"/><circle cx="781.2" cy="1372.2" r="3.45"/><circle cx="786.4" cy="1374.4" r="3.45"/><circle cx="791.6" cy="1379.1" r="3.45"/><circle cx="796.8" cy="1378.3" r="3.45"/><circle cx="802" cy="1383" r="3.45"/><circle cx="807.2" cy="1378.3" r="3.45"/><circle cx="812.4" cy="1379.7" r="3.45"/><circle cx="817.6" cy="1379.1" r="3.45"/><circle cx="822.8" cy="1377.9" r="3.45"/><circle cx="828" cy="1381.8" r="3.45"/><circle cx="833.2" cy="1387" r="3.45"/><circle cx="838.4" cy="1377.4" r="3.45"/><circle cx="843.6" cy="1373" r="3.45"/><circle cx="848.8" cy="1379.7" r="3.45"/><circle cx="854" cy="1383" r="3.45"/><circle cx="859.2" cy="1392.2" r="3.45"/><circle cx="864.3" cy="1387.5" r="3.45"/><circle cx="869.5" cy="1388.7" r="3.45"/><circle cx="874.7" cy="1389.1" r="3.45"/><circle cx="879.9" cy="1387.9" r="3.45"/><circle cx="885.1" cy="1386.6" r="3.45"/><circle cx="890.3" cy="1394.3" r="3.45"/><circle cx="895.5" cy="1391.7" r="3.45"/><circle cx="900.7" cy="1387.5" r="3.45"/><circle cx="952.7" cy="1387.9" r="3.45"/><circle cx="957.9" cy="1387.3" r="3.45"/><circle cx="963.1" cy="1386.1" r="3.45"/><circle cx="968.3" cy="1387.3" r="3.45"/><circle cx="973.5" cy="1388.7" r="3.45"/><circle cx="978.7" cy="1375.1" r="3.45"/><circle cx="983.9" cy="1377.9" r="3.45"/><circle cx="989.1" cy="1374.8" r="3.45"/><circle cx="994.3" cy="1373" r="3.45"/><circle cx="999.5" cy="1366.1" r="3.45"/><circle cx="1004.7" cy="1362.9" r="3.45"/><circle cx="1009.9" cy="1368.7" r="3.45"/><circle cx="1015.1" cy="1370.8" r="3.45"/><circle cx="1020.3" cy="1367.3" r="3.45"/><circle cx="1025.5" cy="1362.1" r="3.45"/><circle cx="1030.7" cy="1372.2" r="3.45"/><circle cx="1035.8" cy="1368.3" r="3.45"/></g>
<path d="M375.8 1322.3V1351.5M381 1298.3V1332M386.2 1305.8V1333.4M391.4 1295.8V1328.7M396.6 1296.9V1333.2M401.8 1304.8V1335.1M407 1304.6V1332.5M412.2 1296.9V1331.3M417.4 1281.9V1321.7M422.6 1270.5V1307.1M427.8 1272.4V1308.6M474.6 1269V1312.5M479.8 1256.6V1296.9M651.3 1320.5V1347.3M656.5 1319.1V1343.8M661.7 1316.8V1345.9M666.9 1314.2V1345.5M672.1 1316.8V1343.1M677.3 1324.1V1348.3M682.5 1315.4V1346M687.7 1303.4V1336.4M692.8 1300.8V1329.7M698 1290.1V1323.6M703.2 1279.6V1320.6M713.6 1289.5V1320.6M724 1276.6V1318.2M729.2 1273.5V1310.3M734.4 1273.7V1308.9M744.8 1274V1315.1M750 1277.2V1311.6M755.2 1282.6V1317.3M760.4 1287.1V1325.9M765.6 1296.8V1330.4M770.8 1311V1337.4M776 1299.4V1332M781.2 1295.2V1331.9M786.4 1303.2V1333.5M791.6 1314.6V1340.5M796.8 1312V1342.9M802 1320.6V1353.4M807.2 1311.5V1341.9M812.4 1314.2V1344.5M817.6 1304.4V1342.5M822.8 1303.2V1339.6M828 1312.4V1341.8M833.2 1315.6V1347.2M838.4 1285.1V1329.4M843.6 1278.7V1319.9M848.8 1297.8V1330.8M854 1302.3V1339.3M859.2 1324.7V1356.6M864.3 1317.4V1346.6M869.5 1322.9V1350.6M874.7 1319V1352.5M879.9 1315.2V1348.6M885.1 1315.7V1344.4M890.3 1336.2V1361.8M895.5 1324.9V1357.1M900.7 1308.8V1342.4M952.7 1317.7V1352M957.9 1311.6V1344.9M963.1 1310.5V1340.2M968.3 1306.6V1341.4M973.5 1304.9V1343M978.7 1272.4V1314.3M983.9 1278.7V1316.9M989.1 1257.7V1308.4M994.3 1255V1306.9M999.5 1246.2V1292.9M1004.7 1240.8V1290.4M1009.9 1256.4V1309M1015.1 1264.5V1311.6M1020.3 1260.4V1302.5M1025.5 1244.9V1296.1M1030.7 1273.8V1321.4M1035.8 1271.4V1314.2" stroke="#A020F0" stroke-opacity="0.5" stroke-width="1.8" fill="none"/>
<g fill="#A020F0"><circle cx="375.8" cy="1337.5" r="3.45"/><circle cx="381" cy="1315.8" r="3.45"/><circle cx="386.2" cy="1320.2" r="3.45"/><circle cx="391.4" cy="1312.9" r="3.45"/><circle cx="396.6" cy="1315.8" r="3.45"/><circle cx="401.8" cy="1320.6" r="3.45"/><circle cx="407" cy="1319.1" r="3.45"/><circle cx="412.2" cy="1314.8" r="3.45"/><circle cx="417.4" cy="1302.6" r="3.45"/><circle cx="422.6" cy="1289.5" r="3.45"/><circle cx="427.8" cy="1291.2" r="3.45"/><circle cx="474.6" cy="1291.6" r="3.45"/><circle cx="479.8" cy="1277.6" r="3.45"/><circle cx="651.3" cy="1334.4" r="3.45"/><circle cx="656.5" cy="1331.9" r="3.45"/><circle cx="661.7" cy="1331.9" r="3.45"/><circle cx="666.9" cy="1330.5" r="3.45"/><circle cx="672.1" cy="1330.5" r="3.45"/><circle cx="677.3" cy="1336.7" r="3.45"/><circle cx="682.5" cy="1331.3" r="3.45"/><circle cx="687.7" cy="1320.6" r="3.45"/><circle cx="692.8" cy="1315.8" r="3.45"/><circle cx="698" cy="1307.5" r="3.45"/><circle cx="703.2" cy="1300.9" r="3.45"/><circle cx="713.6" cy="1305.7" r="3.45"/><circle cx="724" cy="1298.2" r="3.45"/><circle cx="729.2" cy="1292.6" r="3.45"/><circle cx="734.4" cy="1292" r="3.45"/><circle cx="744.8" cy="1295.4" r="3.45"/><circle cx="750" cy="1295.1" r="3.45"/><circle cx="755.2" cy="1300.6" r="3.45"/><circle cx="760.4" cy="1307.3" r="3.45"/><circle cx="765.6" cy="1314.3" r="3.45"/><circle cx="770.8" cy="1324.7" r="3.45"/><circle cx="776" cy="1316.3" r="3.45"/><circle cx="781.2" cy="1314.3" r="3.45"/><circle cx="786.4" cy="1319" r="3.45"/><circle cx="791.6" cy="1328" r="3.45"/><circle cx="796.8" cy="1328" r="3.45"/><circle cx="802" cy="1337.6" r="3.45"/><circle cx="807.2" cy="1327.3" r="3.45"/><circle cx="812.4" cy="1330" r="3.45"/><circle cx="817.6" cy="1324.2" r="3.45"/><circle cx="822.8" cy="1322.1" r="3.45"/><circle cx="828" cy="1327.7" r="3.45"/><circle cx="833.2" cy="1332" r="3.45"/><circle cx="838.4" cy="1308.1" r="3.45"/><circle cx="843.6" cy="1300.1" r="3.45"/><circle cx="848.8" cy="1315" r="3.45"/><circle cx="854" cy="1321.6" r="3.45"/><circle cx="859.2" cy="1341.3" r="3.45"/><circle cx="864.3" cy="1332.6" r="3.45"/><circle cx="869.5" cy="1337.3" r="3.45"/><circle cx="874.7" cy="1336.4" r="3.45"/><circle cx="879.9" cy="1332.6" r="3.45"/><circle cx="885.1" cy="1330.7" r="3.45"/><circle cx="890.3" cy="1349.5" r="3.45"/><circle cx="895.5" cy="1341.6" r="3.45"/><circle cx="900.7" cy="1326.3" r="3.45"/><circle cx="952.7" cy="1335.5" r="3.45"/><circle cx="957.9" cy="1328.9" r="3.45"/><circle cx="963.1" cy="1325.9" r="3.45"/><circle cx="968.3" cy="1324.7" r="3.45"/><circle cx="973.5" cy="1324.7" r="3.45"/><circle cx="978.7" cy="1294.2" r="3.45"/><circle cx="983.9" cy="1298.6" r="3.45"/><circle cx="989.1" cy="1284.1" r="3.45"/><circle cx="994.3" cy="1282" r="3.45"/><circle cx="999.5" cy="1270.5" r="3.45"/><circle cx="1004.7" cy="1266.6" r="3.45"/><circle cx="1009.9" cy="1283.7" r="3.45"/><circle cx="1015.1" cy="1289" r="3.45"/><circle cx="1020.3" cy="1282.3" r="3.45"/><circle cx="1025.5" cy="1271.5" r="3.45"/><circle cx="1030.7" cy="1298.6" r="3.45"/><circle cx="1035.8" cy="1293.7" r="3.45"/></g>
<path d="M230.4 1035.4V1431.6M228.1 1431.6H1068M218.4 1431.6H230.4M218.4 1300.3H230.4M218.4 1169H230.4M218.4 1037.7H230.4M256.3 1431.6V1443.9M417.4 1431.6V1443.9M562.9 1431.6V1443.9M724 1431.6V1443.9M879.9 1431.6V1443.9M1041 1431.6V1443.9" stroke="#000" stroke-width="4.6" fill="none"/>
<g font-size="41.7" fill="#000"><text x="209.4" y="1450.6" text-anchor="end">0</text><text x="209.4" y="1319.3" text-anchor="end">100</text><text x="209.4" y="1188" text-anchor="end">200</text><text x="209.4" y="1056.7" text-anchor="end">300</text><text x="256.3" y="1491.2" text-anchor="middle">Jan</text><text x="417.4" y="1491.2" text-anchor="middle">Feb</text><text x="562.9" y="1491.2" text-anchor="middle">Mar</text><text x="724" y="1491.2" text-anchor="middle">Apr</text><text x="879.9" y="1491.2" text-anchor="middle">May</text><text x="1041" y="1491.2" text-anchor="middle">Jun</text></g>
<text x="247.4" y="1098.4" font-size="45.8" font-weight="bold">2023</text>
</g>
<g>
<path d="M1251.2 1037.7V1431.6M1411.2 1037.7V1431.6M1560.8 1037.7V1431.6M1720.8 1037.7V1431.6M1875.6 1037.7V1431.6M2035.5 1037.7V1431.6M1331.2 1037.7V1431.6M1486 1037.7V1431.6M1640.8 1037.7V1431.6M1798.2 1037.7V1431.6M1955.5 1037.7V1431.6M1225.3 1300.3H2061.2M1225.3 1169H2061.2M1225.3 1037.7H2061.2" stroke="#dcdcdc" stroke-width="1.3" fill="none"/>
<path d="M1256.4 1273.7V1311.4M1261.5 1291.3V1326.3M1266.7 1300.7V1328.7M1271.8 1276.2V1309.1M1277 1278.5V1316.5M1282.2 1292.5V1326M1287.3 1287.9V1317.5M1292.5 1298V1327.8M1297.6 1307.1V1338.6M1302.8 1305.3V1334.2M1308 1311.5V1336.1M1313.1 1304.3V1334.3M1318.3 1290.5V1325.9M1323.4 1306.8V1333.9M1328.6 1314.1V1338.7M1333.8 1313.8V1342.8M1338.9 1318.5V1346.1M1344.1 1289.1V1318.7M1349.2 1253.1V1292.3M1354.4 1195.4V1254.9M1359.6 1195.9V1250.7M1364.7 1182V1233.1M1369.9 1188V1244.5M1375 1201.8V1259.8M1380.2 1206.6V1256.1M1385.4 1195V1244.1M1390.5 1159.6V1225.7M1395.7 1163.2V1229.3M1400.8 1201.4V1249.8M1406 1256.6V1294.5M1411.2 1269.8V1310.4M1416.3 1286.8V1340.1M1421.5 1299.3V1342M1426.6 1255.6V1318.5M1431.8 1235.3V1312.3M1437 1193.6V1277M1442.1 1205.1V1278.6M1447.3 1219V1298.5M1452.4 1213V1297.4M1457.6 1221.9V1292M1462.8 1215.2V1287.8M1467.9 1195.9V1287.1M1473.1 1191.9V1281.2M1478.2 1228.7V1294.5M1483.4 1239.1V1306.8M1488.6 1303V1335.5M1493.7 1326V1350M1498.9 1332.3V1352.6M1504 1320.1V1346.6M1509.2 1308.9V1339.6M1514.4 1312.5V1338.2M1519.5 1301.7V1329M1524.7 1262.6V1304.4M1529.8 1247.1V1291.8M1535 1261.6V1296.8M1540.2 1255.2V1294.2M1545.3 1242.7V1290.4M1550.5 1240.4V1284.5M1555.6 1253.4V1289.8M1560.8 1259.4V1299.6M1566 1235.2V1284.7M1571.1 1251.4V1290.8M1576.3 1294.6V1323.2M1581.4 1313.9V1342.7M1586.6 1307V1337.5M1591.8 1316.8V1340.8M1596.9 1333.8V1355.1M1602.1 1312.7V1342.6M1607.2 1278.2V1314.2M1612.4 1252.9V1289.5M1617.6 1270.2V1307.3M1622.7 1265.5V1307.4M1627.9 1266.4V1303.1M1633 1272.2V1305.1M1638.2 1257.7V1299.7M1643.4 1254.1V1298M1648.5 1251.1V1289.2M1653.7 1269.9V1304.6M1658.8 1311.9V1341.8M1664 1339.5V1361.4M1669.2 1343.9V1361.9M1674.3 1329.9V1352.9M1679.5 1281.5V1336.1M1684.6 1280.7V1329.9M1689.8 1302.2V1340.8M1695 1290.7V1339.2M1700.1 1285.2V1337.7M1705.3 1260.7V1313.8M1710.4 1253.4V1308.2M1715.6 1250.3V1315M1720.8 1253.1V1315.1M1725.9 1279.1V1324.9M1731.1 1319.7V1355.8M1736.2 1297.1V1345.9M1741.4 1243.5V1305.8M1746.6 1234.9V1293.4M1751.7 1237.7V1303.5M1756.9 1278.8V1334M1762 1288.9V1333.9M1767.2 1281.8V1327.4M1772.4 1266.1V1324.6M1777.5 1260.2V1320.4M1782.7 1241.6V1299.1M1787.8 1264.2V1317.4M1793 1310.7V1354.5M1798.2 1321.2V1358.3M1803.3 1320.7V1353.7M1808.5 1302.9V1345.9M1813.6 1279.9V1334.9M1818.8 1279.2V1327.9M1824 1284.9V1329.1M1829.1 1270.6V1327M1834.3 1286V1337.7M1932.3 1296.2V1329.1M1937.5 1305.5V1333.1M1942.6 1293.1V1328.1M1947.8 1303V1337.4M1953 1297.9V1328.7M1958.1 1286.5V1319.1M1963.3 1261.6V1306.4M1968.4 1255.2V1300.8M1973.6 1269.2V1305.2M1978.8 1268.5V1307M1983.9 1242V1293M1989.1 1246.6V1292.2M1994.2 1246.5V1286.9M1999.4 1227.5V1278.3M2004.6 1235.6V1288.2M2009.7 1252.8V1294.6M2014.9 1263.5V1300.9M2020 1251.1V1298.1M2025.2 1241.4V1291.2M2030.4 1227.9V1273.4" stroke="#000000" stroke-opacity="0.5" stroke-width="1.8" fill="none"/>
<g fill="#000000"><circle cx="1256.4" cy="1293.3" r="3.45"/><circle cx="1261.5" cy="1309.5" r="3.45"/><circle cx="1266.7" cy="1315.3" r="3.45"/><circle cx="1271.8" cy="1293.3" r="3.45"/><circle cx="1277" cy="1298.3" r="3.45"/><circle cx="1282.2" cy="1309.9" r="3.45"/><circle cx="1287.3" cy="1303.3" r="3.45"/><circle cx="1292.5" cy="1313.5" r="3.45"/><circle cx="1297.6" cy="1323.5" r="3.45"/><circle cx="1302.8" cy="1320.3" r="3.45"/><circle cx="1308" cy="1324.3" r="3.45"/><circle cx="1313.1" cy="1319.9" r="3.45"/><circle cx="1318.3" cy="1308.9" r="3.45"/><circle cx="1323.4" cy="1320.9" r="3.45"/><circle cx="1328.6" cy="1326.9" r="3.45"/><circle cx="1333.8" cy="1328.9" r="3.45"/><circle cx="1338.9" cy="1332.9" r="3.45"/><circle cx="1344.1" cy="1304.5" r="3.45"/><circle cx="1349.2" cy="1273.5" r="3.45"/><circle cx="1354.4" cy="1226.4" r="3.45"/><circle cx="1359.6" cy="1224.4" r="3.45"/><circle cx="1364.7" cy="1208.6" r="3.45"/><circle cx="1369.9" cy="1217.4" r="3.45"/><circle cx="1375" cy="1232" r="3.45"/><circle cx="1380.2" cy="1232.4" r="3.45"/><circle cx="1385.4" cy="1220.6" r="3.45"/><circle cx="1390.5" cy="1194" r="3.45"/><circle cx="1395.7" cy="1197.6" r="3.45"/><circle cx="1400.8" cy="1226.6" r="3.45"/><circle cx="1406" cy="1276.3" r="3.45"/><circle cx="1411.2" cy="1290.9" r="3.45"/><circle cx="1416.3" cy="1314.5" r="3.45"/><circle cx="1421.5" cy="1321.5" r="3.45"/><circle cx="1426.6" cy="1288.3" r="3.45"/><circle cx="1431.8" cy="1275.3" r="3.45"/><circle cx="1437" cy="1236.9" r="3.45"/><circle cx="1442.1" cy="1243.3" r="3.45"/><circle cx="1447.3" cy="1260.3" r="3.45"/><circle cx="1452.4" cy="1256.9" r="3.45"/><circle cx="1457.6" cy="1258.3" r="3.45"/><circle cx="1462.8" cy="1252.9" r="3.45"/><circle cx="1467.9" cy="1243.3" r="3.45"/><circle cx="1473.1" cy="1238.3" r="3.45"/><circle cx="1478.2" cy="1262.9" r="3.45"/><circle cx="1483.4" cy="1274.3" r="3.45"/><circle cx="1488.6" cy="1319.9" r="3.45"/><circle cx="1493.7" cy="1338.5" r="3.45"/><circle cx="1498.9" cy="1342.9" r="3.45"/><circle cx="1504" cy="1333.9" r="3.45"/><circle cx="1509.2" cy="1324.9" r="3.45"/><circle cx="1514.4" cy="1325.9" r="3.45"/><circle cx="1519.5" cy="1315.9" r="3.45"/><circle cx="1524.7" cy="1284.3" r="3.45"/><circle cx="1529.8" cy="1270.3" r="3.45"/><circle cx="1535" cy="1279.9" r="3.45"/><circle cx="1540.2" cy="1275.5" r="3.45"/><circle cx="1545.3" cy="1267.5" r="3.45"/><circle cx="1550.5" cy="1263.3" r="3.45"/><circle cx="1555.6" cy="1272.3" r="3.45"/><circle cx="1560.8" cy="1280.3" r="3.45"/><circle cx="1566" cy="1260.9" r="3.45"/><circle cx="1571.1" cy="1271.9" r="3.45"/><circle cx="1576.3" cy="1309.5" r="3.45"/><circle cx="1581.4" cy="1328.9" r="3.45"/><circle cx="1586.6" cy="1322.9" r="3.45"/><circle cx="1591.8" cy="1329.3" r="3.45"/><circle cx="1596.9" cy="1344.9" r="3.45"/><circle cx="1602.1" cy="1328.3" r="3.45"/><circle cx="1607.2" cy="1296.9" r="3.45"/><circle cx="1612.4" cy="1271.9" r="3.45"/><circle cx="1617.6" cy="1289.5" r="3.45"/><circle cx="1622.7" cy="1287.3" r="3.45"/><circle cx="1627.9" cy="1285.5" r="3.45"/><circle cx="1633" cy="1289.3" r="3.45"/><circle cx="1638.2" cy="1279.5" r="3.45"/><circle cx="1643.4" cy="1276.9" r="3.45"/><circle cx="1648.5" cy="1270.9" r="3.45"/><circle cx="1653.7" cy="1287.9" r="3.45"/><circle cx="1658.8" cy="1327.5" r="3.45"/><circle cx="1664" cy="1350.9" r="3.45"/><circle cx="1669.2" cy="1353.3" r="3.45"/><circle cx="1674.3" cy="1341.9" r="3.45"/><circle cx="1679.5" cy="1309.9" r="3.45"/><circle cx="1684.6" cy="1306.3" r="3.45"/><circle cx="1689.8" cy="1322.3" r="3.45"/><circle cx="1695" cy="1315.9" r="3.45"/><circle cx="1700.1" cy="1312.5" r="3.45"/><circle cx="1705.3" cy="1288.3" r="3.45"/><circle cx="1710.4" cy="1281.9" r="3.45"/><circle cx="1715.6" cy="1283.9" r="3.45"/><circle cx="1720.8" cy="1285.3" r="3.45"/><circle cx="1725.9" cy="1302.9" r="3.45"/><circle cx="1731.1" cy="1338.5" r="3.45"/><circle cx="1736.2" cy="1322.5" r="3.45"/><circle cx="1741.4" cy="1275.9" r="3.45"/><circle cx="1746.6" cy="1265.3" r="3.45"/><circle cx="1751.7" cy="1271.9" r="3.45"/><circle cx="1756.9" cy="1307.5" r="3.45"/><circle cx="1762" cy="1312.3" r="3.45"/><circle cx="1767.2" cy="1305.5" r="3.45"/><circle cx="1772.4" cy="1296.5" r="3.45"/><circle cx="1777.5" cy="1291.5" r="3.45"/><circle cx="1782.7" cy="1271.5" r="3.45"/><circle cx="1787.8" cy="1291.9" r="3.45"/><circle cx="1793" cy="1333.5" r="3.45"/><circle cx="1798.2" cy="1340.5" r="3.45"/><circle cx="1803.3" cy="1337.9" r="3.45"/><circle cx="1808.5" cy="1325.3" r="3.45"/><circle cx="1813.6" cy="1308.5" r="3.45"/><circle cx="1818.8" cy="1304.5" r="3.45"/><circle cx="1824" cy="1307.9" r="3.45"/><circle cx="1829.1" cy="1299.9" r="3.45"/><circle cx="1834.3" cy="1312.9" r="3.45"/><circle cx="1932.3" cy="1313.3" r="3.45"/><circle cx="1937.5" cy="1319.9" r="3.45"/><circle cx="1942.6" cy="1311.3" r="3.45"/><circle cx="1947.8" cy="1320.9" r="3.45"/><circle cx="1953" cy="1313.9" r="3.45"/><circle cx="1958.1" cy="1303.5" r="3.45"/><circle cx="1963.3" cy="1284.9" r="3.45"/><circle cx="1968.4" cy="1278.9" r="3.45"/><circle cx="1973.6" cy="1287.9" r="3.45"/><circle cx="1978.8" cy="1288.5" r="3.45"/><circle cx="1983.9" cy="1268.5" r="3.45"/><circle cx="1989.1" cy="1270.3" r="3.45"/><circle cx="1994.2" cy="1267.5" r="3.45"/><circle cx="1999.4" cy="1253.9" r="3.45"/><circle cx="2004.6" cy="1262.9" r="3.45"/><circle cx="2009.7" cy="1274.5" r="3.45"/><circle cx="2014.9" cy="1282.9" r="3.45"/><circle cx="2020" cy="1275.5" r="3.45"/><circle cx="2025.2" cy="1267.3" r="3.45"/><circle cx="2030.4" cy="1251.5" r="3.45"/></g>
<path d="M1256.4 1343.4V1362.4M1261.5 1348.4V1369.3M1266.7 1355V1373.2M1271.8 1350.6V1367.2M1277 1355.9V1373.1M1282.2 1360V1378.1M1287.3 1357.2V1373.9M1292.5 1361.8V1376.1M1297.6 1364.5V1380.6M1302.8 1364.1V1380.9M1308 1373.4V1385.8M1313.1 1375.2V1387.2M1318.3 1366.4V1382.6M1323.4 1366.1V1381.8M1328.6 1367.4V1380.6M1333.8 1372.3V1385.6M1338.9 1373.6V1388.3M1344.1 1367.2V1381.9M1349.2 1358.7V1373.6M1354.4 1340V1361.6M1359.6 1339.9V1362.9M1364.7 1331V1352.7M1369.9 1332.7V1353.4M1375 1340.1V1362.7M1380.2 1335.1V1358.5M1385.4 1327.2V1348.9M1390.5 1303.8V1332M1395.7 1289.2V1325.1M1400.8 1300.5V1330.9M1406 1318.4V1341.6M1411.2 1320.4V1346.3M1416.3 1319.3V1353.1M1421.5 1326.5V1354.1M1426.6 1290.6V1325.8M1431.8 1283.9V1327M1437 1266.7V1315.2M1442.1 1296.2V1330.2M1447.3 1309.3V1341.2M1452.4 1304.7V1342.8M1457.6 1308.9V1343.5M1462.8 1308.1V1338.5M1467.9 1304.8V1339.6M1473.1 1300.7V1340.2M1478.2 1335.5V1361.2M1483.4 1345.8V1367.1M1488.6 1367.4V1382.9M1493.7 1361.4V1378.8M1498.9 1356.6V1372.5M1504 1346.4V1364.6M1509.2 1342.7V1364.9M1514.4 1342.2V1363.5M1519.5 1328.9V1350M1524.7 1318.6V1344.1M1529.8 1315.2V1344.6M1535 1319.3V1344.7M1540.2 1321.1V1343.8M1545.3 1319.6V1346.3M1550.5 1325.7V1352.2M1555.6 1335.5V1356.2M1560.8 1335.7V1356M1566 1322.9V1349.8M1571.1 1338.1V1360.7M1576.3 1353.5V1369.6M1581.4 1358V1374.3M1586.6 1354.8V1374.2M1591.8 1362.1V1378.1M1596.9 1368.8V1381.6M1602.1 1363.1V1379.1M1607.2 1350.2V1370.7M1612.4 1347.3V1365.7M1617.6 1360.5V1375.4M1622.7 1355.1V1373.9M1627.9 1356.3V1374.7M1633 1361.2V1375.9M1638.2 1352.9V1370.1M1643.4 1350.9V1371.2M1648.5 1351.8V1370.4M1653.7 1356.9V1372.2M1658.8 1373.5V1386.9M1664 1377.3V1391M1669.2 1380.3V1391.7M1674.3 1375.2V1386.8M1679.5 1356.4V1374.6M1684.6 1356.2V1374.8M1689.8 1367.2V1380.8M1695 1363.9V1378.4M1700.1 1357.8V1376.3M1705.3 1349.1V1368.6M1710.4 1350.2V1366.9M1715.6 1350.2V1368.7M1720.8 1350.1V1370.7M1725.9 1363.5V1378.8M1731.1 1381V1391.4M1736.2 1368.6V1383.7M1741.4 1356.1V1374.9M1746.6 1352.7V1369.5M1751.7 1357.7V1373.4M1756.9 1370.5V1385.7M1762 1370.6V1385.3M1767.2 1370.9V1383.4M1772.4 1364.4V1379.5M1777.5 1361.7V1379.3M1782.7 1352V1370.2M1787.8 1362V1376.3M1793 1366.2V1381.6M1798.2 1361.7V1379.3M1803.3 1364.7V1379.2M1808.5 1364.5V1378.6M1813.6 1344.7V1366.1M1818.8 1339.6V1362M1824 1342.9V1361.3M1829.1 1334.3V1355.7M1834.3 1339.1V1362.5M1932.3 1312.5V1342.1M1937.5 1325.8V1348.2M1942.6 1313.8V1339M1947.8 1310.1V1340.4M1953 1309.7V1338.9M1958.1 1304.3V1330.4M1963.3 1301.7V1330.9M1968.4 1299.1V1332.6M1973.6 1309V1336.8M1978.8 1313.9V1338.1M1983.9 1295V1327.5M1989.1 1291.2V1326.3M1994.2 1301.3V1329.3M1999.4 1303.9V1330.8M2004.6 1309.1V1339.4M2009.7 1321V1347.7M2014.9 1332.6V1353.1M2020 1339.2V1359.7M2025.2 1334.7V1359.2M2030.4 1326.3V1350.5" stroke="#0000FF" stroke-opacity="0.5" stroke-width="1.8" fill="none"/>
<g fill="#0000FF"><circle cx="1256.4" cy="1353.3" r="3.45"/><circle cx="1261.5" cy="1359.3" r="3.45"/><circle cx="1266.7" cy="1364.5" r="3.45"/><circle cx="1271.8" cy="1359.3" r="3.45"/><circle cx="1277" cy="1364.9" r="3.45"/><circle cx="1282.2" cy="1369.4" r="3.45"/><circle cx="1287.3" cy="1365.9" r="3.45"/><circle cx="1292.5" cy="1369.2" r="3.45"/><circle cx="1297.6" cy="1372.8" r="3.45"/><circle cx="1302.8" cy="1372.8" r="3.45"/><circle cx="1308" cy="1379.8" r="3.45"/><circle cx="1313.1" cy="1381.4" r="3.45"/><circle cx="1318.3" cy="1374.8" r="3.45"/><circle cx="1323.4" cy="1374.2" r="3.45"/><circle cx="1328.6" cy="1374.2" r="3.45"/><circle cx="1333.8" cy="1379.2" r="3.45"/><circle cx="1338.9" cy="1381.2" r="3.45"/><circle cx="1344.1" cy="1374.8" r="3.45"/><circle cx="1349.2" cy="1366.4" r="3.45"/><circle cx="1354.4" cy="1351.3" r="3.45"/><circle cx="1359.6" cy="1351.9" r="3.45"/><circle cx="1364.7" cy="1342.3" r="3.45"/><circle cx="1369.9" cy="1343.5" r="3.45"/><circle cx="1375" cy="1351.9" r="3.45"/><circle cx="1380.2" cy="1347.3" r="3.45"/><circle cx="1385.4" cy="1338.5" r="3.45"/><circle cx="1390.5" cy="1318.5" r="3.45"/><circle cx="1395.7" cy="1307.9" r="3.45"/><circle cx="1400.8" cy="1316.3" r="3.45"/><circle cx="1406" cy="1330.5" r="3.45"/><circle cx="1411.2" cy="1333.9" r="3.45"/><circle cx="1416.3" cy="1336.9" r="3.45"/><circle cx="1421.5" cy="1340.9" r="3.45"/><circle cx="1426.6" cy="1308.9" r="3.45"/><circle cx="1431.8" cy="1306.3" r="3.45"/><circle cx="1437" cy="1291.9" r="3.45"/><circle cx="1442.1" cy="1313.9" r="3.45"/><circle cx="1447.3" cy="1325.9" r="3.45"/><circle cx="1452.4" cy="1324.5" r="3.45"/><circle cx="1457.6" cy="1326.9" r="3.45"/><circle cx="1462.8" cy="1323.9" r="3.45"/><circle cx="1467.9" cy="1322.9" r="3.45"/><circle cx="1473.1" cy="1321.3" r="3.45"/><circle cx="1478.2" cy="1348.9" r="3.45"/><circle cx="1483.4" cy="1356.9" r="3.45"/><circle cx="1488.6" cy="1375.4" r="3.45"/><circle cx="1493.7" cy="1370.4" r="3.45"/><circle cx="1498.9" cy="1364.9" r="3.45"/><circle cx="1504" cy="1355.9" r="3.45"/><circle cx="1509.2" cy="1354.3" r="3.45"/><circle cx="1514.4" cy="1353.3" r="3.45"/><circle cx="1519.5" cy="1339.9" r="3.45"/><circle cx="1524.7" cy="1331.9" r="3.45"/><circle cx="1529.8" cy="1330.5" r="3.45"/><circle cx="1535" cy="1332.5" r="3.45"/><circle cx="1540.2" cy="1332.9" r="3.45"/><circle cx="1545.3" cy="1333.5" r="3.45"/><circle cx="1550.5" cy="1339.5" r="3.45"/><circle cx="1555.6" cy="1346.3" r="3.45"/><circle cx="1560.8" cy="1346.3" r="3.45"/><circle cx="1566" cy="1336.9" r="3.45"/><circle cx="1571.1" cy="1349.9" r="3.45"/><circle cx="1576.3" cy="1361.9" r="3.45"/><circle cx="1581.4" cy="1366.4" r="3.45"/><circle cx="1586.6" cy="1364.9" r="3.45"/><circle cx="1591.8" cy="1370.4" r="3.45"/><circle cx="1596.9" cy="1375.4" r="3.45"/><circle cx="1602.1" cy="1371.4" r="3.45"/><circle cx="1607.2" cy="1360.9" r="3.45"/><circle cx="1612.4" cy="1356.9" r="3.45"/><circle cx="1617.6" cy="1368.2" r="3.45"/><circle cx="1622.7" cy="1364.9" r="3.45"/><circle cx="1627.9" cy="1365.9" r="3.45"/><circle cx="1633" cy="1368.8" r="3.45"/><circle cx="1638.2" cy="1361.9" r="3.45"/><circle cx="1643.4" cy="1361.5" r="3.45"/><circle cx="1648.5" cy="1361.5" r="3.45"/><circle cx="1653.7" cy="1364.9" r="3.45"/><circle cx="1658.8" cy="1380.4" r="3.45"/><circle cx="1664" cy="1384.4" r="3.45"/><circle cx="1669.2" cy="1386.2" r="3.45"/><circle cx="1674.3" cy="1381.2" r="3.45"/><circle cx="1679.5" cy="1365.9" r="3.45"/><circle cx="1684.6" cy="1365.9" r="3.45"/><circle cx="1689.8" cy="1374.2" r="3.45"/><circle cx="1695" cy="1371.4" r="3.45"/><circle cx="1700.1" cy="1367.4" r="3.45"/><circle cx="1705.3" cy="1359.3" r="3.45"/><circle cx="1710.4" cy="1358.9" r="3.45"/><circle cx="1715.6" cy="1359.9" r="3.45"/><circle cx="1720.8" cy="1360.9" r="3.45"/><circle cx="1725.9" cy="1371.4" r="3.45"/><circle cx="1731.1" cy="1386.4" r="3.45"/><circle cx="1736.2" cy="1376.4" r="3.45"/><circle cx="1741.4" cy="1365.9" r="3.45"/><circle cx="1746.6" cy="1361.5" r="3.45"/><circle cx="1751.7" cy="1365.9" r="3.45"/><circle cx="1756.9" cy="1378.4" r="3.45"/><circle cx="1762" cy="1378.2" r="3.45"/><circle cx="1767.2" cy="1377.4" r="3.45"/><circle cx="1772.4" cy="1372.2" r="3.45"/><circle cx="1777.5" cy="1370.8" r="3.45"/><circle cx="1782.7" cy="1361.5" r="3.45"/><circle cx="1787.8" cy="1369.4" r="3.45"/><circle cx="1793" cy="1374.2" r="3.45"/><circle cx="1798.2" cy="1370.8" r="3.45"/><circle cx="1803.3" cy="1372.2" r="3.45"/><circle cx="1808.5" cy="1371.8" r="3.45"/><circle cx="1813.6" cy="1355.9" r="3.45"/><circle cx="1818.8" cy="1351.3" r="3.45"/><circle cx="1824" cy="1352.5" r="3.45"/><circle cx="1829.1" cy="1345.5" r="3.45"/><circle cx="1834.3" cy="1351.3" r="3.45"/><circle cx="1932.3" cy="1327.9" r="3.45"/><circle cx="1937.5" cy="1337.5" r="3.45"/><circle cx="1942.6" cy="1326.9" r="3.45"/><circle cx="1947.8" cy="1325.9" r="3.45"/><circle cx="1953" cy="1324.9" r="3.45"/><circle cx="1958.1" cy="1317.9" r="3.45"/><circle cx="1963.3" cy="1316.9" r="3.45"/><circle cx="1968.4" cy="1316.5" r="3.45"/><circle cx="1973.6" cy="1323.5" r="3.45"/><circle cx="1978.8" cy="1326.5" r="3.45"/><circle cx="1983.9" cy="1311.9" r="3.45"/><circle cx="1989.1" cy="1309.5" r="3.45"/><circle cx="1994.2" cy="1315.9" r="3.45"/><circle cx="1999.4" cy="1317.9" r="3.45"/><circle cx="2004.6" cy="1324.9" r="3.45"/><circle cx="2009.7" cy="1334.9" r="3.45"/><circle cx="2014.9" cy="1343.3" r="3.45"/><circle cx="2020" cy="1349.9" r="3.45"/><circle cx="2025.2" cy="1347.5" r="3.45"/><circle cx="2030.4" cy="1338.9" r="3.45"/></g>
<path d="M1256.4 1380.4V1390.1M1261.5 1383.4V1393.8M1266.7 1386.3V1396.9M1271.8 1383.7V1393.5M1277 1387.4V1395.9M1282.2 1388.8V1398.5M1287.3 1386.4V1396.8M1292.5 1390V1398.1M1297.6 1393.9V1401.5M1302.8 1393.1V1402.1M1308 1396.9V1404.5M1313.1 1398.1V1404.5M1318.3 1394.8V1402.6M1323.4 1394.9V1403.6M1328.6 1395.5V1403M1333.8 1399V1405.2M1338.9 1399.5V1406.7M1344.1 1395.5V1403.8M1349.2 1389.9V1398.2M1354.4 1381.7V1391.6M1359.6 1381.1V1392.9M1364.7 1374.9V1387.5M1369.9 1375.2V1386M1375 1379.6V1390.5M1380.2 1375.3V1388.6M1385.4 1369.4V1382.6M1390.5 1363V1376.1M1395.7 1356.6V1373.2M1400.8 1362.9V1378.9M1406 1372.3V1384.2M1411.2 1375.5V1386.5M1416.3 1380.1V1391.9M1421.5 1382V1393.2M1426.6 1363V1376.2M1431.8 1359.1V1374M1437 1351.4V1370.3M1442.1 1360.9V1376.1M1447.3 1367.5V1379.7M1452.4 1365.4V1379.8M1457.6 1365.4V1380.9M1462.8 1364.8V1378.4M1467.9 1364.7V1377.7M1473.1 1362.7V1378.4M1478.2 1380.3V1392.1M1483.4 1387.4V1396M1488.6 1396.5V1403.6M1493.7 1393.1V1402.2M1498.9 1387.2V1396.9M1504 1382.4V1391.7M1509.2 1380.5V1391.5M1514.4 1379.4V1391.7M1519.5 1373.6V1385.6M1524.7 1367.4V1379.8M1529.8 1363.9V1379.2M1535 1364.8V1380.2M1540.2 1366.1V1379M1545.3 1365.6V1378.8M1550.5 1370V1384.3M1555.6 1374.9V1387.5M1560.8 1375.7V1386.4M1566 1367.2V1380.8M1571.1 1373.3V1387M1576.3 1382.5V1392.8M1581.4 1385.2V1394.1M1586.6 1383.2V1394M1591.8 1387.5V1397.8M1596.9 1393.3V1400.9M1602.1 1389.5V1397.8M1607.2 1381.2V1392.8M1612.4 1378V1390M1617.6 1387.4V1395.9M1622.7 1384.8V1394.5M1627.9 1384V1395.2M1633 1387.3V1396.8M1638.2 1384.8V1393.7M1643.4 1383.8V1394.3M1648.5 1382.9V1394.3M1653.7 1385.6V1394.9M1658.8 1396.2V1403.1M1664 1398.9V1406.4M1669.2 1400.1V1407.3M1674.3 1396.9V1403.6M1679.5 1388.2V1397.1M1684.6 1387.9V1398.2M1689.8 1392.9V1401.3M1695 1391.5V1399.1M1700.1 1387.9V1397.4M1705.3 1381.1V1392.9M1710.4 1381.5V1391.8M1715.6 1382.5V1392M1720.8 1382V1393.2M1725.9 1389.2V1398.9M1731.1 1399.1V1405.5M1736.2 1392.1V1400M1741.4 1384.7V1395.7M1746.6 1382.2V1393.1M1751.7 1385.9V1394.6M1756.9 1394.8V1402.6M1762 1394.2V1403.1M1767.2 1394.4V1402.2M1772.4 1393V1400.4M1777.5 1391.1V1400.2M1782.7 1383.6V1394.8M1787.8 1391.3V1399.3M1793 1393.5V1401.1M1798.2 1391.6V1400.9M1803.3 1392.7V1401.4M1808.5 1393V1400.4M1813.6 1382.9V1393.1M1818.8 1379.4V1391.7M1824 1378.6V1389.8M1829.1 1375.2V1386M1834.3 1377.6V1389.5M1932.3 1359V1376M1937.5 1366.4V1380.7M1942.6 1358V1372M1947.8 1356.5V1372.6M1953 1353.3V1371.7M1958.1 1350.5V1367.3M1963.3 1351.9V1367.2M1968.4 1350.8V1369M1973.6 1354.1V1372M1978.8 1359V1373.3M1983.9 1346.6V1363.6M1989.1 1342.5V1363.2M1994.2 1348.9V1367.3M1999.4 1351.3V1366.6M2004.6 1356.6V1372.4M2009.7 1362.8V1379M2014.9 1369.7V1382.7M2020 1371.9V1383.3M2025.2 1368.1V1382.2M2030.4 1360.9V1377.4" stroke="#A52A2A" stroke-opacity="0.5" stroke-width="1.8" fill="none"/>
<g fill="#A52A2A"><circle cx="1256.4" cy="1385.4" r="3.45"/><circle cx="1261.5" cy="1388.8" r="3.45"/><circle cx="1266.7" cy="1391.8" r="3.45"/><circle cx="1271.8" cy="1388.8" r="3.45"/><circle cx="1277" cy="1391.8" r="3.45"/><circle cx="1282.2" cy="1393.8" r="3.45"/><circle cx="1287.3" cy="1391.8" r="3.45"/><circle cx="1292.5" cy="1394.2" r="3.45"/><circle cx="1297.6" cy="1397.8" r="3.45"/><circle cx="1302.8" cy="1397.8" r="3.45"/><circle cx="1308" cy="1400.8" r="3.45"/><circle cx="1313.1" cy="1401.4" r="3.45"/><circle cx="1318.3" cy="1398.8" r="3.45"/><circle cx="1323.4" cy="1399.4" r="3.45"/><circle cx="1328.6" cy="1399.4" r="3.45"/><circle cx="1333.8" cy="1402.2" r="3.45"/><circle cx="1338.9" cy="1403.2" r="3.45"/><circle cx="1344.1" cy="1399.8" r="3.45"/><circle cx="1349.2" cy="1394.2" r="3.45"/><circle cx="1354.4" cy="1386.8" r="3.45"/><circle cx="1359.6" cy="1387.2" r="3.45"/><circle cx="1364.7" cy="1381.4" r="3.45"/><circle cx="1369.9" cy="1380.8" r="3.45"/><circle cx="1375" cy="1385.2" r="3.45"/><circle cx="1380.2" cy="1382.2" r="3.45"/><circle cx="1385.4" cy="1376.2" r="3.45"/><circle cx="1390.5" cy="1369.8" r="3.45"/><circle cx="1395.7" cy="1365.3" r="3.45"/><circle cx="1400.8" cy="1371.2" r="3.45"/><circle cx="1406" cy="1378.4" r="3.45"/><circle cx="1411.2" cy="1381.2" r="3.45"/><circle cx="1416.3" cy="1386.2" r="3.45"/><circle cx="1421.5" cy="1387.8" r="3.45"/><circle cx="1426.6" cy="1369.8" r="3.45"/><circle cx="1431.8" cy="1366.8" r="3.45"/><circle cx="1437" cy="1361.3" r="3.45"/><circle cx="1442.1" cy="1368.8" r="3.45"/><circle cx="1447.3" cy="1373.8" r="3.45"/><circle cx="1452.4" cy="1372.8" r="3.45"/><circle cx="1457.6" cy="1373.4" r="3.45"/><circle cx="1462.8" cy="1371.8" r="3.45"/><circle cx="1467.9" cy="1371.4" r="3.45"/><circle cx="1473.1" cy="1370.8" r="3.45"/><circle cx="1478.2" cy="1386.4" r="3.45"/><circle cx="1483.4" cy="1391.8" r="3.45"/><circle cx="1488.6" cy="1400.2" r="3.45"/><circle cx="1493.7" cy="1397.8" r="3.45"/><circle cx="1498.9" cy="1392.2" r="3.45"/><circle cx="1504" cy="1387.2" r="3.45"/><circle cx="1509.2" cy="1386.2" r="3.45"/><circle cx="1514.4" cy="1385.8" r="3.45"/><circle cx="1519.5" cy="1379.8" r="3.45"/><circle cx="1524.7" cy="1373.8" r="3.45"/><circle cx="1529.8" cy="1371.8" r="3.45"/><circle cx="1535" cy="1372.8" r="3.45"/><circle cx="1540.2" cy="1372.8" r="3.45"/><circle cx="1545.3" cy="1372.4" r="3.45"/><circle cx="1550.5" cy="1377.4" r="3.45"/><circle cx="1555.6" cy="1381.4" r="3.45"/><circle cx="1560.8" cy="1381.2" r="3.45"/><circle cx="1566" cy="1374.2" r="3.45"/><circle cx="1571.1" cy="1380.4" r="3.45"/><circle cx="1576.3" cy="1387.8" r="3.45"/><circle cx="1581.4" cy="1389.8" r="3.45"/><circle cx="1586.6" cy="1388.8" r="3.45"/><circle cx="1591.8" cy="1392.8" r="3.45"/><circle cx="1596.9" cy="1397.2" r="3.45"/><circle cx="1602.1" cy="1393.8" r="3.45"/><circle cx="1607.2" cy="1387.2" r="3.45"/><circle cx="1612.4" cy="1384.2" r="3.45"/><circle cx="1617.6" cy="1391.8" r="3.45"/><circle cx="1622.7" cy="1389.8" r="3.45"/><circle cx="1627.9" cy="1389.8" r="3.45"/><circle cx="1633" cy="1392.2" r="3.45"/><circle cx="1638.2" cy="1389.4" r="3.45"/><circle cx="1643.4" cy="1389.2" r="3.45"/><circle cx="1648.5" cy="1388.8" r="3.45"/><circle cx="1653.7" cy="1390.4" r="3.45"/><circle cx="1658.8" cy="1399.8" r="3.45"/><circle cx="1664" cy="1402.8" r="3.45"/><circle cx="1669.2" cy="1403.8" r="3.45"/><circle cx="1674.3" cy="1400.4" r="3.45"/><circle cx="1679.5" cy="1392.8" r="3.45"/><circle cx="1684.6" cy="1393.2" r="3.45"/><circle cx="1689.8" cy="1397.2" r="3.45"/><circle cx="1695" cy="1395.4" r="3.45"/><circle cx="1700.1" cy="1392.8" r="3.45"/><circle cx="1705.3" cy="1387.2" r="3.45"/><circle cx="1710.4" cy="1386.8" r="3.45"/><circle cx="1715.6" cy="1387.4" r="3.45"/><circle cx="1720.8" cy="1387.8" r="3.45"/><circle cx="1725.9" cy="1394.2" r="3.45"/><circle cx="1731.1" cy="1402.4" r="3.45"/><circle cx="1736.2" cy="1396.2" r="3.45"/><circle cx="1741.4" cy="1390.4" r="3.45"/><circle cx="1746.6" cy="1387.8" r="3.45"/><circle cx="1751.7" cy="1390.4" r="3.45"/><circle cx="1756.9" cy="1398.8" r="3.45"/><circle cx="1762" cy="1398.8" r="3.45"/><circle cx="1767.2" cy="1398.4" r="3.45"/><circle cx="1772.4" cy="1396.8" r="3.45"/><circle cx="1777.5" cy="1395.8" r="3.45"/><circle cx="1782.7" cy="1389.4" r="3.45"/><circle cx="1787.8" cy="1395.4" r="3.45"/><circle cx="1793" cy="1397.4" r="3.45"/><circle cx="1798.2" cy="1396.4" r="3.45"/><circle cx="1803.3" cy="1397.2" r="3.45"/><circle cx="1808.5" cy="1396.8" r="3.45"/><circle cx="1813.6" cy="1388.2" r="3.45"/><circle cx="1818.8" cy="1385.8" r="3.45"/><circle cx="1824" cy="1384.4" r="3.45"/><circle cx="1829.1" cy="1380.8" r="3.45"/><circle cx="1834.3" cy="1383.8" r="3.45"/><circle cx="1932.3" cy="1367.8" r="3.45"/><circle cx="1937.5" cy="1373.8" r="3.45"/><circle cx="1942.6" cy="1365.3" r="3.45"/><circle cx="1947.8" cy="1364.9" r="3.45"/><circle cx="1953" cy="1362.9" r="3.45"/><circle cx="1958.1" cy="1359.3" r="3.45"/><circle cx="1963.3" cy="1359.9" r="3.45"/><circle cx="1968.4" cy="1360.3" r="3.45"/><circle cx="1973.6" cy="1363.5" r="3.45"/><circle cx="1978.8" cy="1366.4" r="3.45"/><circle cx="1983.9" cy="1355.5" r="3.45"/><circle cx="1989.1" cy="1353.3" r="3.45"/><circle cx="1994.2" cy="1358.5" r="3.45"/><circle cx="1999.4" cy="1359.3" r="3.45"/><circle cx="2004.6" cy="1364.9" r="3.45"/><circle cx="2009.7" cy="1371.2" r="3.45"/><circle cx="2014.9" cy="1376.4" r="3.45"/><circle cx="2020" cy="1377.8" r="3.45"/><circle cx="2025.2" cy="1375.4" r="3.45"/><circle cx="2030.4" cy="1369.4" r="3.45"/></g>
<path d="M1256.4 1309.9V1340.6M1261.5 1316.8V1343.1M1266.7 1324.5V1346.4M1271.8 1314.6V1342.1M1277 1322.6V1350M1282.2 1332.2V1353.8M1287.3 1334.3V1354.6M1292.5 1336.8V1360M1297.6 1344.4V1365.7M1302.8 1347.8V1365.2M1308 1353.3V1370.5M1313.1 1357.8V1376.4M1318.3 1354.5V1372.5M1323.4 1351.8V1368.1M1328.6 1351.2V1369.8M1333.8 1354.8V1374.2M1338.9 1360V1375.8M1344.1 1351.9V1368.4M1349.2 1337.4V1360.2M1354.4 1316V1344.6M1359.6 1321.4V1344.6M1364.7 1296.3V1325.5M1369.9 1291.7V1326.7M1375 1305.3V1335.2M1380.2 1294.9V1322.9M1385.4 1279.5V1314.1M1390.5 1257V1301.1M1395.7 1245.6V1287.4M1400.8 1256.6V1292.6M1406 1262.4V1303M1411.2 1260.8V1303.3M1416.3 1277.2V1310.1M1421.5 1276.3V1309.4M1426.6 1238.3V1286.4M1431.8 1235.5V1282.5M1437 1227.5V1269.5M1442.1 1245.9V1287.5M1447.3 1250.1V1296M1452.4 1253.8V1294.4M1457.6 1267.4V1301.1M1462.8 1266.7V1305.6M1467.9 1270.3V1310.7M1473.1 1277.6V1310.9M1478.2 1312.9V1337.9M1483.4 1324.5V1350.9M1488.6 1341.9V1363.7M1493.7 1337.3V1356.9M1498.9 1332.5V1354.3M1504 1313.8V1343.5M1509.2 1309.8V1338M1514.4 1306.6V1332.2M1519.5 1291.5V1324.1M1524.7 1277.1V1316M1529.8 1272.3V1307.3M1535 1278.8V1310.6M1540.2 1278V1315.5M1545.3 1277.2V1315.1M1550.5 1287.2V1317.4M1555.6 1298.9V1327.7M1560.8 1296.2V1330.2M1566 1287.7V1321.5M1571.1 1299.9V1326.8M1576.3 1313.2V1340.3M1581.4 1317.2V1346.1M1586.6 1315.9V1341.7M1591.8 1325.9V1347.7M1596.9 1334.7V1358.1M1602.1 1325.1V1351.5M1607.2 1308.7V1334.8M1612.4 1304.1V1331.4M1617.6 1311.3V1341.3M1622.7 1311.4V1340M1627.9 1317.3V1340.8M1633 1324.3V1348.5M1638.2 1314V1343.8M1643.4 1315.2V1341.5M1648.5 1311V1335.8M1653.7 1320.1V1346.6M1658.8 1345.2V1366.8M1664 1352V1369.1M1669.2 1357.3V1373M1674.3 1347.6V1368.4M1679.5 1325.5V1351.2M1684.6 1325.9V1347.8M1689.8 1336.5V1357.6M1695 1329.5V1355.3M1700.1 1325.8V1350.1M1705.3 1312.2V1336.6M1710.4 1312.4V1340.3M1715.6 1312.7V1342.6M1720.8 1316.2V1341.3M1725.9 1331.4V1352.3M1731.1 1347.1V1367.8M1736.2 1332.2V1356.5M1741.4 1320.4V1343.6M1746.6 1313V1338.9M1751.7 1316.2V1345.2M1756.9 1338.6V1360.3M1762 1340.8V1359.4M1767.2 1341.4V1362.2M1772.4 1339.4V1362.6M1777.5 1337.7V1358.4M1782.7 1329.9V1351M1787.8 1341V1363M1793 1339.4V1362.2M1798.2 1334.2V1354.7M1803.3 1337.3V1357.6M1808.5 1335.8V1359.8M1813.6 1314.9V1342.6M1818.8 1308.1V1333.4M1824 1301.5V1331.1M1829.1 1291.5V1326.9M1834.3 1299V1328.8M1932.3 1264.9V1299.5M1937.5 1275.7V1310M1942.6 1247.8V1294.2M1947.8 1247.3V1290M1953 1246.7V1284.5M1958.1 1236.3V1281.7M1963.3 1239.3V1287.8M1968.4 1242.8V1284.2M1973.6 1253.2V1290.3M1978.8 1255.6V1298.5M1983.9 1227.4V1277.6M1989.1 1224.3V1267.8M1994.2 1238.8V1280.6M1999.4 1242.2V1289.8M2004.6 1253.5V1295.4M2009.7 1268.6V1301.9M2014.9 1277.1V1312.5M2020 1282.7V1320.4M2025.2 1279.2V1313.2M2030.4 1265.5V1299.8" stroke="#A020F0" stroke-opacity="0.5" stroke-width="1.8" fill="none"/>
<g fill="#A020F0"><circle cx="1256.4" cy="1325.9" r="3.45"/><circle cx="1261.5" cy="1330.5" r="3.45"/><circle cx="1266.7" cy="1335.9" r="3.45"/><circle cx="1271.8" cy="1328.9" r="3.45"/><circle cx="1277" cy="1336.9" r="3.45"/><circle cx="1282.2" cy="1343.5" r="3.45"/><circle cx="1287.3" cy="1344.9" r="3.45"/><circle cx="1292.5" cy="1348.9" r="3.45"/><circle cx="1297.6" cy="1355.5" r="3.45"/><circle cx="1302.8" cy="1356.9" r="3.45"/><circle cx="1308" cy="1362.3" r="3.45"/><circle cx="1313.1" cy="1367.4" r="3.45"/><circle cx="1318.3" cy="1363.9" r="3.45"/><circle cx="1323.4" cy="1360.3" r="3.45"/><circle cx="1328.6" cy="1360.9" r="3.45"/><circle cx="1333.8" cy="1364.9" r="3.45"/><circle cx="1338.9" cy="1368.2" r="3.45"/><circle cx="1344.1" cy="1360.5" r="3.45"/><circle cx="1349.2" cy="1349.3" r="3.45"/><circle cx="1354.4" cy="1330.9" r="3.45"/><circle cx="1359.6" cy="1333.5" r="3.45"/><circle cx="1364.7" cy="1311.5" r="3.45"/><circle cx="1369.9" cy="1309.9" r="3.45"/><circle cx="1375" cy="1320.9" r="3.45"/><circle cx="1380.2" cy="1309.5" r="3.45"/><circle cx="1385.4" cy="1297.5" r="3.45"/><circle cx="1390.5" cy="1279.9" r="3.45"/><circle cx="1395.7" cy="1267.3" r="3.45"/><circle cx="1400.8" cy="1275.3" r="3.45"/><circle cx="1406" cy="1283.5" r="3.45"/><circle cx="1411.2" cy="1282.9" r="3.45"/><circle cx="1416.3" cy="1294.3" r="3.45"/><circle cx="1421.5" cy="1293.5" r="3.45"/><circle cx="1426.6" cy="1263.3" r="3.45"/><circle cx="1431.8" cy="1259.9" r="3.45"/><circle cx="1437" cy="1249.3" r="3.45"/><circle cx="1442.1" cy="1267.5" r="3.45"/><circle cx="1447.3" cy="1273.9" r="3.45"/><circle cx="1452.4" cy="1274.9" r="3.45"/><circle cx="1457.6" cy="1284.9" r="3.45"/><circle cx="1462.8" cy="1286.9" r="3.45"/><circle cx="1467.9" cy="1291.3" r="3.45"/><circle cx="1473.1" cy="1294.9" r="3.45"/><circle cx="1478.2" cy="1325.9" r="3.45"/><circle cx="1483.4" cy="1338.3" r="3.45"/><circle cx="1488.6" cy="1353.3" r="3.45"/><circle cx="1493.7" cy="1347.5" r="3.45"/><circle cx="1498.9" cy="1343.9" r="3.45"/><circle cx="1504" cy="1329.3" r="3.45"/><circle cx="1509.2" cy="1324.5" r="3.45"/><circle cx="1514.4" cy="1319.9" r="3.45"/><circle cx="1519.5" cy="1308.5" r="3.45"/><circle cx="1524.7" cy="1297.3" r="3.45"/><circle cx="1529.8" cy="1290.5" r="3.45"/><circle cx="1535" cy="1295.3" r="3.45"/><circle cx="1540.2" cy="1297.5" r="3.45"/><circle cx="1545.3" cy="1296.9" r="3.45"/><circle cx="1550.5" cy="1302.9" r="3.45"/><circle cx="1555.6" cy="1313.9" r="3.45"/><circle cx="1560.8" cy="1313.9" r="3.45"/><circle cx="1566" cy="1305.3" r="3.45"/><circle cx="1571.1" cy="1313.9" r="3.45"/><circle cx="1576.3" cy="1327.3" r="3.45"/><circle cx="1581.4" cy="1332.3" r="3.45"/><circle cx="1586.6" cy="1329.3" r="3.45"/><circle cx="1591.8" cy="1337.3" r="3.45"/><circle cx="1596.9" cy="1346.9" r="3.45"/><circle cx="1602.1" cy="1338.9" r="3.45"/><circle cx="1607.2" cy="1322.3" r="3.45"/><circle cx="1612.4" cy="1318.3" r="3.45"/><circle cx="1617.6" cy="1326.9" r="3.45"/><circle cx="1622.7" cy="1326.3" r="3.45"/><circle cx="1627.9" cy="1329.5" r="3.45"/><circle cx="1633" cy="1336.9" r="3.45"/><circle cx="1638.2" cy="1329.5" r="3.45"/><circle cx="1643.4" cy="1328.9" r="3.45"/><circle cx="1648.5" cy="1323.9" r="3.45"/><circle cx="1653.7" cy="1333.9" r="3.45"/><circle cx="1658.8" cy="1356.5" r="3.45"/><circle cx="1664" cy="1360.9" r="3.45"/><circle cx="1669.2" cy="1365.5" r="3.45"/><circle cx="1674.3" cy="1358.5" r="3.45"/><circle cx="1679.5" cy="1338.9" r="3.45"/><circle cx="1684.6" cy="1337.3" r="3.45"/><circle cx="1689.8" cy="1347.5" r="3.45"/><circle cx="1695" cy="1342.9" r="3.45"/><circle cx="1700.1" cy="1338.5" r="3.45"/><circle cx="1705.3" cy="1324.9" r="3.45"/><circle cx="1710.4" cy="1326.9" r="3.45"/><circle cx="1715.6" cy="1328.3" r="3.45"/><circle cx="1720.8" cy="1329.3" r="3.45"/><circle cx="1725.9" cy="1342.3" r="3.45"/><circle cx="1731.1" cy="1357.9" r="3.45"/><circle cx="1736.2" cy="1344.9" r="3.45"/><circle cx="1741.4" cy="1332.5" r="3.45"/><circle cx="1746.6" cy="1326.5" r="3.45"/><circle cx="1751.7" cy="1331.3" r="3.45"/><circle cx="1756.9" cy="1349.9" r="3.45"/><circle cx="1762" cy="1350.5" r="3.45"/><circle cx="1767.2" cy="1352.3" r="3.45"/><circle cx="1772.4" cy="1351.5" r="3.45"/><circle cx="1777.5" cy="1348.5" r="3.45"/><circle cx="1782.7" cy="1340.9" r="3.45"/><circle cx="1787.8" cy="1352.5" r="3.45"/><circle cx="1793" cy="1351.3" r="3.45"/><circle cx="1798.2" cy="1344.9" r="3.45"/><circle cx="1803.3" cy="1347.9" r="3.45"/><circle cx="1808.5" cy="1348.3" r="3.45"/><circle cx="1813.6" cy="1329.3" r="3.45"/><circle cx="1818.8" cy="1321.3" r="3.45"/><circle cx="1824" cy="1316.9" r="3.45"/><circle cx="1829.1" cy="1309.9" r="3.45"/><circle cx="1834.3" cy="1314.5" r="3.45"/><circle cx="1932.3" cy="1282.9" r="3.45"/><circle cx="1937.5" cy="1293.5" r="3.45"/><circle cx="1942.6" cy="1271.9" r="3.45"/><circle cx="1947.8" cy="1269.5" r="3.45"/><circle cx="1953" cy="1266.3" r="3.45"/><circle cx="1958.1" cy="1259.9" r="3.45"/><circle cx="1963.3" cy="1264.5" r="3.45"/><circle cx="1968.4" cy="1264.3" r="3.45"/><circle cx="1973.6" cy="1272.5" r="3.45"/><circle cx="1978.8" cy="1277.9" r="3.45"/><circle cx="1983.9" cy="1253.5" r="3.45"/><circle cx="1989.1" cy="1246.9" r="3.45"/><circle cx="1994.2" cy="1260.5" r="3.45"/><circle cx="1999.4" cy="1266.9" r="3.45"/><circle cx="2004.6" cy="1275.3" r="3.45"/><circle cx="2009.7" cy="1285.9" r="3.45"/><circle cx="2014.9" cy="1295.5" r="3.45"/><circle cx="2020" cy="1302.3" r="3.45"/><circle cx="2025.2" cy="1296.9" r="3.45"/><circle cx="2030.4" cy="1283.3" r="3.45"/></g>
<path d="M1225.3 1035.4V1431.6M1223 1431.6H2063.4M1213.3 1431.6H1225.3M1213.3 1300.3H1225.3M1213.3 1169H1225.3M1213.3 1037.7H1225.3M1251.2 1431.6V1443.9M1411.2 1431.6V1443.9M1560.8 1431.6V1443.9M1720.8 1431.6V1443.9M1875.6 1431.6V1443.9M2035.5 1431.6V1443.9" stroke="#000" stroke-width="4.6" fill="none"/>
<g font-size="41.7" fill="#000"><text x="1204.3" y="1450.6" text-anchor="end">0</text><text x="1204.3" y="1319.3" text-anchor="end">100</text><text x="1204.3" y="1188" text-anchor="end">200</text><text x="1204.3" y="1056.7" text-anchor="end">300</text><text x="1251.2" y="1491.2" text-anchor="middle">Jan</text><text x="1411.2" y="1491.2" text-anchor="middle">Feb</text><text x="1560.8" y="1491.2" text-anchor="middle">Mar</text><text x="1720.8" y="1491.2" text-anchor="middle">Apr</text><text x="1875.6" y="1491.2" text-anchor="middle">May</text><text x="2035.5" y="1491.2" text-anchor="middle">Jun</text></g>
<text x="1242.3" y="1098.4" font-size="45.8" font-weight="bold">2024</text>
</g>
<g>
<rect x="721" y="0" width="72.9" height="45.7" fill="#000"/>
<rect x="721" y="57.2" width="72.9" height="45.7" fill="#0000FF"/>
<rect x="721" y="102.8" width="72.9" height="45.7" fill="#A52A2A"/>
<rect x="721" y="148.4" width="72.9" height="45.7" fill="#A020F0"/>
<g font-size="45.8" font-weight="bold" fill="#000">
<text x="709.2" y="39.8" text-anchor="end">Observed</text>
<text x="709.2" y="141.5" text-anchor="end">Simulated</text>
<text x="809.7" y="97.1">EDGAR v6.0</text>
<text x="809.7" y="142.4">GHGI v2023</text>
<text x="809.7" y="187.2">Pitt High-Res.</text>
<text x="809.7" y="231.6">Inventory</text>
</g></g>
<text x="0" y="726.7" font-size="45.8" font-weight="bold" fill="#000" id="ylab1">ΔCH<tspan font-size="31" dy="11" dx="1">4</tspan></text>
<text x="59.4" y="781.8" font-size="45.5" fill="#000" text-anchor="middle" id="ylab2">[ppbv]</text>
</svg>
</body></html>
